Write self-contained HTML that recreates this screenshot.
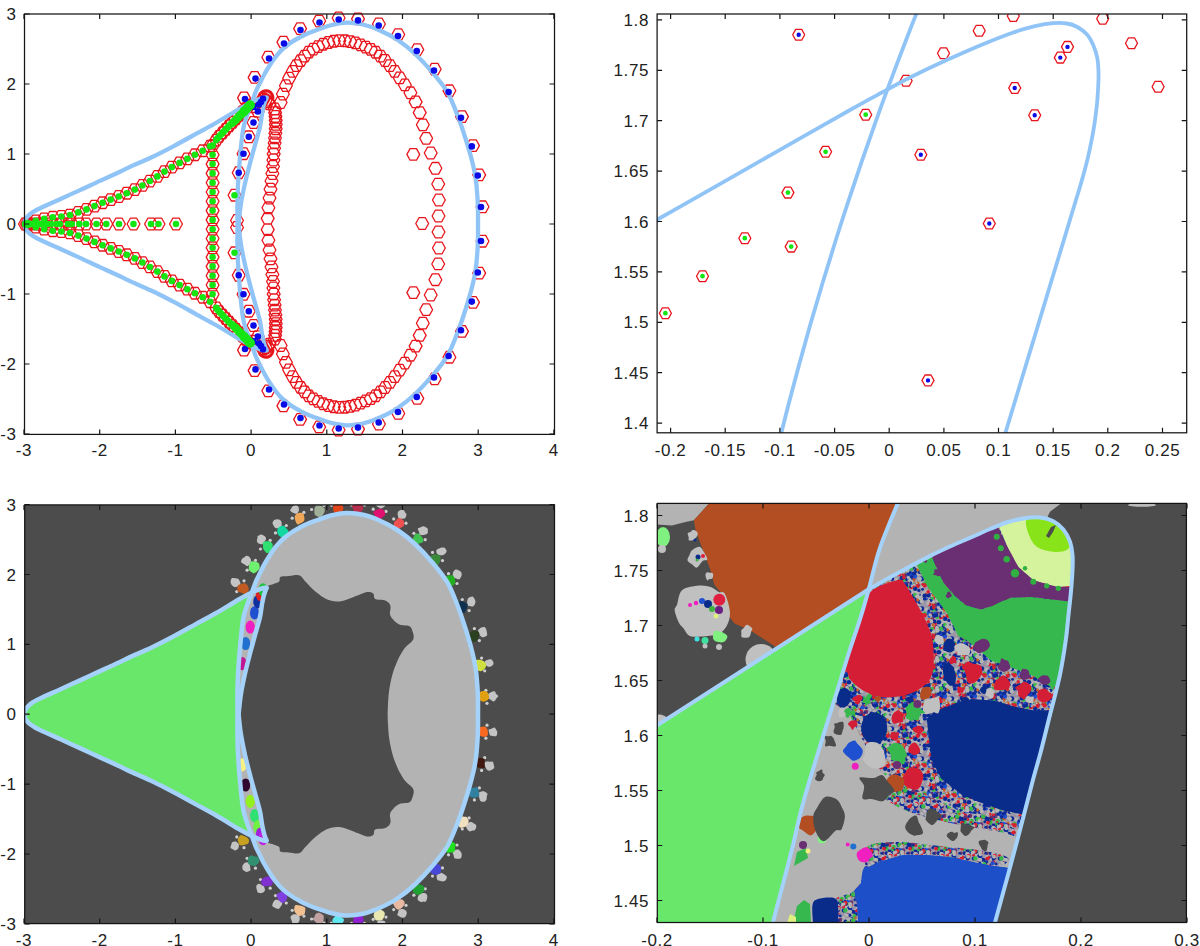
<!DOCTYPE html>
<html><head><meta charset="utf-8"><style>
html,body{margin:0;padding:0;background:#fff;width:1200px;height:946px;overflow:hidden}
svg{display:block}
</style></head><body>
<svg width="1200" height="946" viewBox="0 0 1200 946">
<rect x="24.7" y="504.9" width="529.8" height="418.70000000000005" fill="#4c4c4c"/>
<rect x="657.3" y="503.4" width="529.1000000000001" height="419.1" fill="#4c4c4c"/>
<path d="M476.1,206.8L479.3,201H485.7L488.9,206.8L485.7,212.6H479.3ZM472.8,174.9L476,169.2H482.4L485.6,174.9L482.4,180.7H476ZM466.6,145.6L469.8,139.8H476.2L479.4,145.6L476.2,151.3H469.8ZM455.6,116.6L458.8,110.9H465.2L468.4,116.6L465.2,122.4H458.8ZM443,90.8L446.2,85H452.6L455.8,90.8L452.6,96.5H446.2ZM428.3,69.2L431.5,63.4H437.9L441.1,69.2L437.9,74.9H431.5ZM410.9,49.6L414.1,43.8H420.5L423.7,49.6L420.5,55.3H414.1ZM391.9,34.5L395.1,28.8H401.5L404.7,34.5L401.5,40.3H395.1ZM372.5,24L375.7,18.2H382.1L385.3,24L382.1,29.8H375.7ZM351.6,18.9L354.8,13.1H361.2L364.4,18.9L361.2,24.7H354.8ZM332.2,18L335.4,12.2H341.8L345,18L341.8,23.8H335.4ZM312.8,21L316,15.3H322.4L325.6,21L322.4,26.8H316ZM293.7,28.6L296.9,22.8H303.3L306.5,28.6L303.3,34.3H296.9ZM277,42.1L280.2,36.4H286.6L289.8,42.1L286.6,47.9H280.2ZM261.9,57.2L265.1,51.4H271.5L274.7,57.2L271.5,62.9H265.1ZM248.2,77.4L251.4,71.6H257.8L261,77.4L257.8,83.1H251.4ZM237.6,97.9L240.8,92.1H247.2L250.4,97.9L247.2,103.6H240.8ZM476.1,241.2L479.3,235.4H485.7L488.9,241.2L485.7,247H479.3ZM472.8,273.1L476,267.3H482.4L485.6,273.1L482.4,278.8H476ZM466.6,302.4L469.8,296.7H476.2L479.4,302.4L476.2,308.2H469.8ZM455.6,331.4L458.8,325.6H465.2L468.4,331.4L465.2,337.1H458.8ZM443,357.2L446.2,351.5H452.6L455.8,357.2L452.6,363H446.2ZM428.3,378.8L431.5,373.1H437.9L441.1,378.8L437.9,384.6H431.5ZM410.9,398.4L414.1,392.7H420.5L423.7,398.4L420.5,404.2H414.1ZM391.9,413.5L395.1,407.7H401.5L404.7,413.5L401.5,419.2H395.1ZM372.5,424L375.7,418.2H382.1L385.3,424L382.1,429.8H375.7ZM351.6,429.1L354.8,423.3H361.2L364.4,429.1L361.2,434.9H354.8ZM332.2,430L335.4,424.2H341.8L345,430L341.8,435.8H335.4ZM312.8,427L316,421.2H322.4L325.6,427L322.4,432.7H316ZM293.7,419.4L296.9,413.7H303.3L306.5,419.4L303.3,425.2H296.9ZM277,405.9L280.2,400.1H286.6L289.8,405.9L286.6,411.6H280.2ZM261.9,390.8L265.1,385.1H271.5L274.7,390.8L271.5,396.6H265.1ZM248.2,370.6L251.4,364.9H257.8L261,370.6L257.8,376.4H251.4ZM237.6,350.1L240.8,344.4H247.2L250.4,350.1L247.2,355.9H240.8ZM232.3,172.7L235.5,166.9H241.9L245.1,172.7L241.9,178.5H235.5ZM237.1,153.7L240.3,147.9H246.7L249.9,153.7L246.7,159.5H240.3ZM242.4,136.8L245.6,131H252L255.2,136.8L252,142.6H245.6ZM247.1,122.5L250.3,116.7H256.7L259.9,122.5L256.7,128.3H250.3ZM251.4,111.4L254.6,105.6H261L264.2,111.4L261,117.2H254.6ZM247.1,106.7L250.3,100.9H256.7L259.9,106.7L256.7,112.5H250.3ZM254.6,102L257.8,96.2H264.2L267.4,102L264.2,107.8H257.8ZM256.6,98.7L259.8,92.9H266.2L269.4,98.7L266.2,104.5H259.8ZM252.6,104.5L255.8,98.7H262.2L265.4,104.5L262.2,110.3H255.8ZM232.3,275.3L235.5,269.5H241.9L245.1,275.3L241.9,281.1H235.5ZM237.1,294.3L240.3,288.5H246.7L249.9,294.3L246.7,300.1H240.3ZM242.4,311.2L245.6,305.4H252L255.2,311.2L252,317H245.6ZM247.1,325.5L250.3,319.7H256.7L259.9,325.5L256.7,331.3H250.3ZM251.4,336.6L254.6,330.8H261L264.2,336.6L261,342.4H254.6ZM247.1,341.3L250.3,335.5H256.7L259.9,341.3L256.7,347.1H250.3ZM254.6,346L257.8,340.2H264.2L267.4,346L264.2,351.8H257.8ZM256.6,349.3L259.8,343.5H266.2L269.4,349.3L266.2,355.1H259.8ZM252.6,343.5L255.8,337.7H262.2L265.4,343.5L262.2,349.3H255.8ZM228.1,195.2L231.3,189.4H237.7L240.9,195.2L237.7,201H231.3ZM228.1,252.8L231.3,247H237.7L240.9,252.8L237.7,258.6H231.3ZM230.6,220.5L233.8,214.7H240.2L243.4,220.5L240.2,226.3H233.8ZM230.6,227.5L233.8,221.7H240.2L243.4,227.5L240.2,233.3H233.8ZM406.9,154.4L410.1,148.6H416.5L419.7,154.4L416.5,160.2H410.1ZM415.8,223.5L419,217.7H425.4L428.6,223.5L425.4,229.3H419ZM406.9,292.6L410.1,286.8H416.5L419.7,292.6L416.5,298.4H410.1ZM432.1,216L435.3,210.2H441.7L444.9,216L441.7,221.8H435.3ZM432.5,200L435.7,194.2H442.1L445.3,200L442.1,205.8H435.7ZM431.8,184L435,178.3H441.4L444.6,184L441.4,189.8H435ZM429,168.3L432.2,162.5H438.6L441.8,168.3L438.6,174.1H432.2ZM424.3,153L427.5,147.2H433.9L437.1,153L433.9,158.8H427.5ZM419.8,138.3L423,132.6H429.4L432.6,138.3L429.4,144.1H423ZM416.4,124.8L419.6,119.1H426L429.2,124.8L426,130.6H419.6ZM413.3,112.6L416.5,106.8H422.9L426.1,112.6L422.9,118.3H416.5ZM409.2,101.9L412.4,96.1H418.8L422,101.9L418.8,107.7H412.4ZM404,92.8L407.2,87H413.6L416.8,92.8L413.6,98.6H407.2ZM398.5,85L401.7,79.2H408.1L411.3,85L408.1,90.7H401.7ZM393.3,77.8L396.5,72.1H402.9L406.1,77.8L402.9,83.6H396.5ZM388.3,71.3L391.5,65.6H397.9L401.1,71.3L397.9,77.1H391.5ZM383.5,65.6L386.7,59.8H393.1L396.3,65.6L393.1,71.3H386.7ZM378.7,60.5L381.9,54.7H388.3L391.5,60.5L388.3,66.3H381.9ZM374,56L377.2,50.3H383.6L386.8,56L383.6,61.8H377.2ZM369.2,52.2L372.4,46.5H378.8L382,52.2L378.8,58H372.4ZM364.3,49.3L367.5,43.6H373.9L377.1,49.3L373.9,55.1H367.5ZM359.3,47L362.5,41.3H368.9L372.1,47L368.9,52.8H362.5ZM354.2,45L357.4,39.2H363.8L367,45L363.8,50.7H357.4ZM349.1,43L352.3,37.2H358.7L361.9,43L358.7,48.7H352.3ZM343.8,41.6L347,35.8H353.4L356.6,41.6L353.4,47.3H347ZM338.4,40.8L341.6,35H348L351.2,40.8L348,46.5H341.6ZM332.9,40.6L336.1,34.9H342.5L345.7,40.6L342.5,46.4H336.1ZM327.4,41.3L330.6,35.5H337L340.2,41.3L337,47H330.6ZM322,42.5L325.2,36.7H331.6L334.8,42.5L331.6,48.3H325.2ZM316.8,44.3L320,38.5H326.4L329.6,44.3L326.4,50H320ZM311.8,46.5L315,40.8H321.4L324.6,46.5L321.4,52.3H315ZM307,49.1L310.2,43.3H316.6L319.8,49.1L316.6,54.8H310.2ZM302.4,52.2L305.6,46.4H312L315.2,52.2L312,57.9H305.6ZM298.3,56.1L301.5,50.3H307.9L311.1,56.1L307.9,61.8H301.5ZM294.2,60.6L297.4,54.8H303.8L307,60.6L303.8,66.4H297.4ZM290,65.6L293.2,59.8H299.6L302.8,65.6L299.6,71.4H293.2ZM286.3,71.5L289.5,65.7H295.9L299.1,71.5L295.9,77.2H289.5ZM282.7,78.2L285.9,72.4H292.3L295.5,78.2L292.3,83.9H285.9ZM279.5,85.7L282.7,79.9H289.1L292.3,85.7L289.1,91.4H282.7ZM276.5,94L279.7,88.3H286.1L289.3,94L286.1,99.8H279.7ZM274.2,102.5L277.4,96.7H283.8L287,102.5L283.8,108.3H277.4ZM432.1,232L435.3,226.2H441.7L444.9,232L441.7,237.8H435.3ZM432.5,248L435.7,242.2H442.1L445.3,248L442.1,253.8H435.7ZM431.8,264L435,258.2H441.4L444.6,264L441.4,269.7H435ZM429,279.7L432.2,273.9H438.6L441.8,279.7L438.6,285.5H432.2ZM424.3,295L427.5,289.2H433.9L437.1,295L433.9,300.8H427.5ZM419.8,309.7L423,303.9H429.4L432.6,309.7L429.4,315.4H423ZM416.4,323.2L419.6,317.4H426L429.2,323.2L426,328.9H419.6ZM413.3,335.4L416.5,329.7H422.9L426.1,335.4L422.9,341.2H416.5ZM409.2,346.1L412.4,340.3H418.8L422,346.1L418.8,351.9H412.4ZM404,355.2L407.2,349.4H413.6L416.8,355.2L413.6,361H407.2ZM398.5,363L401.7,357.3H408.1L411.3,363L408.1,368.8H401.7ZM393.3,370.2L396.5,364.4H402.9L406.1,370.2L402.9,375.9H396.5ZM388.3,376.7L391.5,370.9H397.9L401.1,376.7L397.9,382.4H391.5ZM383.5,382.4L386.7,376.7H393.1L396.3,382.4L393.1,388.2H386.7ZM378.7,387.5L381.9,381.7H388.3L391.5,387.5L388.3,393.3H381.9ZM374,392L377.2,386.2H383.6L386.8,392L383.6,397.7H377.2ZM369.2,395.8L372.4,390H378.8L382,395.8L378.8,401.5H372.4ZM364.3,398.7L367.5,392.9H373.9L377.1,398.7L373.9,404.4H367.5ZM359.3,401L362.5,395.2H368.9L372.1,401L368.9,406.7H362.5ZM354.2,403L357.4,397.3H363.8L367,403L363.8,408.8H357.4ZM349.1,405L352.3,399.3H358.7L361.9,405L358.7,410.8H352.3ZM343.8,406.4L347,400.7H353.4L356.6,406.4L353.4,412.2H347ZM338.4,407.2L341.6,401.5H348L351.2,407.2L348,413H341.6ZM332.9,407.4L336.1,401.6H342.5L345.7,407.4L342.5,413.1H336.1ZM327.4,406.7L330.6,401H337L340.2,406.7L337,412.5H330.6ZM322,405.5L325.2,399.7H331.6L334.8,405.5L331.6,411.3H325.2ZM316.8,403.7L320,398H326.4L329.6,403.7L326.4,409.5H320ZM311.8,401.5L315,395.7H321.4L324.6,401.5L321.4,407.2H315ZM307,398.9L310.2,393.2H316.6L319.8,398.9L316.6,404.7H310.2ZM302.4,395.8L305.6,390.1H312L315.2,395.8L312,401.6H305.6ZM298.3,391.9L301.5,386.2H307.9L311.1,391.9L307.9,397.7H301.5ZM294.2,387.4L297.4,381.6H303.8L307,387.4L303.8,393.2H297.4ZM290,382.4L293.2,376.6H299.6L302.8,382.4L299.6,388.2H293.2ZM286.3,376.5L289.5,370.8H295.9L299.1,376.5L295.9,382.3H289.5ZM282.7,369.8L285.9,364.1H292.3L295.5,369.8L292.3,375.6H285.9ZM279.5,362.3L282.7,356.6H289.1L292.3,362.3L289.1,368.1H282.7ZM276.5,354L279.7,348.2H286.1L289.3,354L286.1,359.7H279.7ZM274.2,345.5L277.4,339.7H283.8L287,345.5L283.8,351.3H277.4ZM257.1,99.2L260.3,93.4H266.7L269.9,99.2L266.7,105H260.3ZM259.1,100.3L262.3,94.5H268.7L271.9,100.3L268.7,106.1H262.3ZM261.1,101.8L264.3,96H270.7L273.9,101.8L270.7,107.6H264.3ZM263.1,103.8L266.3,98H272.7L275.9,103.8L272.7,109.6H266.3ZM257.1,348.8L260.3,343H266.7L269.9,348.8L266.7,354.6H260.3ZM259.1,347.7L262.3,341.9H268.7L271.9,347.7L268.7,353.5H262.3ZM261.1,346.2L264.3,340.4H270.7L273.9,346.2L270.7,352H264.3ZM263.1,344.2L266.3,338.4H272.7L275.9,344.2L272.7,350H266.3ZM261.3,218.4L264.5,212.6H270.9L274.1,218.4L270.9,224.2H264.5ZM262,207.7L265.2,202H271.6L274.8,207.7L271.6,213.5H265.2ZM263.1,198L266.3,192.3H272.7L275.9,198L272.7,203.8H266.3ZM264.1,189.2L267.3,183.4H273.7L276.9,189.2L273.7,194.9H267.3ZM265.1,181L268.3,175.3H274.7L277.9,181L274.7,186.8H268.3ZM266,173.5L269.2,167.7H275.6L278.8,173.5L275.6,179.3H269.2ZM266.6,166.5L269.8,160.7H276.2L279.4,166.5L276.2,172.3H269.8ZM267,160L270.2,154.2H276.6L279.8,160L276.6,165.8H270.2ZM267.3,153.9L270.5,148.2H276.9L280.1,153.9L276.9,159.7H270.5ZM267.7,148.3L270.9,142.5H277.3L280.5,148.3L277.3,154H270.9ZM268.2,143L271.4,137.2H277.8L281,143L277.8,148.7H271.4ZM268.6,138L271.8,132.2H278.2L281.4,138L278.2,143.7H271.8ZM269,133.2L272.2,127.5H278.6L281.8,133.2L278.6,139H272.2ZM269.3,128.8L272.5,123H278.9L282.1,128.8L278.9,134.5H272.5ZM269.4,124.5L272.6,118.7H279L282.2,124.5L279,130.2H272.6ZM269.3,120.4L272.5,114.6H278.9L282.1,120.4L278.9,126.1H272.5ZM269.1,116.5L272.3,110.7H278.7L281.9,116.5L278.7,122.2H272.3ZM268.7,112.7L271.9,106.9H278.3L281.5,112.7L278.3,118.4H271.9ZM268.4,109L271.6,103.2H278L281.2,109L278,114.8H271.6ZM261.3,229.6L264.5,223.8H270.9L274.1,229.6L270.9,235.4H264.5ZM262,240.3L265.2,234.5H271.6L274.8,240.3L271.6,246H265.2ZM263.1,250L266.3,244.2H272.7L275.9,250L272.7,255.7H266.3ZM264.1,258.8L267.3,253.1H273.7L276.9,258.8L273.7,264.6H267.3ZM265.1,267L268.3,261.2H274.7L277.9,267L274.7,272.7H268.3ZM266,274.5L269.2,268.7H275.6L278.8,274.5L275.6,280.3H269.2ZM266.6,281.5L269.8,275.7H276.2L279.4,281.5L276.2,287.3H269.8ZM267,288L270.2,282.2H276.6L279.8,288L276.6,293.8H270.2ZM267.3,294.1L270.5,288.3H276.9L280.1,294.1L276.9,299.8H270.5ZM267.7,299.7L270.9,294H277.3L280.5,299.7L277.3,305.5H270.9ZM268.2,305L271.4,299.3H277.8L281,305L277.8,310.8H271.4ZM268.6,310L271.8,304.3H278.2L281.4,310L278.2,315.8H271.8ZM269,314.8L272.2,309H278.6L281.8,314.8L278.6,320.5H272.2ZM269.3,319.2L272.5,313.5H278.9L282.1,319.2L278.9,325H272.5ZM269.4,323.5L272.6,317.8H279L282.2,323.5L279,329.3H272.6ZM269.3,327.6L272.5,321.9H278.9L282.1,327.6L278.9,333.4H272.5ZM269.1,331.5L272.3,325.8H278.7L281.9,331.5L278.7,337.3H272.3ZM268.7,335.3L271.9,329.6H278.3L281.5,335.3L278.3,341.1H271.9ZM268.4,339L271.6,333.2H278L281.2,339L278,344.8H271.6ZM21,223.1L24.2,217.4H30.6L33.8,223.1L30.6,228.9H24.2ZM29.4,220.8L32.6,215.1H39L42.2,220.8L39,226.6H32.6ZM37.8,218.8L41,213.1H47.4L50.6,218.8L47.4,224.6H41ZM46.4,217.2L49.6,211.5H56L59.2,217.2L56,223H49.6ZM55,216.5L58.2,210.7H64.6L67.8,216.5L64.6,222.2H58.2ZM63.6,215L66.8,209.3H73.2L76.4,215L73.2,220.8H66.8ZM71.9,212.4L75.1,206.7H81.5L84.7,212.4L81.5,218.2H75.1ZM80.1,209.4L83.3,203.7H89.7L92.9,209.4L89.7,215.2H83.3ZM88.1,206.1L91.3,200.4H97.7L100.9,206.1L97.7,211.9H91.3ZM96.2,202.8L99.4,197H105.8L109,202.8L105.8,208.5H99.4ZM104.3,199.6L107.5,193.9H113.9L117.1,199.6L113.9,205.4H107.5ZM112.4,196.5L115.6,190.7H122L125.2,196.5L122,202.3H115.6ZM120.4,193.2L123.6,187.4H130L133.2,193.2L130,199H123.6ZM128.4,189.6L131.6,183.9H138L141.2,189.6L138,195.4H131.6ZM136,185.5L139.2,179.7H145.6L148.8,185.5L145.6,191.2H139.2ZM143.5,181L146.7,175.3H153.1L156.3,181L153.1,186.8H146.7ZM150.9,176.4L154.1,170.7H160.5L163.7,176.4L160.5,182.2H154.1ZM158.1,171.6L161.3,165.9H167.7L170.9,171.6L167.7,177.4H161.3ZM165.5,167.1L168.7,161.3H175.1L178.3,167.1L175.1,172.8H168.7ZM173.2,162.9L176.4,157.1H182.8L186,162.9L182.8,168.6H176.4ZM180.9,158.8L184.1,153.1H190.5L193.7,158.8L190.5,164.6H184.1ZM188.5,154.7L191.7,149H198.1L201.3,154.7L198.1,160.5H191.7ZM196.3,150.7L199.5,145H205.9L209.1,150.7L205.9,156.5H199.5ZM203.7,146.3L206.9,140.5H213.3L216.5,146.3L213.3,152H206.9ZM209.8,140.1L213,134.4H219.4L222.6,140.1L219.4,145.9H213ZM212.8,136.3L216,130.6H222.4L225.6,136.3L222.4,142.1H216ZM216.1,132.8L219.3,127.1H225.7L228.9,132.8L225.7,138.6H219.3ZM219.4,129.4L222.6,123.6H229L232.2,129.4L229,135.1H222.6ZM222.7,125.9L225.9,120.1H232.3L235.5,125.9L232.3,131.6H225.9ZM226,122.4L229.2,116.7H235.6L238.8,122.4L235.6,128.2H229.2ZM229.3,118.9L232.5,113.2H238.9L242.1,118.9L238.9,124.7H232.5ZM232.6,115.5L235.8,109.7H242.2L245.4,115.5L242.2,121.2H235.8ZM235.9,112L239.1,106.2H245.5L248.7,112L245.5,117.8H239.1ZM239.3,108.5L242.5,102.8H248.9L252.1,108.5L248.9,114.3H242.5ZM242.6,105.1L245.8,99.3H252.2L255.4,105.1L252.2,110.8H245.8ZM21,224.9L24.2,219.1H30.6L33.8,224.9L30.6,230.6H24.2ZM29.4,227.2L32.6,221.4H39L42.2,227.2L39,232.9H32.6ZM37.8,229.2L41,223.4H47.4L50.6,229.2L47.4,234.9H41ZM46.4,230.8L49.6,225H56L59.2,230.8L56,236.5H49.6ZM55,231.5L58.2,225.8H64.6L67.8,231.5L64.6,237.3H58.2ZM63.6,233L66.8,227.2H73.2L76.4,233L73.2,238.7H66.8ZM71.9,235.6L75.1,229.8H81.5L84.7,235.6L81.5,241.3H75.1ZM80.1,238.6L83.3,232.8H89.7L92.9,238.6L89.7,244.3H83.3ZM88.1,241.9L91.3,236.1H97.7L100.9,241.9L97.7,247.6H91.3ZM96.2,245.2L99.4,239.5H105.8L109,245.2L105.8,251H99.4ZM104.3,248.4L107.5,242.6H113.9L117.1,248.4L113.9,254.1H107.5ZM112.4,251.5L115.6,245.7H122L125.2,251.5L122,257.3H115.6ZM120.4,254.8L123.6,249H130L133.2,254.8L130,260.6H123.6ZM128.4,258.4L131.6,252.6H138L141.2,258.4L138,264.1H131.6ZM136,262.5L139.2,256.8H145.6L148.8,262.5L145.6,268.3H139.2ZM143.5,267L146.7,261.2H153.1L156.3,267L153.1,272.7H146.7ZM150.9,271.6L154.1,265.8H160.5L163.7,271.6L160.5,277.3H154.1ZM158.1,276.4L161.3,270.6H167.7L170.9,276.4L167.7,282.1H161.3ZM165.5,280.9L168.7,275.2H175.1L178.3,280.9L175.1,286.7H168.7ZM173.2,285.1L176.4,279.4H182.8L186,285.1L182.8,290.9H176.4ZM180.9,289.2L184.1,283.4H190.5L193.7,289.2L190.5,294.9H184.1ZM188.5,293.3L191.7,287.5H198.1L201.3,293.3L198.1,299H191.7ZM196.3,297.3L199.5,291.5H205.9L209.1,297.3L205.9,303H199.5ZM203.7,301.7L206.9,296H213.3L216.5,301.7L213.3,307.5H206.9ZM209.8,307.9L213,302.1H219.4L222.6,307.9L219.4,313.6H213ZM212.8,311.7L216,305.9H222.4L225.6,311.7L222.4,317.4H216ZM216.1,315.2L219.3,309.4H225.7L228.9,315.2L225.7,320.9H219.3ZM219.4,318.6L222.6,312.9H229L232.2,318.6L229,324.4H222.6ZM222.7,322.1L225.9,316.4H232.3L235.5,322.1L232.3,327.9H225.9ZM226,325.6L229.2,319.8H235.6L238.8,325.6L235.6,331.3H229.2ZM229.3,329.1L232.5,323.3H238.9L242.1,329.1L238.9,334.8H232.5ZM232.6,332.5L235.8,326.8H242.2L245.4,332.5L242.2,338.3H235.8ZM235.9,336L239.1,330.2H245.5L248.7,336L245.5,341.8H239.1ZM239.3,339.5L242.5,333.7H248.9L252.1,339.5L248.9,345.2H242.5ZM242.6,342.9L245.8,337.2H252.2L255.4,342.9L252.2,348.7H245.8ZM206.2,145.5L209.4,139.7H215.8L219,145.5L215.8,151.3H209.4ZM206.2,154.8L209.4,149H215.8L219,154.8L215.8,160.6H209.4ZM206.2,164.1L209.4,158.3H215.8L219,164.1L215.8,169.9H209.4ZM206.2,173.4L209.4,167.6H215.8L219,173.4L215.8,179.2H209.4ZM206.2,182.7L209.4,176.9H215.8L219,182.7L215.8,188.5H209.4ZM206.2,192L209.4,186.2H215.8L219,192L215.8,197.8H209.4ZM206.2,201.3L209.4,195.5H215.8L219,201.3L215.8,207.1H209.4ZM206.2,210.6L209.4,204.8H215.8L219,210.6L215.8,216.4H209.4ZM206.2,219.9L209.4,214.1H215.8L219,219.9L215.8,225.7H209.4ZM206.2,229.2L209.4,223.4H215.8L219,229.2L215.8,235H209.4ZM206.2,238.5L209.4,232.7H215.8L219,238.5L215.8,244.3H209.4ZM206.2,247.8L209.4,242H215.8L219,247.8L215.8,253.6H209.4ZM206.2,257.1L209.4,251.3H215.8L219,257.1L215.8,262.9H209.4ZM206.2,266.4L209.4,260.6H215.8L219,266.4L215.8,272.2H209.4ZM206.2,275.7L209.4,269.9H215.8L219,275.7L215.8,281.5H209.4ZM206.2,285L209.4,279.2H215.8L219,285L215.8,290.8H209.4ZM206.2,294.3L209.4,288.5H215.8L219,294.3L215.8,300.1H209.4ZM18.6,224L21.8,218.2H28.2L31.4,224L28.2,229.8H21.8ZM20.6,224L23.8,218.2H30.2L33.4,224L30.2,229.8H23.8ZM22.6,224L25.8,218.2H32.2L35.4,224L32.2,229.8H25.8ZM25.1,224L28.3,218.2H34.7L37.9,224L34.7,229.8H28.3ZM27.6,224L30.8,218.2H37.2L40.4,224L37.2,229.8H30.8ZM30.6,224L33.8,218.2H40.2L43.4,224L40.2,229.8H33.8ZM33.6,224L36.8,218.2H43.2L46.4,224L43.2,229.8H36.8ZM37.1,224L40.3,218.2H46.7L49.9,224L46.7,229.8H40.3ZM40.6,224L43.8,218.2H50.2L53.4,224L50.2,229.8H43.8ZM44.6,224L47.8,218.2H54.2L57.4,224L54.2,229.8H47.8ZM50.4,224L53.6,218.2H60L63.2,224L60,229.8H53.6ZM53.4,224L56.6,218.2H63L66.2,224L63,229.8H56.6ZM61.6,224L64.8,218.2H71.2L74.4,224L71.2,229.8H64.8ZM65.4,224L68.6,218.2H75L78.2,224L75,229.8H68.6ZM72.9,224L76.1,218.2H82.5L85.7,224L82.5,229.8H76.1ZM79.6,224L82.8,218.2H89.2L92.4,224L89.2,229.8H82.8ZM90.1,224L93.3,218.2H99.7L102.9,224L99.7,229.8H93.3ZM99.9,224L103.1,218.2H109.5L112.7,224L109.5,229.8H103.1ZM112.6,224L115.8,218.2H122.2L125.4,224L122.2,229.8H115.8ZM127.1,224L130.3,218.2H136.7L139.9,224L136.7,229.8H130.3ZM144.6,224L147.8,218.2H154.2L157.4,224L154.2,229.8H147.8ZM152.1,224L155.3,218.2H161.7L164.9,224L161.7,229.8H155.3ZM169.6,224L172.8,218.2H179.2L182.4,224L179.2,229.8H172.8Z" fill="none" stroke="#e8141c" stroke-width="1.3" stroke-linejoin="round"/>
<path d="M259.2,95.6 A7,7 0 0,1 272.6,99.8" fill="none" stroke="#e8141c" stroke-width="3"/>
<path d="M259.2,352.4 A7,7 0 0,0 272.6,348.2" fill="none" stroke="#e8141c" stroke-width="3"/>
<g fill="none" stroke="#90c4f7" stroke-width="4.3" stroke-linecap="round" stroke-linejoin="round"><path d="M237.5,224C237.5,217.7 237.3,211.5 237.4,205C237.5,198.5 237.6,192.2 238,185C238.4,177.8 238.8,171.2 239.6,162C240.4,152.8 241.8,137.7 243,130C244.2,122.3 245.4,120.5 246.8,116C248.2,111.5 250,107.2 251.6,103C253.2,98.8 254.7,94.3 256.1,90.9C257.6,87.5 258.9,85.2 260.3,82.4C261.7,79.6 262.9,76.8 264.5,74C266.1,71.2 267.8,68.3 269.6,65.5C271.4,62.7 273.4,59.7 275.5,57C277.6,54.3 279.8,51.8 282.3,49.4C284.8,47 287.9,44.7 290.7,42.7C293.5,40.7 296.3,39.2 299.2,37.6C302.1,36 304.8,34.6 308,33.2C311.2,31.9 314.2,30.9 318.2,29.5C322.2,28.1 327.2,26.1 332,25C336.8,23.9 341.5,22.8 346.7,22.7C351.9,22.6 357.4,23.2 363,24.5C368.6,25.8 374.3,27.9 380,30.5C385.7,33 391.6,35.9 397.4,39.8C403.2,43.7 409.1,48.3 414.9,53.7C420.7,59.1 426.9,65.9 432.3,72.3C437.7,78.7 443.1,84.8 447.4,92.1C451.6,99.4 454.7,108 457.8,116C460.9,124 463.7,132.7 466,140C468.3,147.3 470.2,153.7 471.8,160C473.4,166.3 474.7,171.7 475.6,178C476.6,184.3 477.1,192.3 477.5,198C477.9,203.7 477.9,207.7 478,212C478.1,216.3 478,220 478,224C478,228 478.1,231.7 478,236C477.9,240.3 477.9,244.3 477.5,250C477.1,255.7 476.6,263.7 475.6,270C474.7,276.3 473.4,281.7 471.8,288C470.2,294.3 468.3,300.7 466,308C463.7,315.3 460.9,324 457.8,332C454.7,340 451.6,348.6 447.4,355.9C443.1,363.2 437.7,369.3 432.3,375.7C426.9,382.1 420.7,388.9 414.9,394.3C409.1,399.7 403.2,404.3 397.4,408.2C391.6,412.1 385.7,414.9 380,417.5C374.3,420.1 368.6,422.2 363,423.5C357.4,424.8 351.9,425.4 346.7,425.3C341.5,425.2 336.8,424.1 332,423C327.2,421.9 322.2,419.9 318.2,418.5C314.2,417.1 311.2,416.2 308,414.8C304.8,413.4 302.1,412 299.2,410.4C296.3,408.8 293.5,407.3 290.7,405.3C287.9,403.3 284.8,401 282.3,398.6C279.8,396.2 277.6,393.7 275.5,391C273.4,388.3 271.4,385.3 269.6,382.5C267.8,379.7 266.1,376.8 264.5,374C262.9,371.2 261.7,368.4 260.3,365.6C258.9,362.8 257.6,360.5 256.1,357.1C254.7,353.7 253.2,349.2 251.6,345C250,340.8 248.2,336.5 246.8,332C245.4,327.5 244.2,325.7 243,318C241.8,310.3 240.4,295.2 239.6,286C238.8,276.8 238.4,270.2 238,263C237.6,255.8 237.5,249.5 237.4,243C237.3,236.5 237.5,230.3 237.5,224Z"/><path d="M24,224C24.2,223.2 24.8,220.9 25.5,219.5C26.2,218.1 27.2,216.8 28.5,215.5C29.8,214.2 31.1,213.2 33,212C34.9,210.8 35.5,210.3 40,208.2C44.5,206.1 53.3,202.2 60,199.2C66.7,196.2 73.3,193.1 80,190.1C86.7,187.1 93.3,183.9 100,180.9C106.7,177.9 115,174.1 120,171.8C125,169.5 124.7,169.3 130,166.9C135.3,164.5 144.5,160.6 151.7,157.2C158.9,153.8 166.1,150.1 173.3,146.3C180.5,142.5 187.8,138.4 195,134.4C202.2,130.4 209.5,126.7 216.7,122.5C223.9,118.3 232.7,112.8 238.3,109.5C243.9,106.2 247,104.7 250.3,103C253.6,101.3 255.8,100.5 258,99.6C260.2,98.7 262.1,98.1 263.5,97.8C264.9,97.5 266,97.6 266.5,97.6"/><path d="M266.5,97.6C266.1,98.7 264.9,101.3 264.2,104C263.4,106.7 262.7,110.1 262,114C261.3,117.9 261.1,122.1 259.9,127.3C258.7,132.5 256.6,139.3 255,145C253.4,150.7 252.1,155.4 250.4,161.7C248.8,168 246.7,175.8 245.1,182.9C243.5,190 242,197.2 240.9,204C239.8,210.8 239,220.7 238.6,224"/><path d="M24,224C24.2,224.8 24.8,227.1 25.5,228.5C26.2,229.9 27.2,231.2 28.5,232.5C29.8,233.8 31.1,234.8 33,236C34.9,237.2 35.5,237.7 40,239.8C44.5,241.9 53.3,245.8 60,248.8C66.7,251.8 73.3,254.8 80,257.9C86.7,260.9 93.3,264.1 100,267.1C106.7,270.2 115,273.9 120,276.2C125,278.5 124.7,278.7 130,281.1C135.3,283.5 144.5,287.4 151.7,290.8C158.9,294.2 166.1,297.9 173.3,301.7C180.5,305.5 187.8,309.6 195,313.6C202.2,317.6 209.5,321.4 216.7,325.5C223.9,329.6 232.7,335.2 238.3,338.5C243.9,341.8 247,343.4 250.3,345C253.6,346.6 255.8,347.5 258,348.4C260.2,349.3 262.1,349.9 263.5,350.2C264.9,350.5 266,350.4 266.5,350.4"/><path d="M266.5,350.4C266.1,349.3 264.9,346.7 264.2,344C263.4,341.3 262.7,337.9 262,334C261.3,330.1 261.1,325.9 259.9,320.7C258.7,315.5 256.6,308.7 255,303C253.4,297.3 252.1,292.6 250.4,286.3C248.8,280 246.7,272.2 245.1,265.1C243.5,258.1 242,250.8 240.9,244C239.8,237.2 239,227.3 238.6,224"/></g>
<path d="M477.7,207a3.3,3.3 0 1,0 6.6,0a3.3,3.3 0 1,0 -6.6,0M474.5,175.5a3.3,3.3 0 1,0 6.6,0a3.3,3.3 0 1,0 -6.6,0M468.5,146.4a3.3,3.3 0 1,0 6.6,0a3.3,3.3 0 1,0 -6.6,0M457.7,117.7a3.3,3.3 0 1,0 6.6,0a3.3,3.3 0 1,0 -6.6,0M445.3,92a3.3,3.3 0 1,0 6.6,0a3.3,3.3 0 1,0 -6.6,0M430.7,70.5a3.3,3.3 0 1,0 6.6,0a3.3,3.3 0 1,0 -6.6,0M413.5,51a3.3,3.3 0 1,0 6.6,0a3.3,3.3 0 1,0 -6.6,0M394.7,36a3.3,3.3 0 1,0 6.6,0a3.3,3.3 0 1,0 -6.6,0M375.4,25.5a3.3,3.3 0 1,0 6.6,0a3.3,3.3 0 1,0 -6.6,0M354.7,20.4a3.3,3.3 0 1,0 6.6,0a3.3,3.3 0 1,0 -6.6,0M335.4,19.5a3.3,3.3 0 1,0 6.6,0a3.3,3.3 0 1,0 -6.6,0M316.2,22.5a3.3,3.3 0 1,0 6.6,0a3.3,3.3 0 1,0 -6.6,0M297.2,30a3.3,3.3 0 1,0 6.6,0a3.3,3.3 0 1,0 -6.6,0M280.7,43.5a3.3,3.3 0 1,0 6.6,0a3.3,3.3 0 1,0 -6.6,0M265.7,58.5a3.3,3.3 0 1,0 6.6,0a3.3,3.3 0 1,0 -6.6,0M252.2,78.6a3.3,3.3 0 1,0 6.6,0a3.3,3.3 0 1,0 -6.6,0M241.7,99a3.3,3.3 0 1,0 6.6,0a3.3,3.3 0 1,0 -6.6,0M477.7,241a3.3,3.3 0 1,0 6.6,0a3.3,3.3 0 1,0 -6.6,0M474.5,272.5a3.3,3.3 0 1,0 6.6,0a3.3,3.3 0 1,0 -6.6,0M468.5,301.6a3.3,3.3 0 1,0 6.6,0a3.3,3.3 0 1,0 -6.6,0M457.7,330.3a3.3,3.3 0 1,0 6.6,0a3.3,3.3 0 1,0 -6.6,0M445.3,356a3.3,3.3 0 1,0 6.6,0a3.3,3.3 0 1,0 -6.6,0M430.7,377.5a3.3,3.3 0 1,0 6.6,0a3.3,3.3 0 1,0 -6.6,0M413.5,397a3.3,3.3 0 1,0 6.6,0a3.3,3.3 0 1,0 -6.6,0M394.7,412a3.3,3.3 0 1,0 6.6,0a3.3,3.3 0 1,0 -6.6,0M375.4,422.5a3.3,3.3 0 1,0 6.6,0a3.3,3.3 0 1,0 -6.6,0M354.7,427.6a3.3,3.3 0 1,0 6.6,0a3.3,3.3 0 1,0 -6.6,0M335.4,428.5a3.3,3.3 0 1,0 6.6,0a3.3,3.3 0 1,0 -6.6,0M316.2,425.5a3.3,3.3 0 1,0 6.6,0a3.3,3.3 0 1,0 -6.6,0M297.2,418a3.3,3.3 0 1,0 6.6,0a3.3,3.3 0 1,0 -6.6,0M280.7,404.5a3.3,3.3 0 1,0 6.6,0a3.3,3.3 0 1,0 -6.6,0M265.7,389.5a3.3,3.3 0 1,0 6.6,0a3.3,3.3 0 1,0 -6.6,0M252.2,369.4a3.3,3.3 0 1,0 6.6,0a3.3,3.3 0 1,0 -6.6,0M241.7,349a3.3,3.3 0 1,0 6.6,0a3.3,3.3 0 1,0 -6.6,0M235.4,172.7a3.3,3.3 0 1,0 6.6,0a3.3,3.3 0 1,0 -6.6,0M240.2,153.7a3.3,3.3 0 1,0 6.6,0a3.3,3.3 0 1,0 -6.6,0M245.5,136.8a3.3,3.3 0 1,0 6.6,0a3.3,3.3 0 1,0 -6.6,0M250.2,122.5a3.3,3.3 0 1,0 6.6,0a3.3,3.3 0 1,0 -6.6,0M254.5,111.4a3.3,3.3 0 1,0 6.6,0a3.3,3.3 0 1,0 -6.6,0M250.2,106.7a3.3,3.3 0 1,0 6.6,0a3.3,3.3 0 1,0 -6.6,0M257.7,102a3.3,3.3 0 1,0 6.6,0a3.3,3.3 0 1,0 -6.6,0M259.7,98.7a3.3,3.3 0 1,0 6.6,0a3.3,3.3 0 1,0 -6.6,0M255.7,104.5a3.3,3.3 0 1,0 6.6,0a3.3,3.3 0 1,0 -6.6,0M235.4,275.3a3.3,3.3 0 1,0 6.6,0a3.3,3.3 0 1,0 -6.6,0M240.2,294.3a3.3,3.3 0 1,0 6.6,0a3.3,3.3 0 1,0 -6.6,0M245.5,311.2a3.3,3.3 0 1,0 6.6,0a3.3,3.3 0 1,0 -6.6,0M250.2,325.5a3.3,3.3 0 1,0 6.6,0a3.3,3.3 0 1,0 -6.6,0M254.5,336.6a3.3,3.3 0 1,0 6.6,0a3.3,3.3 0 1,0 -6.6,0M250.2,341.3a3.3,3.3 0 1,0 6.6,0a3.3,3.3 0 1,0 -6.6,0M257.7,346a3.3,3.3 0 1,0 6.6,0a3.3,3.3 0 1,0 -6.6,0M259.7,349.3a3.3,3.3 0 1,0 6.6,0a3.3,3.3 0 1,0 -6.6,0M255.7,343.5a3.3,3.3 0 1,0 6.6,0a3.3,3.3 0 1,0 -6.6,0" fill="#0a0ae6"/>
<path d="M231.2,195.2a3.3,3.3 0 1,0 6.6,0a3.3,3.3 0 1,0 -6.6,0M231.2,252.8a3.3,3.3 0 1,0 6.6,0a3.3,3.3 0 1,0 -6.6,0M24.1,223.1a3.3,3.3 0 1,0 6.6,0a3.3,3.3 0 1,0 -6.6,0M32.5,220.8a3.3,3.3 0 1,0 6.6,0a3.3,3.3 0 1,0 -6.6,0M40.9,218.8a3.3,3.3 0 1,0 6.6,0a3.3,3.3 0 1,0 -6.6,0M49.5,217.2a3.3,3.3 0 1,0 6.6,0a3.3,3.3 0 1,0 -6.6,0M58.1,216.5a3.3,3.3 0 1,0 6.6,0a3.3,3.3 0 1,0 -6.6,0M66.7,215a3.3,3.3 0 1,0 6.6,0a3.3,3.3 0 1,0 -6.6,0M75,212.4a3.3,3.3 0 1,0 6.6,0a3.3,3.3 0 1,0 -6.6,0M83.2,209.4a3.3,3.3 0 1,0 6.6,0a3.3,3.3 0 1,0 -6.6,0M91.2,206.1a3.3,3.3 0 1,0 6.6,0a3.3,3.3 0 1,0 -6.6,0M99.3,202.8a3.3,3.3 0 1,0 6.6,0a3.3,3.3 0 1,0 -6.6,0M107.4,199.6a3.3,3.3 0 1,0 6.6,0a3.3,3.3 0 1,0 -6.6,0M115.5,196.5a3.3,3.3 0 1,0 6.6,0a3.3,3.3 0 1,0 -6.6,0M123.5,193.2a3.3,3.3 0 1,0 6.6,0a3.3,3.3 0 1,0 -6.6,0M131.5,189.6a3.3,3.3 0 1,0 6.6,0a3.3,3.3 0 1,0 -6.6,0M139.1,185.5a3.3,3.3 0 1,0 6.6,0a3.3,3.3 0 1,0 -6.6,0M146.6,181a3.3,3.3 0 1,0 6.6,0a3.3,3.3 0 1,0 -6.6,0M154,176.4a3.3,3.3 0 1,0 6.6,0a3.3,3.3 0 1,0 -6.6,0M161.2,171.6a3.3,3.3 0 1,0 6.6,0a3.3,3.3 0 1,0 -6.6,0M168.6,167.1a3.3,3.3 0 1,0 6.6,0a3.3,3.3 0 1,0 -6.6,0M176.3,162.9a3.3,3.3 0 1,0 6.6,0a3.3,3.3 0 1,0 -6.6,0M184,158.8a3.3,3.3 0 1,0 6.6,0a3.3,3.3 0 1,0 -6.6,0M191.6,154.7a3.3,3.3 0 1,0 6.6,0a3.3,3.3 0 1,0 -6.6,0M199.4,150.7a3.3,3.3 0 1,0 6.6,0a3.3,3.3 0 1,0 -6.6,0M206.8,146.3a3.3,3.3 0 1,0 6.6,0a3.3,3.3 0 1,0 -6.6,0M212.9,140.1a3.3,3.3 0 1,0 6.6,0a3.3,3.3 0 1,0 -6.6,0M213.9,138.8a3.3,3.3 0 1,0 6.6,0a3.3,3.3 0 1,0 -6.6,0M214.9,137.6a3.3,3.3 0 1,0 6.6,0a3.3,3.3 0 1,0 -6.6,0M215.9,136.3a3.3,3.3 0 1,0 6.6,0a3.3,3.3 0 1,0 -6.6,0M217,135.2a3.3,3.3 0 1,0 6.6,0a3.3,3.3 0 1,0 -6.6,0M218.1,134a3.3,3.3 0 1,0 6.6,0a3.3,3.3 0 1,0 -6.6,0M219.2,132.8a3.3,3.3 0 1,0 6.6,0a3.3,3.3 0 1,0 -6.6,0M220.3,131.7a3.3,3.3 0 1,0 6.6,0a3.3,3.3 0 1,0 -6.6,0M221.4,130.5a3.3,3.3 0 1,0 6.6,0a3.3,3.3 0 1,0 -6.6,0M222.5,129.4a3.3,3.3 0 1,0 6.6,0a3.3,3.3 0 1,0 -6.6,0M223.6,128.2a3.3,3.3 0 1,0 6.6,0a3.3,3.3 0 1,0 -6.6,0M224.7,127a3.3,3.3 0 1,0 6.6,0a3.3,3.3 0 1,0 -6.6,0M225.8,125.9a3.3,3.3 0 1,0 6.6,0a3.3,3.3 0 1,0 -6.6,0M226.9,124.7a3.3,3.3 0 1,0 6.6,0a3.3,3.3 0 1,0 -6.6,0M228,123.6a3.3,3.3 0 1,0 6.6,0a3.3,3.3 0 1,0 -6.6,0M229.1,122.4a3.3,3.3 0 1,0 6.6,0a3.3,3.3 0 1,0 -6.6,0M230.2,121.3a3.3,3.3 0 1,0 6.6,0a3.3,3.3 0 1,0 -6.6,0M231.3,120.1a3.3,3.3 0 1,0 6.6,0a3.3,3.3 0 1,0 -6.6,0M232.4,118.9a3.3,3.3 0 1,0 6.6,0a3.3,3.3 0 1,0 -6.6,0M233.5,117.8a3.3,3.3 0 1,0 6.6,0a3.3,3.3 0 1,0 -6.6,0M234.6,116.6a3.3,3.3 0 1,0 6.6,0a3.3,3.3 0 1,0 -6.6,0M235.7,115.5a3.3,3.3 0 1,0 6.6,0a3.3,3.3 0 1,0 -6.6,0M236.8,114.3a3.3,3.3 0 1,0 6.6,0a3.3,3.3 0 1,0 -6.6,0M237.9,113.2a3.3,3.3 0 1,0 6.6,0a3.3,3.3 0 1,0 -6.6,0M239,112a3.3,3.3 0 1,0 6.6,0a3.3,3.3 0 1,0 -6.6,0M240.1,110.8a3.3,3.3 0 1,0 6.6,0a3.3,3.3 0 1,0 -6.6,0M241.2,109.7a3.3,3.3 0 1,0 6.6,0a3.3,3.3 0 1,0 -6.6,0M242.4,108.5a3.3,3.3 0 1,0 6.6,0a3.3,3.3 0 1,0 -6.6,0M243.5,107.4a3.3,3.3 0 1,0 6.6,0a3.3,3.3 0 1,0 -6.6,0M244.6,106.2a3.3,3.3 0 1,0 6.6,0a3.3,3.3 0 1,0 -6.6,0M245.7,105.1a3.3,3.3 0 1,0 6.6,0a3.3,3.3 0 1,0 -6.6,0M24.1,224.9a3.3,3.3 0 1,0 6.6,0a3.3,3.3 0 1,0 -6.6,0M32.5,227.2a3.3,3.3 0 1,0 6.6,0a3.3,3.3 0 1,0 -6.6,0M40.9,229.2a3.3,3.3 0 1,0 6.6,0a3.3,3.3 0 1,0 -6.6,0M49.5,230.8a3.3,3.3 0 1,0 6.6,0a3.3,3.3 0 1,0 -6.6,0M58.1,231.5a3.3,3.3 0 1,0 6.6,0a3.3,3.3 0 1,0 -6.6,0M66.7,233a3.3,3.3 0 1,0 6.6,0a3.3,3.3 0 1,0 -6.6,0M75,235.6a3.3,3.3 0 1,0 6.6,0a3.3,3.3 0 1,0 -6.6,0M83.2,238.6a3.3,3.3 0 1,0 6.6,0a3.3,3.3 0 1,0 -6.6,0M91.2,241.9a3.3,3.3 0 1,0 6.6,0a3.3,3.3 0 1,0 -6.6,0M99.3,245.2a3.3,3.3 0 1,0 6.6,0a3.3,3.3 0 1,0 -6.6,0M107.4,248.4a3.3,3.3 0 1,0 6.6,0a3.3,3.3 0 1,0 -6.6,0M115.5,251.5a3.3,3.3 0 1,0 6.6,0a3.3,3.3 0 1,0 -6.6,0M123.5,254.8a3.3,3.3 0 1,0 6.6,0a3.3,3.3 0 1,0 -6.6,0M131.5,258.4a3.3,3.3 0 1,0 6.6,0a3.3,3.3 0 1,0 -6.6,0M139.1,262.5a3.3,3.3 0 1,0 6.6,0a3.3,3.3 0 1,0 -6.6,0M146.6,267a3.3,3.3 0 1,0 6.6,0a3.3,3.3 0 1,0 -6.6,0M154,271.6a3.3,3.3 0 1,0 6.6,0a3.3,3.3 0 1,0 -6.6,0M161.2,276.4a3.3,3.3 0 1,0 6.6,0a3.3,3.3 0 1,0 -6.6,0M168.6,280.9a3.3,3.3 0 1,0 6.6,0a3.3,3.3 0 1,0 -6.6,0M176.3,285.1a3.3,3.3 0 1,0 6.6,0a3.3,3.3 0 1,0 -6.6,0M184,289.2a3.3,3.3 0 1,0 6.6,0a3.3,3.3 0 1,0 -6.6,0M191.6,293.3a3.3,3.3 0 1,0 6.6,0a3.3,3.3 0 1,0 -6.6,0M199.4,297.3a3.3,3.3 0 1,0 6.6,0a3.3,3.3 0 1,0 -6.6,0M206.8,301.7a3.3,3.3 0 1,0 6.6,0a3.3,3.3 0 1,0 -6.6,0M212.9,307.9a3.3,3.3 0 1,0 6.6,0a3.3,3.3 0 1,0 -6.6,0M213.9,309.2a3.3,3.3 0 1,0 6.6,0a3.3,3.3 0 1,0 -6.6,0M214.9,310.4a3.3,3.3 0 1,0 6.6,0a3.3,3.3 0 1,0 -6.6,0M215.9,311.7a3.3,3.3 0 1,0 6.6,0a3.3,3.3 0 1,0 -6.6,0M217,312.8a3.3,3.3 0 1,0 6.6,0a3.3,3.3 0 1,0 -6.6,0M218.1,314a3.3,3.3 0 1,0 6.6,0a3.3,3.3 0 1,0 -6.6,0M219.2,315.2a3.3,3.3 0 1,0 6.6,0a3.3,3.3 0 1,0 -6.6,0M220.3,316.3a3.3,3.3 0 1,0 6.6,0a3.3,3.3 0 1,0 -6.6,0M221.4,317.5a3.3,3.3 0 1,0 6.6,0a3.3,3.3 0 1,0 -6.6,0M222.5,318.6a3.3,3.3 0 1,0 6.6,0a3.3,3.3 0 1,0 -6.6,0M223.6,319.8a3.3,3.3 0 1,0 6.6,0a3.3,3.3 0 1,0 -6.6,0M224.7,321a3.3,3.3 0 1,0 6.6,0a3.3,3.3 0 1,0 -6.6,0M225.8,322.1a3.3,3.3 0 1,0 6.6,0a3.3,3.3 0 1,0 -6.6,0M226.9,323.3a3.3,3.3 0 1,0 6.6,0a3.3,3.3 0 1,0 -6.6,0M228,324.4a3.3,3.3 0 1,0 6.6,0a3.3,3.3 0 1,0 -6.6,0M229.1,325.6a3.3,3.3 0 1,0 6.6,0a3.3,3.3 0 1,0 -6.6,0M230.2,326.7a3.3,3.3 0 1,0 6.6,0a3.3,3.3 0 1,0 -6.6,0M231.3,327.9a3.3,3.3 0 1,0 6.6,0a3.3,3.3 0 1,0 -6.6,0M232.4,329.1a3.3,3.3 0 1,0 6.6,0a3.3,3.3 0 1,0 -6.6,0M233.5,330.2a3.3,3.3 0 1,0 6.6,0a3.3,3.3 0 1,0 -6.6,0M234.6,331.4a3.3,3.3 0 1,0 6.6,0a3.3,3.3 0 1,0 -6.6,0M235.7,332.5a3.3,3.3 0 1,0 6.6,0a3.3,3.3 0 1,0 -6.6,0M236.8,333.7a3.3,3.3 0 1,0 6.6,0a3.3,3.3 0 1,0 -6.6,0M237.9,334.8a3.3,3.3 0 1,0 6.6,0a3.3,3.3 0 1,0 -6.6,0M239,336a3.3,3.3 0 1,0 6.6,0a3.3,3.3 0 1,0 -6.6,0M240.1,337.2a3.3,3.3 0 1,0 6.6,0a3.3,3.3 0 1,0 -6.6,0M241.2,338.3a3.3,3.3 0 1,0 6.6,0a3.3,3.3 0 1,0 -6.6,0M242.4,339.5a3.3,3.3 0 1,0 6.6,0a3.3,3.3 0 1,0 -6.6,0M243.5,340.6a3.3,3.3 0 1,0 6.6,0a3.3,3.3 0 1,0 -6.6,0M244.6,341.8a3.3,3.3 0 1,0 6.6,0a3.3,3.3 0 1,0 -6.6,0M245.7,342.9a3.3,3.3 0 1,0 6.6,0a3.3,3.3 0 1,0 -6.6,0M209.3,145.5a3.3,3.3 0 1,0 6.6,0a3.3,3.3 0 1,0 -6.6,0M209.3,154.8a3.3,3.3 0 1,0 6.6,0a3.3,3.3 0 1,0 -6.6,0M209.3,164.1a3.3,3.3 0 1,0 6.6,0a3.3,3.3 0 1,0 -6.6,0M209.3,173.4a3.3,3.3 0 1,0 6.6,0a3.3,3.3 0 1,0 -6.6,0M209.3,182.7a3.3,3.3 0 1,0 6.6,0a3.3,3.3 0 1,0 -6.6,0M209.3,192a3.3,3.3 0 1,0 6.6,0a3.3,3.3 0 1,0 -6.6,0M209.3,201.3a3.3,3.3 0 1,0 6.6,0a3.3,3.3 0 1,0 -6.6,0M209.3,210.6a3.3,3.3 0 1,0 6.6,0a3.3,3.3 0 1,0 -6.6,0M209.3,219.9a3.3,3.3 0 1,0 6.6,0a3.3,3.3 0 1,0 -6.6,0M209.3,229.2a3.3,3.3 0 1,0 6.6,0a3.3,3.3 0 1,0 -6.6,0M209.3,238.5a3.3,3.3 0 1,0 6.6,0a3.3,3.3 0 1,0 -6.6,0M209.3,247.8a3.3,3.3 0 1,0 6.6,0a3.3,3.3 0 1,0 -6.6,0M209.3,257.1a3.3,3.3 0 1,0 6.6,0a3.3,3.3 0 1,0 -6.6,0M209.3,266.4a3.3,3.3 0 1,0 6.6,0a3.3,3.3 0 1,0 -6.6,0M209.3,275.7a3.3,3.3 0 1,0 6.6,0a3.3,3.3 0 1,0 -6.6,0M209.3,285a3.3,3.3 0 1,0 6.6,0a3.3,3.3 0 1,0 -6.6,0M209.3,294.3a3.3,3.3 0 1,0 6.6,0a3.3,3.3 0 1,0 -6.6,0M21.7,224a3.3,3.3 0 1,0 6.6,0a3.3,3.3 0 1,0 -6.6,0M23.7,224a3.3,3.3 0 1,0 6.6,0a3.3,3.3 0 1,0 -6.6,0M25.7,224a3.3,3.3 0 1,0 6.6,0a3.3,3.3 0 1,0 -6.6,0M28.2,224a3.3,3.3 0 1,0 6.6,0a3.3,3.3 0 1,0 -6.6,0M30.7,224a3.3,3.3 0 1,0 6.6,0a3.3,3.3 0 1,0 -6.6,0M33.7,224a3.3,3.3 0 1,0 6.6,0a3.3,3.3 0 1,0 -6.6,0M36.7,224a3.3,3.3 0 1,0 6.6,0a3.3,3.3 0 1,0 -6.6,0M40.2,224a3.3,3.3 0 1,0 6.6,0a3.3,3.3 0 1,0 -6.6,0M43.7,224a3.3,3.3 0 1,0 6.6,0a3.3,3.3 0 1,0 -6.6,0M47.7,224a3.3,3.3 0 1,0 6.6,0a3.3,3.3 0 1,0 -6.6,0M53.5,224a3.3,3.3 0 1,0 6.6,0a3.3,3.3 0 1,0 -6.6,0M56.5,224a3.3,3.3 0 1,0 6.6,0a3.3,3.3 0 1,0 -6.6,0M64.7,224a3.3,3.3 0 1,0 6.6,0a3.3,3.3 0 1,0 -6.6,0M68.5,224a3.3,3.3 0 1,0 6.6,0a3.3,3.3 0 1,0 -6.6,0M76,224a3.3,3.3 0 1,0 6.6,0a3.3,3.3 0 1,0 -6.6,0M82.7,224a3.3,3.3 0 1,0 6.6,0a3.3,3.3 0 1,0 -6.6,0M93.2,224a3.3,3.3 0 1,0 6.6,0a3.3,3.3 0 1,0 -6.6,0M103,224a3.3,3.3 0 1,0 6.6,0a3.3,3.3 0 1,0 -6.6,0M115.7,224a3.3,3.3 0 1,0 6.6,0a3.3,3.3 0 1,0 -6.6,0M130.2,224a3.3,3.3 0 1,0 6.6,0a3.3,3.3 0 1,0 -6.6,0M147.7,224a3.3,3.3 0 1,0 6.6,0a3.3,3.3 0 1,0 -6.6,0M155.2,224a3.3,3.3 0 1,0 6.6,0a3.3,3.3 0 1,0 -6.6,0M172.7,224a3.3,3.3 0 1,0 6.6,0a3.3,3.3 0 1,0 -6.6,0" fill="#14e614"/>
<path d="M229.2,123.8a3.3,3.3 0 1,0 6.6,0a3.3,3.3 0 1,0 -6.6,0M229.2,324.2a3.3,3.3 0 1,0 6.6,0a3.3,3.3 0 1,0 -6.6,0M231,121.7a3.5,3.5 0 1,0 7,0a3.5,3.5 0 1,0 -7,0M231,326.3a3.5,3.5 0 1,0 7,0a3.5,3.5 0 1,0 -7,0M232.8,119.6a3.7,3.7 0 1,0 7.3,0a3.7,3.7 0 1,0 -7.3,0M232.8,328.4a3.7,3.7 0 1,0 7.3,0a3.7,3.7 0 1,0 -7.3,0M234.6,117.5a3.8,3.8 0 1,0 7.7,0a3.8,3.8 0 1,0 -7.7,0M234.6,330.5a3.8,3.8 0 1,0 7.7,0a3.8,3.8 0 1,0 -7.7,0M236.3,115.5a4,4 0 1,0 8,0a4,4 0 1,0 -8,0M236.3,332.5a4,4 0 1,0 8,0a4,4 0 1,0 -8,0M238.1,113.4a4.2,4.2 0 1,0 8.4,0a4.2,4.2 0 1,0 -8.4,0M238.1,334.6a4.2,4.2 0 1,0 8.4,0a4.2,4.2 0 1,0 -8.4,0M239.9,111.3a4.4,4.4 0 1,0 8.7,0a4.4,4.4 0 1,0 -8.7,0M239.9,336.7a4.4,4.4 0 1,0 8.7,0a4.4,4.4 0 1,0 -8.7,0M241.7,109.2a4.5,4.5 0 1,0 9.1,0a4.5,4.5 0 1,0 -9.1,0M241.7,338.8a4.5,4.5 0 1,0 9.1,0a4.5,4.5 0 1,0 -9.1,0M243.4,107.2a4.7,4.7 0 1,0 9.4,0a4.7,4.7 0 1,0 -9.4,0M243.4,340.8a4.7,4.7 0 1,0 9.4,0a4.7,4.7 0 1,0 -9.4,0M245.2,105.1a4.9,4.9 0 1,0 9.8,0a4.9,4.9 0 1,0 -9.8,0M245.2,342.9a4.9,4.9 0 1,0 9.8,0a4.9,4.9 0 1,0 -9.8,0" fill="#14e614"/>
<defs><clipPath id="ctr"><rect x="657" y="14" width="530" height="419"/></clipPath></defs>
<g clip-path="url(#ctr)">
<path d="M792.7,34.8L795.7,29.4H801.7L804.7,34.8L801.7,40.2H795.7ZM1061.5,46.9L1064.5,41.5H1070.5L1073.5,46.9L1070.5,52.3H1064.5ZM1054.3,57.6L1057.3,52.2H1063.3L1066.3,57.6L1063.3,63H1057.3ZM1008.7,88L1011.7,82.6H1017.7L1020.7,88L1017.7,93.4H1011.7ZM1028.7,115.2L1031.7,109.8H1037.7L1040.7,115.2L1037.7,120.6H1031.7ZM914.8,154.7L917.8,149.3H923.8L926.8,154.7L923.8,160.1H917.8ZM983.3,223.5L986.3,218.1H992.3L995.3,223.5L992.3,228.9H986.3ZM922,380.4L925,375H931L934,380.4L931,385.8H925ZM859.7,114.7L862.7,109.3H868.7L871.7,114.7L868.7,120.1H862.7ZM819.6,151.8L822.6,146.4H828.6L831.6,151.8L828.6,157.2H822.6ZM781.9,192.6L784.9,187.2H790.9L793.9,192.6L790.9,198H784.9ZM738.8,238.2L741.8,232.8H747.8L750.8,238.2L747.8,243.6H741.8ZM785.2,246.6L788.2,241.2H794.2L797.2,246.6L794.2,252H788.2ZM696.5,276.2L699.5,270.8H705.5L708.5,276.2L705.5,281.6H699.5ZM659.4,313.2L662.4,307.8H668.4L671.4,313.2L668.4,318.6H662.4ZM1007.3,16L1010.3,10.6H1016.3L1019.3,16L1016.3,21.4H1010.3ZM973.2,30.7L976.2,25.3H982.2L985.2,30.7L982.2,36.1H976.2ZM937.5,53.3L940.5,47.9H946.5L949.5,53.3L946.5,58.7H940.5ZM900.1,80.8L903.1,75.4H909.1L912.1,80.8L909.1,86.2H903.1ZM1096.7,18.7L1099.7,13.3H1105.7L1108.7,18.7L1105.7,24.1H1099.7ZM1125.5,43.2L1128.5,37.8H1134.5L1137.5,43.2L1134.5,48.6H1128.5ZM1152.1,86.7L1155.1,81.3H1161.1L1164.1,86.7L1161.1,92.1H1155.1Z" fill="none" stroke="#e8141c" stroke-width="1.3" stroke-linejoin="round"/>
<g fill="none" stroke="#90c4f7" stroke-width="3.8" stroke-linecap="round" stroke-linejoin="round"><path d="M650,223.8C658.3,219.1 683.3,204.8 700,195.3C716.7,185.8 733.3,176.3 750,166.8C766.7,157.3 783.3,147.9 800,138.4C816.7,128.9 836.7,117.5 850,110C863.3,102.5 870,98.9 880,93.5C890,88.1 899.3,82.9 910,77.5C920.7,72.1 932.3,66.6 944,61.3C955.7,56 968.5,50.3 980,45.5C991.5,40.7 1004.1,35.7 1013.3,32.5C1022.5,29.3 1028.3,27.8 1035,26.2C1041.7,24.6 1048,23.6 1053.3,23.2C1058.6,22.8 1063,22.9 1067,23.5C1071,24.1 1074,25.2 1077.3,27C1080.6,28.8 1084.3,31.4 1087,34.5C1089.7,37.5 1091.6,41.4 1093.3,45.3C1095,49.2 1096.4,53.5 1097.3,58C1098.2,62.5 1098.3,67.3 1098.5,72C1098.7,76.7 1098.4,81.5 1098.2,86.3C1098,91 1097.7,95.8 1097.3,100.6C1096.9,105.4 1096.3,110.2 1095.7,115C1095.1,119.8 1094.4,124.6 1093.6,129.3C1092.8,134.1 1091.9,138.9 1090.9,143.7C1090,148.5 1088.9,153.3 1087.8,158.1C1086.6,162.9 1085.4,167.7 1084.1,172.4C1082.8,177.2 1082.9,177.1 1080,186.7C1077.1,196.3 1071.6,214.4 1066.9,230C1062.2,245.6 1056.8,263.3 1051.7,280C1046.7,296.7 1041.6,313.3 1036.6,330C1031.5,346.7 1027.2,360.8 1021.4,380C1015.6,399.2 1005,434.2 1001.7,445"/><path d="M778.3,445C780,438.3 785,418 788.5,404.5C792,391.1 795.6,377.6 799.3,364.1C803,350.6 806.8,337.1 810.6,323.6C814.5,310.2 818.5,296.7 822.5,283.2C826.6,269.7 830.7,256.2 835,242.7C839.2,229.2 843.6,215.8 848,202.3C852.5,188.8 857,175.3 861.6,161.8C866.3,148.3 871,134.8 875.8,121.4C880.6,107.9 885.5,94.4 890.6,80.9C895.6,67.4 900.7,53.9 905.9,40.5C911.1,27 919.1,6.7 921.7,0"/></g>
<path d="M796.5,34.8a2.2,2.2 0 1,0 4.4,0a2.2,2.2 0 1,0 -4.4,0M1065.3,46.9a2.2,2.2 0 1,0 4.4,0a2.2,2.2 0 1,0 -4.4,0M1058.1,57.6a2.2,2.2 0 1,0 4.4,0a2.2,2.2 0 1,0 -4.4,0M1012.5,88a2.2,2.2 0 1,0 4.4,0a2.2,2.2 0 1,0 -4.4,0M1032.5,115.2a2.2,2.2 0 1,0 4.4,0a2.2,2.2 0 1,0 -4.4,0M918.6,154.7a2.2,2.2 0 1,0 4.4,0a2.2,2.2 0 1,0 -4.4,0M987.1,223.5a2.2,2.2 0 1,0 4.4,0a2.2,2.2 0 1,0 -4.4,0M925.8,380.4a2.2,2.2 0 1,0 4.4,0a2.2,2.2 0 1,0 -4.4,0" fill="#0a0ae6"/>
<path d="M863.3,114.7a2.4,2.4 0 1,0 4.8,0a2.4,2.4 0 1,0 -4.8,0M823.2,151.8a2.4,2.4 0 1,0 4.8,0a2.4,2.4 0 1,0 -4.8,0M785.5,192.6a2.4,2.4 0 1,0 4.8,0a2.4,2.4 0 1,0 -4.8,0M742.4,238.2a2.4,2.4 0 1,0 4.8,0a2.4,2.4 0 1,0 -4.8,0M788.8,246.6a2.4,2.4 0 1,0 4.8,0a2.4,2.4 0 1,0 -4.8,0M700.1,276.2a2.4,2.4 0 1,0 4.8,0a2.4,2.4 0 1,0 -4.8,0M663,313.2a2.4,2.4 0 1,0 4.8,0a2.4,2.4 0 1,0 -4.8,0" fill="#14e614"/>
</g>
<defs><clipPath id="cbl"><rect x="24" y="504.5" width="530" height="419.5"/></clipPath></defs>
<g clip-path="url(#cbl)">
<path d="M237.5,714.2C237.5,707.9 237.3,701.8 237.4,695.2C237.5,688.8 237.6,682.4 238,675.2C238.4,668.1 238.8,661.4 239.6,652.2C240.4,643.1 241.8,627.9 243,620.2C244.2,612.6 245.4,610.8 246.8,606.2C248.2,601.8 250,597.4 251.6,593.2C253.2,589.1 254.7,584.6 256.1,581.1C257.6,577.7 258.9,575.5 260.3,572.6C261.7,569.8 262.9,567.1 264.5,564.2C266.1,561.4 267.8,558.6 269.6,555.8C271.4,552.9 273.4,549.9 275.5,547.2C277.6,544.6 279.8,542 282.3,539.6C284.8,537.3 287.9,534.9 290.7,533C293.5,531 296.3,529.4 299.2,527.9C302.1,526.3 304.8,524.8 308,523.5C311.2,522.1 314.2,521.1 318.2,519.8C322.2,518.4 327.2,516.4 332,515.2C336.8,514.1 341.5,513 346.7,513C351.9,512.9 357.4,513.5 363,514.8C368.6,516 374.3,518.2 380,520.8C385.7,523.3 391.6,526.2 397.4,530C403.2,533.9 409.1,538.5 414.9,544C420.7,549.4 426.9,556.1 432.3,562.5C437.7,568.9 443.1,575.1 447.4,582.4C451.6,589.6 454.7,598.3 457.8,606.2C460.9,614.2 463.7,622.9 466,630.2C468.3,637.6 470.2,643.9 471.8,650.2C473.4,656.6 474.7,661.9 475.6,668.2C476.6,674.6 477.1,682.6 477.5,688.2C477.9,693.9 477.9,697.9 478,702.2C478.1,706.6 478,710.2 478,714.2C478,718.2 478.1,721.9 478,726.2C477.9,730.6 477.9,734.6 477.5,740.2C477.1,745.9 476.6,753.9 475.6,760.2C474.7,766.6 473.4,771.9 471.8,778.2C470.2,784.6 468.3,790.9 466,798.2C463.7,805.6 460.9,814.3 457.8,822.2C454.7,830.2 451.6,838.9 447.4,846.1C443.1,853.4 437.7,859.6 432.3,866C426.9,872.4 420.7,879.1 414.9,884.5C409.1,890 403.2,894.6 397.4,898.5C391.6,902.3 385.7,905.2 380,907.8C374.3,910.3 368.6,912.5 363,913.8C357.4,915 351.9,915.6 346.7,915.5C341.5,915.5 336.8,914.4 332,913.2C327.2,912.1 322.2,910.1 318.2,908.8C314.2,907.4 311.2,906.4 308,905C304.8,903.7 302.1,902.2 299.2,900.6C296.3,899.1 293.5,897.5 290.7,895.5C287.9,893.6 284.8,891.2 282.3,888.9C279.8,886.5 277.6,883.9 275.5,881.2C273.4,878.6 271.4,875.6 269.6,872.8C267.8,869.9 266.1,867.1 264.5,864.2C262.9,861.4 261.7,858.7 260.3,855.9C258.9,853 257.6,850.8 256.1,847.4C254.7,843.9 253.2,839.4 251.6,835.2C250,831.1 248.2,826.8 246.8,822.2C245.4,817.8 244.2,815.9 243,808.2C241.8,800.6 240.4,785.4 239.6,776.2C238.8,767.1 238.4,760.4 238,753.2C237.6,746.1 237.5,739.8 237.4,733.2C237.3,726.8 237.5,720.6 237.5,714.2Z" fill="#b3b3b3"/>
<path d="M24,714.2 L24.1,713.8 L24.3,713.1 L24.6,712.2 L24.8,711.4 L25.1,710.5 L25.5,709.8 L25.9,709 L26.3,708.4 L26.8,707.7 L27.3,707 L27.9,706.4 L28.5,705.8 L29.1,705.1 L29.8,704.6 L30.5,704 L31.3,703.4 L32.1,702.8 L33,702.2 L33.9,701.7 L34.7,701.2 L35.5,700.7 L36.6,700.1 L38.1,699.4 L40,698.5 L42.6,697.3 L45.7,695.8 L49.2,694.3 L52.9,692.7 L56.5,691 L60,689.5 L63.3,687.9 L66.7,686.4 L70,684.9 L73.3,683.4 L76.7,681.9 L80,680.4 L83.3,678.8 L86.7,677.3 L90,675.8 L93.3,674.2 L96.7,672.7 L100,671.1 L103.4,669.6 L107,668 L110.6,666.3 L114.1,664.8 L117.2,663.3 L120,662 L122.1,661 L123.6,660.3 L124.9,659.6 L126.2,659 L127.8,658.2 L130,657.1 L132.9,655.8 L136.4,654.3 L140.1,652.7 L144,650.9 L148,649.2 L151.7,647.5 L155.3,645.7 L158.9,643.9 L162.5,642.1 L166.1,640.3 L169.7,638.4 L173.3,636.5 L176.9,634.6 L180.5,632.7 L184.1,630.7 L187.8,628.7 L191.4,626.6 L195,624.6 L198.6,622.7 L202.2,620.7 L205.9,618.8 L209.5,616.8 L213.1,614.8 L216.7,612.8 L220.4,610.6 L224.3,608.3 L228.1,605.9 L231.8,603.6 L235.3,601.6 L238.3,599.8 L241,598.2 L243.5,596.9 L245.7,595.7 L247.5,594.7 L249.1,593.9 L250.3,593.2 L251.1,594.7 L250.3,596.6 L249.4,598.9 L248.5,601.4 L247.6,603.9 L246.8,606.2 L246.1,608.3 L245.4,610.2 L244.8,612.1 L244.2,614.2 L243.6,616.9 L243,620.2 L242.4,624.6 L241.8,629.9 L241.2,635.7 L240.6,641.6 L240.1,647.2 L239.6,652.2 L239.2,656.6 L238.9,660.7 L238.6,664.5 L238.4,668.1 L238.2,671.7 L238,675.2 L237.8,678.8 L237.7,682.2 L237.6,685.5 L237.5,688.8 L237.4,692 L237.4,695.2 L237.4,698.7 L237.4,702.4 L237.4,706 L237.4,709.4 L237.5,712.2 L237.5,714.2 L237.5,716.3 L237.4,719.1 L237.4,722.5 L237.4,726.1 L237.4,729.8 L237.4,733.2 L237.4,736.5 L237.5,739.7 L237.6,743 L237.7,746.3 L237.8,749.7 L238,753.2 L238.2,756.8 L238.4,760.4 L238.6,764 L238.9,767.8 L239.2,771.9 L239.6,776.2 L240.1,781.3 L240.6,786.9 L241.2,792.8 L241.8,798.6 L242.4,803.9 L243,808.2 L243.6,811.6 L244.2,814.3 L244.8,816.4 L245.4,818.3 L246.1,820.2 L246.8,822.2 L247.6,824.6 L248.5,827.1 L249.4,829.6 L250.3,831.9 L251.1,833.8 L251.6,835.2 L249.1,834.6 L247.5,833.8 L245.7,832.8 L243.5,831.6 L241,830.3 L238.3,828.8 L235.3,826.9 L231.8,824.9 L228.1,822.6 L224.3,820.2 L220.4,817.9 L216.7,815.8 L213.1,813.7 L209.5,811.7 L205.9,809.7 L202.2,807.8 L198.6,805.8 L195,803.9 L191.4,801.9 L187.8,799.8 L184.1,797.8 L180.5,795.8 L176.9,793.9 L173.3,792 L169.7,790.1 L166.1,788.2 L162.5,786.4 L158.9,784.6 L155.3,782.8 L151.7,781 L148,779.3 L144,777.5 L140.1,775.8 L136.4,774.2 L132.9,772.7 L130,771.4 L127.8,770.3 L126.2,769.5 L124.9,768.9 L123.6,768.2 L122.1,767.5 L120,766.5 L117.2,765.2 L114.1,763.7 L110.6,762.2 L107,760.5 L103.4,758.9 L100,757.4 L96.7,755.8 L93.3,754.3 L90,752.8 L86.7,751.2 L83.3,749.7 L80,748.1 L76.7,746.6 L73.3,745.1 L70,743.6 L66.7,742.1 L63.3,740.6 L60,739 L56.5,737.5 L52.9,735.8 L49.2,734.2 L45.7,732.7 L42.6,731.2 L40,730 L38.1,729.1 L36.6,728.4 L35.5,727.8 L34.7,727.3 L33.9,726.8 L33,726.2 L32.1,725.7 L31.3,725.1 L30.5,724.5 L29.8,723.9 L29.1,723.4 L28.5,722.8 L27.9,722.1 L27.3,721.5 L26.8,720.8 L26.3,720.1 L25.9,719.5 L25.5,718.8 L25.1,718 L24.8,717.1 L24.6,716.2 L24.3,715.4 L24.1,714.7 L24,714.2Z" fill="#69e76b"/>
<path d="M268.5,585.4 L270,585 L272.3,584.4 L274.7,583.6 L277,582.8 L278.7,582 L279.5,581 L279.7,579.9 L279.6,578.7 L279.8,577.7 L280.4,576.9 L281.6,576.5 L283.2,576.3 L285,576.2 L286.9,576.2 L288.8,576.1 L290.8,575.8 L292.9,575.4 L295.1,575 L297.1,574.9 L299,575.2 L300.6,576 L301.9,577.3 L303.1,578.8 L304.4,580.4 L305.8,582 L307.3,583.6 L308.9,585.3 L310.5,587 L312.3,588.8 L314.2,590.5 L316.3,592.3 L318.6,594.1 L321.1,596 L323.6,597.6 L326.1,598.9 L328.7,599.9 L331.4,600.7 L334.1,601.2 L336.9,601.5 L339.6,601.5 L342.3,601.1 L345,600.3 L347.7,599.3 L350.4,598.2 L353.1,597.2 L355.9,596.1 L358.9,594.9 L361.8,593.7 L364.4,592.7 L366.7,592.1 L368.6,592 L370.1,592.1 L371.4,592.5 L372.5,593.1 L373.4,593.8 L373.9,594.7 L374,595.8 L374,596.9 L374.3,598 L375.1,598.9 L376.7,599.4 L378.8,599.7 L381.2,599.8 L383.5,600.1 L385.3,600.6 L386.7,601.3 L388,602.2 L389,603.1 L389.8,604.3 L390.4,605.7 L390.6,607.4 L390.4,609.5 L390,611.6 L389.9,613.8 L390.4,615.8 L391.5,617.7 L393.1,619.6 L394.9,621.5 L396.9,623.1 L398.8,624.3 L400.8,625 L403.1,625.3 L405.3,625.4 L407.4,625.6 L409,626 L410.2,626.7 L411,627.6 L411.6,628.7 L412,629.8 L412.4,631.1 L412.9,632.6 L413.4,634.2 L413.7,635.9 L413.7,637.7 L413.2,639.5 L412,641.3 L410.2,643 L408,644.8 L405.9,646.8 L404,649 L402.4,651.5 L400.8,654.2 L399.2,657.1 L397.8,660.1 L396.5,663 L395.3,665.9 L394.2,668.8 L393.2,671.8 L392.3,674.9 L391.5,678 L390.8,681.2 L390.1,684.5 L389.5,687.9 L389,691.4 L388.6,695 L388.3,699 L388,703.5 L387.8,707.8 L387.7,711.6 L387.6,714.2 L387.7,716.9 L387.8,720.7 L388,725 L388.3,729.5 L388.6,733.5 L389,737.1 L389.5,740.6 L390.1,744 L390.8,747.3 L391.5,750.5 L392.3,753.6 L393.2,756.7 L394.2,759.7 L395.3,762.6 L396.5,765.5 L397.8,768.4 L399.2,771.4 L400.8,774.3 L402.4,777 L404,779.5 L405.9,781.7 L408,783.7 L410.2,785.5 L412,787.2 L413.2,789 L413.7,790.8 L413.7,792.6 L413.4,794.3 L412.9,795.9 L412.4,797.4 L412,798.7 L411.6,799.8 L411,800.9 L410.2,801.8 L409,802.5 L407.4,802.9 L405.3,803.1 L403.1,803.2 L400.8,803.5 L398.8,804.2 L396.9,805.4 L394.9,807 L393.1,808.9 L391.5,810.8 L390.4,812.7 L389.9,814.7 L390,816.9 L390.4,819 L390.6,821.1 L390.4,822.8 L389.8,824.2 L389,825.4 L388,826.3 L386.7,827.2 L385.3,827.9 L383.5,828.4 L381.2,828.7 L378.8,828.8 L376.7,829.1 L375.1,829.6 L374.3,830.5 L374,831.6 L374,832.7 L373.9,833.8 L373.4,834.7 L372.5,835.4 L371.4,836 L370.1,836.4 L368.6,836.5 L366.7,836.4 L364.4,835.8 L361.8,834.8 L358.9,833.6 L355.9,832.4 L353.1,831.3 L350.4,830.3 L347.7,829.2 L345,828.2 L342.3,827.4 L339.6,827 L336.9,827 L334.1,827.3 L331.4,827.8 L328.7,828.6 L326.1,829.6 L323.6,830.9 L321.1,832.5 L318.6,834.4 L316.3,836.2 L314.2,838 L312.3,839.7 L310.5,841.5 L308.9,843.2 L307.3,844.9 L305.8,846.5 L304.4,848.1 L303.1,849.7 L301.9,851.2 L300.6,852.5 L299,853.3 L297.1,853.6 L295.1,853.5 L292.9,853.1 L290.8,852.7 L288.8,852.4 L286.9,852.3 L285,852.3 L283.2,852.2 L281.6,852 L280.4,851.6 L279.8,850.8 L279.6,849.8 L279.7,848.6 L279.5,847.5 L278.7,846.5 L277,845.7 L274.7,844.9 L272.3,844.1 L270,843.5 L268.5,843.1 L266.5,840.6 L266.3,840.2 L266.1,839.6 L265.8,838.9 L265.5,838.1 L265.2,837.2 L264.8,836.3 L264.5,835.3 L264.2,834.2 L263.9,833.2 L263.6,832.1 L263.4,830.9 L263.1,829.7 L262.8,828.4 L262.5,827.1 L262.3,825.7 L262,824.2 L261.8,822.8 L261.5,821.3 L261.3,819.7 L261.1,818.1 L260.9,816.4 L260.6,814.7 L260.3,812.8 L259.9,811 L259.4,808.9 L258.9,806.8 L258.3,804.6 L257.6,802.3 L256.9,800 L256.3,797.7 L255.6,795.4 L255,793.2 L254.4,791.1 L253.8,789.1 L253.3,787.1 L252.7,785.1 L252.2,783.1 L251.6,781 L251,778.8 L250.4,776.5 L249.8,774.1 L249.1,771.6 L248.4,768.9 L247.7,766.2 L247,763.5 L246.4,760.7 L245.7,758 L245.1,755.4 L244.5,752.7 L243.9,750 L243.4,747.4 L242.8,744.7 L242.3,742.1 L241.8,739.4 L241.3,736.8 L240.9,734.2 L240.5,731.6 L240.1,728.7 L239.8,725.8 L239.5,722.9 L239.2,720.2 L239,717.8 L238.8,715.8 L238.6,714.2 L238.8,712.7 L239,710.7 L239.2,708.3 L239.5,705.6 L239.8,702.7 L240.1,699.8 L240.5,696.9 L240.9,694.2 L241.3,691.7 L241.8,689.1 L242.3,686.4 L242.8,683.8 L243.4,681.1 L243.9,678.5 L244.5,675.8 L245.1,673.1 L245.7,670.5 L246.4,667.8 L247,665 L247.7,662.3 L248.4,659.6 L249.1,656.9 L249.8,654.4 L250.4,652 L251,649.7 L251.6,647.5 L252.2,645.4 L252.7,643.4 L253.3,641.4 L253.8,639.4 L254.4,637.4 L255,635.2 L255.6,633.1 L256.3,630.8 L256.9,628.5 L257.6,626.2 L258.3,623.9 L258.9,621.7 L259.4,619.6 L259.9,617.5 L260.3,615.7 L260.6,613.8 L260.9,612.1 L261.1,610.4 L261.3,608.8 L261.5,607.2 L261.8,605.7 L262,604.2 L262.3,602.8 L262.5,601.4 L262.8,600.1 L263.1,598.8 L263.4,597.6 L263.6,596.4 L263.9,595.3 L264.2,594.2 L264.5,593.2 L264.8,592.2 L265.2,591.3 L265.5,590.4 L265.8,589.6 L266.1,588.9 L266.3,588.3 L266.5,587.9Z" fill="#4c4c4c"/>
<ellipse cx="242.2" cy="663.7" rx="4.6" ry="6.6" fill="#c01890"/><ellipse cx="245.6" cy="643.5" rx="4.6" ry="6.6" fill="#2070d0"/><ellipse cx="250.2" cy="627.1" rx="4.6" ry="6.6" fill="#f020c0"/><ellipse cx="254.6" cy="612.9" rx="4.6" ry="6.6" fill="#2050d0"/><ellipse cx="257.8" cy="601.7" rx="4.6" ry="6.6" fill="#1030a0"/><ellipse cx="260.5" cy="594.5" rx="4.6" ry="6.6" fill="#e02020"/><ellipse cx="263" cy="589.8" rx="4.6" ry="6.6" fill="#20c040"/><ellipse cx="242.2" cy="764.8" rx="4.6" ry="6.6" fill="#f8f080"/><ellipse cx="245.6" cy="785" rx="4.6" ry="6.6" fill="#300830"/><ellipse cx="250.2" cy="801.4" rx="4.6" ry="6.6" fill="#90f020"/><ellipse cx="254.6" cy="815.6" rx="4.6" ry="6.6" fill="#30e070"/><ellipse cx="257.8" cy="826.8" rx="4.6" ry="6.6" fill="#70f040"/><ellipse cx="260.5" cy="834" rx="4.6" ry="6.6" fill="#a020e0"/><ellipse cx="263" cy="838.7" rx="4.6" ry="6.6" fill="#c020e0"/>
<path d="M498.3,696.1C498.4,696.8 497.2,697.5 496.4,698.4C495.7,699.3 494.9,701.2 493.9,701.4C492.9,701.6 491.2,700 490.4,699.5C489.6,699 489.6,699.3 489.2,698.4C488.8,697.6 487.8,695.4 488.1,694.4C488.5,693.3 490.3,692.4 491.4,691.9C492.6,691.4 494.1,691.1 494.9,691.4C495.6,691.7 495.4,692.9 496,693.7C496.5,694.5 498.2,695.3 498.3,696.1Z" fill="#c4c4c4"/><circle cx="485.9" cy="690.3" r="1.6" fill="#cfcfcf"/><circle cx="487" cy="703.3" r="1.6" fill="#cfcfcf"/><path d="M489,697.7C489,698.8 488.7,699.1 488,699.7C487.2,700.3 485.6,701.3 484.5,701.5C483.5,701.8 482.5,701.8 481.5,701.3C480.5,700.7 479.1,699.4 478.5,698.3C477.8,697.2 477.1,695.5 477.3,694.5C477.5,693.4 478.3,692.7 479.6,692.1C480.9,691.5 483.6,690.8 485,691C486.4,691.2 487.4,692.2 488.1,693.3C488.7,694.5 489,696.6 489,697.7Z" fill="#e0a010"/><path d="M493.5,663.1C493.6,663.9 493.4,664.3 492.9,664.9C492.3,665.5 490.9,666.5 490.1,666.8C489.2,667.1 488.6,666.9 487.8,666.6C487.1,666.2 486.2,665.7 485.6,664.9C485.1,664.1 484.4,662.6 484.7,661.8C484.9,661 486.2,660.3 487.2,659.9C488.2,659.5 489.6,659.2 490.4,659.3C491.2,659.3 491.7,659.5 492.2,660.1C492.7,660.8 493.4,662.3 493.5,663.1Z" fill="#c4c4c4"/><circle cx="481.6" cy="658.1" r="1.6" fill="#cfcfcf"/><circle cx="484.7" cy="670.8" r="1.6" fill="#cfcfcf"/><path d="M486.1,665.8C486.1,667 485.3,668 484.3,669C483.4,669.9 481.9,671.2 480.5,671.3C479.2,671.4 477.3,670 476.4,669.3C475.6,668.6 475.9,668.1 475.5,667.1C475.1,666.1 474,664.5 474.1,663.3C474.3,662.1 475.2,660.6 476.2,660.1C477.3,659.5 479.2,659.7 480.6,660C482,660.3 483.7,660.9 484.6,661.9C485.6,662.8 486.2,664.6 486.1,665.8Z" fill="#d0e040"/><path d="M486.9,632.6C487,633.6 487.6,634.6 486.9,635.4C486.2,636.2 484,637.2 483,637.3C481.9,637.4 481.2,636.8 480.5,636.1C479.9,635.3 479.5,633.8 479,632.9C478.6,632 477.6,631.5 477.9,630.7C478.2,629.8 479.7,628.3 480.8,627.7C481.9,627.1 483.6,626.7 484.5,627C485.4,627.2 485.8,628.4 486.2,629.3C486.6,630.3 486.8,631.6 486.9,632.6Z" fill="#c4c4c4"/><circle cx="474.4" cy="628.6" r="1.6" fill="#cfcfcf"/><circle cx="479.4" cy="640.6" r="1.6" fill="#cfcfcf"/><path d="M479.1,635.5C478.9,636.8 478.3,638.7 477.5,639.8C476.6,640.9 475.3,642.1 474.1,642.1C473,642.1 471.4,640.6 470.7,639.9C469.9,639.1 469.8,638.6 469.6,637.6C469.4,636.5 469,634.8 469.4,633.7C469.8,632.6 471.2,631.6 472.2,631.1C473.1,630.6 474,630.5 475.1,630.6C476.2,630.8 478.1,631.2 478.8,632C479.5,632.8 479.3,634.2 479.1,635.5Z" fill="#2a4020"/><path d="M475.4,601.2C475.5,602.1 475.2,603.6 474.8,604.5C474.3,605.3 473.7,606.2 472.6,606.4C471.4,606.6 468.8,606.3 467.9,605.8C467,605.3 467.3,604.1 467.2,603.1C467.1,602.2 467.2,601 467.5,600.1C467.7,599.2 467.6,598.6 468.5,598C469.3,597.4 471.3,596.4 472.3,596.6C473.3,596.7 474,598.1 474.5,598.9C475,599.6 475.4,600.3 475.4,601.2Z" fill="#c4c4c4"/><circle cx="462.3" cy="599.5" r="1.6" fill="#cfcfcf"/><circle cx="469.1" cy="610.6" r="1.6" fill="#cfcfcf"/><path d="M467.5,606C467.3,607 466.5,609 466,610.2C465.4,611.3 465.3,612.4 464.3,612.7C463.3,613 460.9,612.8 459.9,612.1C458.8,611.4 458.2,609.5 457.9,608.4C457.7,607.4 458,607 458.4,605.9C458.7,604.7 459.1,602 459.9,601.3C460.7,600.6 461.8,601.1 463,601.5C464.3,602 466.7,603.3 467.5,604C468.2,604.8 467.8,605 467.5,606Z" fill="#103050"/><path d="M461.7,575C461.6,575.8 461.2,576.6 460.7,577.4C460.3,578.1 459.8,579.2 458.9,579.3C458,579.5 456.3,578.6 455.3,578.2C454.3,577.8 453.2,577.7 452.9,576.7C452.5,575.7 452.7,573.3 453.2,572.1C453.7,570.9 454.8,569.8 455.8,569.6C456.7,569.3 458.2,570.2 459.1,570.6C460,571.1 460.8,571.6 461.2,572.3C461.7,573.1 461.8,574.1 461.7,575Z" fill="#c4c4c4"/><circle cx="448.5" cy="573.7" r="1.6" fill="#cfcfcf"/><circle cx="457" cy="583.5" r="1.6" fill="#cfcfcf"/><path d="M455.3,581C455.4,582.2 455.3,583 454.8,583.8C454.3,584.6 453.4,585.6 452.1,585.8C450.8,586 448.1,585.6 447,585C445.9,584.3 445.8,583.1 445.6,582C445.4,580.8 445.4,579 445.6,578C445.8,577 445.9,576.3 446.8,575.9C447.8,575.4 450.2,575.2 451.4,575.3C452.6,575.4 453.2,575.6 453.8,576.6C454.5,577.5 455.1,579.8 455.3,581Z" fill="#20b020"/><path d="M446.6,551.4C446.5,552.4 444.9,553.9 444.2,554.6C443.5,555.2 443.3,555.1 442.6,555.2C441.9,555.3 440.8,555.5 439.9,555.2C439,555 437.6,554.6 437,553.8C436.4,552.9 436,551.1 436.4,550.2C436.8,549.3 438.2,548.9 439.2,548.5C440.2,548 441.2,547.7 442.2,547.6C443.1,547.6 444.2,547.5 444.9,548.1C445.7,548.8 446.7,550.3 446.6,551.4Z" fill="#c4c4c4"/><circle cx="432.5" cy="552.4" r="1.6" fill="#cfcfcf"/><circle cx="442.5" cy="560.6" r="1.6" fill="#cfcfcf"/><path d="M440.6,558.9C440.6,560 440.4,560.9 439.8,561.9C439.3,563 438.5,564.9 437.2,565.2C435.8,565.5 432.8,564.6 431.6,563.9C430.4,563.1 430.5,561.8 430.2,560.7C429.9,559.6 429.3,558 429.7,557.1C430.2,556.1 431.8,555.3 432.9,554.9C434,554.4 435.3,554.3 436.5,554.4C437.6,554.5 439,554.6 439.7,555.4C440.4,556.2 440.6,557.8 440.6,558.9Z" fill="#3a8a3a"/><path d="M427.8,530.5C427.8,531.4 428.1,532.8 427.4,533.6C426.6,534.3 424.8,534.9 423.5,535.1C422.1,535.3 419.9,535.1 419.2,534.8C418.6,534.4 419.6,533.8 419.4,532.8C419.1,531.7 417.6,529.5 417.8,528.6C417.9,527.7 419.4,527.8 420.3,527.4C421.2,527 422.1,526.1 423.3,526.2C424.5,526.4 426.6,527.5 427.4,528.2C428.1,529 427.8,529.6 427.8,530.5Z" fill="#c4c4c4"/><circle cx="413.9" cy="533.3" r="1.6" fill="#cfcfcf"/><circle cx="425.2" cy="539.7" r="1.6" fill="#cfcfcf"/><path d="M423.3,539.5C423.4,540.5 423.5,541.6 422.7,542.3C421.8,543 419.2,543.7 417.9,543.8C416.6,544 416,543.4 415.1,543.1C414.1,542.9 412.8,543.1 412.5,542.3C412.1,541.6 412.5,539.9 413,538.6C413.5,537.2 414.4,535 415.3,534.2C416.1,533.3 417.1,533.2 418.2,533.6C419.3,534.1 420.9,535.8 421.7,536.7C422.6,537.7 423.1,538.6 423.3,539.5Z" fill="#40c050"/><path d="M406.5,514.8C406.5,515.6 405.8,517.3 405.2,518C404.5,518.7 403.5,518.6 402.5,518.7C401.5,518.8 399.9,519 399.1,518.6C398.4,518.3 398.3,517.5 398.1,516.6C397.8,515.6 397.6,514 397.7,513C397.9,512.1 398.2,511.3 399.1,510.8C400,510.3 402.3,509.5 403.3,509.9C404.4,510.2 404.9,512 405.4,512.8C406,513.6 406.6,513.9 406.5,514.8Z" fill="#c4c4c4"/><circle cx="393.7" cy="518.9" r="1.6" fill="#cfcfcf"/><circle cx="406" cy="523.2" r="1.6" fill="#cfcfcf"/><path d="M403.9,524.9C403.8,525.9 403.6,526.1 402.7,526.7C401.9,527.3 399.8,528.4 398.7,528.7C397.7,529 397.3,528.8 396.5,528.4C395.7,528 394.4,527.1 394,526.1C393.6,525.1 393.8,523.3 394.1,522.4C394.4,521.5 395.1,521.3 395.9,520.6C396.6,519.9 397.5,518 398.8,518C400.1,518 402.8,519.5 403.6,520.6C404.5,521.8 404.1,523.9 403.9,524.9Z" fill="#f05050"/><path d="M386,504.3C385.9,505.5 384.5,506.5 383.7,507.2C382.8,507.9 381.5,508.3 380.7,508.4C379.9,508.4 379.6,507.9 378.8,507.4C378,507 376.4,506.4 376.1,505.6C375.8,504.8 376.5,503.6 377.1,502.7C377.6,501.7 378.4,500.5 379.2,500C380,499.4 381,499.2 381.9,499.2C382.8,499.3 383.8,499.3 384.5,500.1C385.2,501 386.1,503.1 386,504.3Z" fill="#c4c4c4"/><circle cx="373.2" cy="509.2" r="1.6" fill="#cfcfcf"/><circle cx="386" cy="511.4" r="1.6" fill="#cfcfcf"/><path d="M385.4,514C385.4,515 384.3,515.5 383.6,516.3C382.8,517.1 382,518.4 380.8,518.8C379.6,519.1 377.4,519 376.4,518.4C375.3,517.7 375,515.7 374.5,514.6C374,513.6 372.9,513.1 373.2,512.2C373.6,511.4 375.4,510.4 376.6,509.8C377.7,509.2 379.1,508.6 380.3,508.7C381.5,508.8 382.9,509.4 383.7,510.3C384.6,511.2 385.4,513 385.4,514Z" fill="#e01070"/><path d="M361.8,499.2C361.8,500.2 361.2,501.2 360.6,501.8C360,502.4 358.8,502.8 358,502.8C357.2,502.8 356.4,502.3 355.6,501.8C354.8,501.2 353.6,500.5 353.2,499.6C352.9,498.7 353.4,497.2 353.7,496.4C354.1,495.6 354.6,495.2 355.4,495C356.2,494.8 357.6,494.8 358.5,494.9C359.4,495 360.1,495 360.7,495.7C361.2,496.4 361.8,498.2 361.8,499.2Z" fill="#c4c4c4"/><circle cx="351.5" cy="505.1" r="1.6" fill="#cfcfcf"/><circle cx="364.5" cy="505.1" r="1.6" fill="#cfcfcf"/><path d="M363.1,508.8C363.1,509.9 362.9,509.8 362.1,510.7C361.2,511.6 359.2,513.9 358,514.2C356.7,514.5 355.3,513.3 354.5,512.6C353.8,511.9 353.9,511.1 353.5,509.9C353.1,508.8 351.8,506.9 352.1,505.9C352.5,505 354.5,504.7 355.6,504.3C356.8,503.9 357.7,503.5 358.8,503.5C359.9,503.5 361.4,503.2 362.1,504.1C362.9,505 363.1,507.7 363.1,508.8Z" fill="#b83050"/><path d="M341.6,497.8C341.6,498.6 340.9,499.1 340.3,499.9C339.7,500.7 338.7,502.3 337.9,502.6C337.1,503 336.3,502.4 335.4,501.9C334.5,501.5 333,501.1 332.5,500C332,499 332,496.5 332.4,495.6C332.9,494.6 334.3,494.5 335.2,494.1C336.1,493.8 337.1,493.2 337.9,493.5C338.7,493.8 339.3,495 339.9,495.7C340.6,496.4 341.5,497.1 341.6,497.8Z" fill="#c4c4c4"/><circle cx="331.4" cy="505.3" r="1.6" fill="#cfcfcf"/><circle cx="344.3" cy="503.3" r="1.6" fill="#cfcfcf"/><path d="M343.3,507.6C343.4,508.6 343.4,510.1 342.7,511.1C341.9,512 340.1,513.2 338.8,513.5C337.5,513.8 335.9,513.3 335,512.7C334.1,512.2 333.5,511.4 333.2,510.3C333,509.2 332.9,507.3 333.5,506.1C334,504.8 335.7,503.5 336.5,502.8C337.4,502 337.8,501.3 338.6,501.6C339.5,501.9 341.1,503.6 341.9,504.5C342.6,505.5 343.2,506.5 343.3,507.6Z" fill="#e0461a"/><path d="M321.3,500.8C321.3,501.7 320.1,503.4 319.5,504.2C318.9,505 318.4,505.3 317.4,505.4C316.5,505.6 314.9,505.5 313.9,505.1C312.9,504.8 311.6,503.9 311.3,503.1C311,502.3 311.8,501.1 312.2,500.2C312.6,499.2 313,497.9 313.7,497.5C314.3,497 315.3,497.2 316.2,497.5C317.2,497.8 318.4,498.6 319.2,499.1C320,499.7 321.2,500 321.3,500.8Z" fill="#c4c4c4"/><circle cx="311.6" cy="509.5" r="1.6" fill="#cfcfcf"/><circle cx="324" cy="505.5" r="1.6" fill="#cfcfcf"/><path d="M324.9,509.7C324.8,510.9 324.2,513 323.3,514.2C322.4,515.4 320.9,516.8 319.5,516.9C318.2,517.1 316.1,516.2 315.3,515.3C314.4,514.5 314.4,512.9 314.3,511.8C314.2,510.6 314.4,509.2 314.6,508.4C314.9,507.5 314.8,507.1 315.7,506.6C316.6,506.1 318.5,505.2 319.9,505.4C321.2,505.5 322.8,506.8 323.6,507.6C324.4,508.3 324.9,508.6 324.9,509.7Z" fill="#a0b098"/><path d="M299,510.1C298.9,511.2 298.2,512.1 297.8,512.7C297.4,513.3 297.4,513.8 296.6,513.8C295.7,513.8 293.9,513.3 292.9,512.8C291.8,512.3 290.5,511.3 290.2,510.5C290,509.8 290.9,508.9 291.3,508.2C291.7,507.6 291.8,507 292.5,506.4C293.3,505.9 294.7,505 295.6,505C296.6,505 297.7,505.6 298.3,506.5C298.8,507.3 299,509.1 299,510.1Z" fill="#c4c4c4"/><circle cx="292.2" cy="518.2" r="1.6" fill="#cfcfcf"/><circle cx="303.9" cy="512.4" r="1.6" fill="#cfcfcf"/><path d="M304.5,519C304.5,520.3 304.2,520.8 303.4,521.6C302.6,522.4 300.7,523.4 299.6,523.8C298.6,524.3 297.8,524.7 297.1,524C296.3,523.4 295.5,521.4 295.2,520.1C294.8,518.8 294.6,517.2 294.9,516.1C295.3,515 296.2,514.1 297.1,513.5C298,513 299.5,512.7 300.5,512.7C301.6,512.8 302.8,512.8 303.4,513.9C304.1,514.9 304.5,517.7 304.5,519Z" fill="#f0a858"/><path d="M281.7,524.3C281.7,525.5 281.3,527.3 280.6,527.9C279.8,528.6 278.1,528.2 277.2,528.2C276.3,528.2 275.8,528.3 275.1,527.7C274.5,527.2 273.7,525.7 273.3,524.9C272.9,524.1 272.3,523.5 272.5,522.7C272.7,521.8 273.8,520.4 274.7,519.8C275.6,519.3 276.9,519.1 277.9,519.2C279,519.4 280.2,519.9 280.9,520.8C281.5,521.6 281.8,523.1 281.7,524.3Z" fill="#c4c4c4"/><circle cx="275.5" cy="532.9" r="1.6" fill="#cfcfcf"/><circle cx="286.3" cy="525.5" r="1.6" fill="#cfcfcf"/><path d="M288.6,531.4C288.6,532.3 287.4,533.9 286.5,534.9C285.5,535.9 283.9,537.4 282.9,537.6C281.8,537.8 281,537 280.1,536.4C279.2,535.8 278.1,535 277.7,534C277.2,532.9 277.2,531.1 277.4,530C277.7,528.8 278.1,527.7 279.2,527C280.2,526.3 282.4,525.5 283.7,525.8C285,526.1 285.9,528.1 286.8,529C287.6,529.9 288.7,530.4 288.6,531.4Z" fill="#10d8a0"/><path d="M266,539.3C265.8,540.3 264.5,541.6 263.8,542.5C263.2,543.3 263,544.1 262.1,544.3C261.2,544.4 259.5,544.1 258.6,543.5C257.7,542.9 257.1,541.8 256.9,540.9C256.7,540 257.3,538.7 257.5,537.9C257.6,537.1 257.2,536.7 257.8,536.1C258.4,535.6 259.8,534.4 261,534.4C262.2,534.5 264.3,535.8 265.1,536.6C265.9,537.4 266.2,538.3 266,539.3Z" fill="#c4c4c4"/><circle cx="260.5" cy="549" r="1.6" fill="#cfcfcf"/><circle cx="270.2" cy="540.3" r="1.6" fill="#cfcfcf"/><path d="M272.6,548.1C272.6,549.3 273.1,549.8 272.2,550.6C271.4,551.5 268.7,553 267.5,553.1C266.3,553.2 265.6,552 264.9,551.2C264.1,550.4 263.4,549.1 263.1,548.2C262.8,547.2 263,546.6 263,545.6C263.1,544.6 262.5,542.9 263.4,542.2C264.3,541.4 266.9,541.1 268.3,541.3C269.8,541.5 271.6,542.3 272.3,543.5C273.1,544.6 272.6,546.9 272.6,548.1Z" fill="#30e070"/><path d="M251,560.3C251,561.4 250.6,563.1 249.9,564.1C249.3,565.1 248.1,566.2 247.1,566.2C246.1,566.2 244.9,564.7 243.9,564.1C243,563.4 241.5,563 241.2,562.2C240.8,561.4 241.2,560.2 241.7,559.4C242.1,558.6 243.2,558.2 244,557.6C244.8,557 245.6,555.8 246.6,555.8C247.6,555.7 249.1,556.7 249.8,557.4C250.5,558.2 251,559.2 251,560.3Z" fill="#c4c4c4"/><circle cx="247.1" cy="570.2" r="1.6" fill="#cfcfcf"/><circle cx="255.5" cy="560.3" r="1.6" fill="#cfcfcf"/><path d="M259.6,568.1C259.4,569.3 259,569.4 258.1,570.3C257.2,571.1 255.2,572.9 254.1,573.3C253.1,573.6 253,572.9 252.1,572.4C251.3,571.8 249.5,571 249,569.9C248.5,568.8 248.8,566.9 249.1,565.6C249.5,564.2 250.1,562.5 250.9,561.8C251.7,561.1 252.5,561.2 253.8,561.5C255.1,561.7 257.8,562.2 258.8,563.3C259.7,564.4 259.7,566.9 259.6,568.1Z" fill="#70f070"/><path d="M240.4,583C240.5,584.1 240.2,584.9 239.4,585.6C238.7,586.3 237,587 236,587.1C235,587.3 234.2,587.1 233.4,586.6C232.6,586.1 231.6,585 231.1,584.1C230.7,583.2 230.4,582.2 230.6,581.2C230.8,580.2 231.2,578.6 232.1,578.1C233.1,577.6 235.3,578.2 236.4,578.4C237.4,578.5 237.7,578.3 238.4,579.1C239,579.8 240.2,581.9 240.4,583Z" fill="#c4c4c4"/><circle cx="236.8" cy="591.6" r="1.6" fill="#cfcfcf"/><circle cx="244" cy="580.8" r="1.6" fill="#cfcfcf"/><path d="M248.6,588.2C248.7,589.1 248.9,590 248.4,591C247.8,592 246.7,593.8 245.3,594C244,594.2 241.6,592.8 240.2,592.2C238.9,591.7 237.7,591.8 237.3,590.7C237,589.6 237.5,586.7 237.9,585.6C238.4,584.6 239.2,584.6 240.3,584.2C241.4,583.8 243.4,583 244.6,583.2C245.8,583.4 246.9,584.6 247.6,585.4C248.3,586.2 248.4,587.2 248.6,588.2Z" fill="#c05a20"/><path d="M497.3,732.1C497.4,733.3 497,735.3 496.4,735.9C495.8,736.6 494.6,736.3 493.5,736.2C492.5,736.1 490.8,735.8 490.2,735.5C489.5,735.1 489.9,735.2 489.6,734.2C489.3,733.2 488.5,730.5 488.6,729.7C488.7,728.8 489.4,729.6 490.3,729.2C491.3,728.8 493.6,727.4 494.5,727.4C495.4,727.3 495.3,728.2 495.7,729C496.2,729.8 497.2,731 497.3,732.1Z" fill="#c4c4c4"/><circle cx="487" cy="725.2" r="1.6" fill="#cfcfcf"/><circle cx="485.9" cy="738.2" r="1.6" fill="#cfcfcf"/><path d="M487.8,731.3C487.9,732.5 488.2,734.5 487.6,735.4C487,736.2 485.3,736.6 484,736.7C482.8,736.7 481.1,736.2 480.2,735.7C479.3,735.3 479,735.3 478.5,734.2C478,733 477,730.2 477.4,729C477.8,727.8 479.6,727.4 480.8,726.9C482,726.5 483.6,726.3 484.6,726.5C485.7,726.8 486.4,727.6 486.9,728.4C487.4,729.2 487.7,730.2 487.8,731.3Z" fill="#f86820"/><path d="M493.7,764.8C493.9,765.9 494.7,767.3 494,768.3C493.3,769.3 490.7,770.4 489.5,770.7C488.4,770.9 487.9,770.5 487.1,769.8C486.4,769.1 485.6,767.4 485.1,766.4C484.7,765.4 484.4,764.6 484.6,763.8C484.7,763 485,762 486,761.6C487,761.3 489.3,761.7 490.4,761.7C491.6,761.7 492.2,761.1 492.7,761.6C493.3,762.1 493.5,763.6 493.7,764.8Z" fill="#c4c4c4"/><circle cx="484.7" cy="757.7" r="1.6" fill="#cfcfcf"/><circle cx="481.6" cy="770.4" r="1.6" fill="#cfcfcf"/><path d="M484.5,763C484.5,764.4 485.1,767 484.5,767.8C483.9,768.5 482.1,767.7 481,767.7C479.8,767.6 478.5,767.9 477.5,767.3C476.6,766.8 475.8,765.3 475.3,764.3C474.8,763.3 474.2,762.6 474.6,761.6C475,760.6 476.7,759 477.7,758.4C478.8,757.8 479.9,758 481.1,758.1C482.2,758.3 483.9,758.4 484.5,759.3C485,760.1 484.5,761.6 484.5,763Z" fill="#401810"/><path d="M486.8,796.1C486.7,797 486.9,798.5 486.5,799.4C486,800.4 485,801.4 484,801.7C483,801.9 481.2,801.6 480.4,800.9C479.6,800.3 479.6,799 479.3,797.8C479,796.6 478.4,794.8 478.5,793.9C478.7,792.9 479,792.3 480,791.9C480.9,791.5 483.2,791.1 484.4,791.4C485.7,791.7 487,793 487.5,793.8C487.9,794.6 487,795.1 486.8,796.1Z" fill="#c4c4c4"/><circle cx="479.4" cy="787.9" r="1.6" fill="#cfcfcf"/><circle cx="474.4" cy="799.9" r="1.6" fill="#cfcfcf"/><path d="M478.9,792.3C479.1,793.6 479.7,795.2 479.1,796.1C478.5,797 476.6,797.6 475.2,797.8C473.8,797.9 471.9,797.6 470.8,797.1C469.7,796.5 468.8,795.7 468.5,794.5C468.2,793.3 468.7,790.9 469,789.9C469.4,788.8 469.7,788.8 470.6,788.4C471.5,788 473.2,787.6 474.5,787.5C475.7,787.4 477.1,787.1 477.9,787.9C478.6,788.7 478.7,790.9 478.9,792.3Z" fill="#3080a0"/><path d="M476.3,826.8C476.3,827.7 475.5,829.3 474.9,829.9C474.2,830.6 473.4,830.4 472.5,830.6C471.6,830.9 470.3,831.8 469.3,831.3C468.3,830.8 466.9,828.8 466.4,827.7C466,826.6 465.8,825.6 466.3,824.7C466.9,823.8 468.8,822.8 469.6,822.3C470.4,821.9 470.2,821.6 471.1,822C472.1,822.3 474.4,823.5 475.3,824.3C476.2,825.1 476.4,825.9 476.3,826.8Z" fill="#c4c4c4"/><circle cx="469.1" cy="817.9" r="1.6" fill="#cfcfcf"/><circle cx="462.3" cy="829" r="1.6" fill="#cfcfcf"/><path d="M468.7,821.6C468.7,823.1 467.5,825.1 466.5,826.1C465.5,827.1 463.9,827.3 462.8,827.6C461.8,827.8 460.9,828 460.1,827.5C459.2,826.9 458.2,825.5 457.7,824.4C457.3,823.3 457.1,822.1 457.3,820.8C457.6,819.5 458.1,817.2 459.2,816.5C460.3,815.9 462.8,816.6 464,816.7C465.3,816.8 465.9,816.3 466.6,817.1C467.4,818 468.8,820.1 468.7,821.6Z" fill="#f0e0c0"/><path d="M461.7,854.6C461.8,855.6 461.6,857.2 461,857.9C460.4,858.6 459.2,858.7 458.1,858.7C457,858.7 455.2,858.5 454.4,857.9C453.7,857.3 453.8,856 453.6,855.1C453.3,854.2 452.6,853.5 452.8,852.7C452.9,851.9 453.5,850.7 454.4,850.2C455.3,849.7 457.1,849.3 458.2,849.5C459.3,849.8 460.2,851 460.8,851.8C461.4,852.7 461.7,853.6 461.7,854.6Z" fill="#c4c4c4"/><circle cx="457" cy="845" r="1.6" fill="#cfcfcf"/><circle cx="448.5" cy="854.8" r="1.6" fill="#cfcfcf"/><path d="M455.1,847.2C455,848.4 455.4,850.3 454.7,851.2C454,852.1 452.1,852.3 450.8,852.5C449.5,852.7 447.8,852.8 446.9,852.4C446.1,852 446.3,851.1 445.9,850.1C445.4,849.2 444,848.1 444.3,846.8C444.6,845.5 446.4,843.2 447.6,842.3C448.8,841.4 450.2,841.2 451.5,841.5C452.9,841.8 454.9,843.1 455.5,844C456.1,845 455.3,846 455.1,847.2Z" fill="#20e020"/><path d="M446.8,877.1C447,878 446.3,879.5 445.6,880.3C445,881 444,881.5 442.9,881.5C441.7,881.6 439.8,881 438.9,880.6C437.9,880.3 437.5,880.4 437.2,879.5C436.8,878.5 436.2,875.9 436.8,874.9C437.3,873.9 439.5,873.7 440.3,873.4C441.2,873.1 441,872.7 441.7,872.9C442.5,873.1 444,874 444.9,874.7C445.7,875.4 446.7,876.2 446.8,877.1Z" fill="#c4c4c4"/><circle cx="442.5" cy="867.9" r="1.6" fill="#cfcfcf"/><circle cx="432.5" cy="876.1" r="1.6" fill="#cfcfcf"/><path d="M441.2,869C441.3,870.5 440.7,872.6 439.7,873.6C438.7,874.5 436.6,874.8 435.3,874.8C434.1,874.8 433,874.3 432.2,873.7C431.3,873.1 430.3,872.3 430,871.3C429.7,870.2 430,868.7 430.4,867.6C430.8,866.4 431.5,865.1 432.5,864.5C433.5,863.9 435.2,863.9 436.4,864C437.5,864.1 438.7,864.1 439.5,865C440.3,865.8 441.2,867.6 441.2,869Z" fill="#4848d8"/><path d="M427.3,897.2C427.2,898.4 426.5,900.7 425.9,901.4C425.3,902.2 424.4,901.4 423.6,901.5C422.8,901.6 422.1,902.4 421.2,902.1C420.3,901.8 418.5,900.8 417.9,899.9C417.4,899 417.6,897.8 418,896.8C418.4,895.7 419.3,894.3 420.3,893.7C421.3,893.1 422.9,893 424,893.1C425,893.2 426,893.5 426.6,894.2C427.1,894.8 427.4,896 427.3,897.2Z" fill="#c4c4c4"/><circle cx="425.2" cy="888.8" r="1.6" fill="#cfcfcf"/><circle cx="413.9" cy="895.2" r="1.6" fill="#cfcfcf"/><path d="M424.2,890.3C424.1,891.4 423.5,891.8 422.6,892.6C421.6,893.4 419.7,895 418.3,895.1C417,895.2 415.3,893.7 414.4,893.1C413.5,892.5 413.1,892.3 412.9,891.5C412.7,890.7 412.7,889.7 413.1,888.4C413.6,887.1 415,884.6 415.8,883.9C416.5,883.2 416.6,883.9 417.9,884.3C419.2,884.6 422.3,885 423.4,886C424.4,887.1 424.3,889.2 424.2,890.3Z" fill="#20a030"/><path d="M406.8,913C406.7,913.9 406.2,915.7 405.6,916.5C404.9,917.3 403.9,917.7 402.9,917.7C401.9,917.7 400.5,916.9 399.5,916.4C398.6,916 397.5,915.4 397.3,914.8C397.1,914.1 397.8,913.4 398.1,912.5C398.4,911.7 398.3,910.3 399.1,909.7C400,909.2 402.2,909 403.4,909.2C404.6,909.4 405.6,910.4 406.2,911C406.7,911.6 406.9,912.1 406.8,913Z" fill="#c4c4c4"/><circle cx="406" cy="905.3" r="1.6" fill="#cfcfcf"/><circle cx="393.7" cy="909.6" r="1.6" fill="#cfcfcf"/><path d="M404.7,903.1C404.7,904.3 403.7,905.8 402.8,906.9C401.8,907.9 400,909.2 398.9,909.5C397.8,909.9 397.1,909.4 396.3,908.8C395.6,908.2 394.8,907.1 394.2,906C393.7,905 392.8,903.7 393,902.6C393.3,901.4 394.7,899.7 395.6,899.2C396.5,898.6 397.5,899.1 398.7,899.2C399.9,899.3 401.8,899.1 402.8,899.7C403.8,900.4 404.7,901.9 404.7,903.1Z" fill="#e8b8a0"/><path d="M385.4,924.8C385.1,925.8 384.1,926.9 383.4,927.6C382.7,928.3 382,928.8 381.3,928.9C380.6,929.1 379.9,929.2 379.1,928.6C378.3,928 376.7,926.3 376.4,925.4C376.1,924.4 377.1,923.7 377.3,922.9C377.5,922.2 377.2,921.2 377.9,920.8C378.5,920.4 380.2,920.4 381.4,920.5C382.6,920.6 384.4,920.8 385,921.5C385.7,922.2 385.6,923.8 385.4,924.8Z" fill="#c4c4c4"/><circle cx="386" cy="917.1" r="1.6" fill="#cfcfcf"/><circle cx="373.2" cy="919.3" r="1.6" fill="#cfcfcf"/><path d="M384.7,914.8C384.5,916 383.8,917.9 383.2,918.8C382.7,919.7 382.3,919.9 381.1,920.2C379.9,920.4 377.2,920.7 376,920.2C374.8,919.7 374.4,918.2 374,917.1C373.6,916.1 373.5,914.9 373.8,913.9C374,912.9 374.6,911.7 375.6,910.9C376.5,910.1 377.9,908.9 379.3,909.1C380.8,909.3 383.3,911.1 384.2,912C385.1,913 384.8,913.7 384.7,914.8Z" fill="#e8e8b0"/><path d="M363.4,930.5C363.3,931.5 361.9,932.5 361.2,933.2C360.6,933.9 360.2,934.9 359.4,934.9C358.5,934.9 357.1,933.9 356,933.3C354.9,932.7 353.3,932.2 352.9,931.5C352.5,930.7 353.1,930.1 353.6,929C354,928 354.9,925.5 355.6,925C356.4,924.4 357.2,925.3 358.2,925.7C359.2,926 360.9,926.3 361.8,927.1C362.6,928 363.5,929.5 363.4,930.5Z" fill="#c4c4c4"/><circle cx="364.5" cy="923.4" r="1.6" fill="#cfcfcf"/><circle cx="351.5" cy="923.4" r="1.6" fill="#cfcfcf"/><path d="M363.7,920.6C363.6,921.8 362.4,922.5 361.7,923.3C361,924.1 360.6,925.4 359.5,925.5C358.4,925.7 356.4,925 355.3,924.3C354.3,923.7 353.4,922.6 353.1,921.6C352.9,920.6 353.4,919.3 353.7,918.2C353.9,917.1 353.5,915.7 354.5,915.3C355.5,914.8 358.3,915.4 359.7,915.5C361,915.7 361.8,915.3 362.5,916.2C363.2,917 363.9,919.4 363.7,920.6Z" fill="#9020d0"/><path d="M341,930.2C341.1,931.3 341.6,933.1 341.1,933.9C340.6,934.8 339.4,935.2 338.1,935.3C336.8,935.4 334.2,935 333.5,934.5C332.7,934.1 333.9,933.4 333.6,932.6C333.3,931.7 331.7,930.6 331.8,929.6C331.8,928.5 333,926.6 333.9,926.1C334.8,925.6 336,926.5 337.1,926.7C338.2,926.9 339.8,926.8 340.5,927.4C341.2,928 341,929.1 341,930.2Z" fill="#c4c4c4"/><circle cx="344.3" cy="925.2" r="1.6" fill="#cfcfcf"/><circle cx="331.4" cy="923.2" r="1.6" fill="#cfcfcf"/><path d="M343.9,920.5C343.7,921.6 342.3,923.4 341.4,924.5C340.4,925.7 339.3,927 338.5,927.2C337.7,927.5 337.4,926.6 336.6,925.9C335.7,925.2 334.2,924.2 333.5,923.2C332.8,922.2 332,921 332.5,919.7C333,918.4 335.1,916.1 336.3,915.6C337.4,915 338.4,916 339.5,916.5C340.6,916.9 342,917.5 342.8,918.2C343.5,918.8 344.2,919.4 343.9,920.5Z" fill="#60e8f0"/><path d="M320.8,927.3C320.8,928.3 319.7,930.1 318.9,930.9C318.2,931.6 317.4,931.6 316.5,931.8C315.6,932 314.3,932.7 313.6,932.1C312.8,931.5 312.4,929.4 312.2,928.3C312,927.1 312,926 312.3,925.2C312.5,924.5 313.2,924.3 314,923.9C314.7,923.4 315.8,922.4 316.7,922.6C317.5,922.7 318.5,923.8 319.1,924.6C319.8,925.4 320.8,926.3 320.8,927.3Z" fill="#c4c4c4"/><circle cx="324" cy="923" r="1.6" fill="#cfcfcf"/><circle cx="311.6" cy="919" r="1.6" fill="#cfcfcf"/><path d="M323.7,917.9C323.6,919.1 323.8,921.3 322.9,922.2C322.1,923.1 320,923.3 318.8,923.3C317.7,923.4 317,923 316,922.3C315,921.6 313.2,919.9 312.9,919C312.7,918.1 313.9,917.8 314.4,917C314.9,916.2 314.9,914.8 315.6,914.1C316.4,913.4 317.7,912.6 319,912.8C320.3,913 322.5,914.3 323.3,915.2C324.1,916 323.7,916.7 323.7,917.9Z" fill="#c0a0a0"/><path d="M299.7,919.5C299.5,920.6 299.1,921.8 298.3,922.6C297.5,923.4 296,924.2 295.1,924.4C294.2,924.5 293.4,924.5 292.8,923.8C292.2,923.1 291.8,921.3 291.5,920.1C291.1,918.9 290.3,917.6 290.6,916.7C290.8,915.8 292.1,914.9 293.1,914.5C294.2,914.2 295.8,914.2 296.8,914.4C297.8,914.6 298.8,914.9 299.2,915.7C299.7,916.6 299.8,918.3 299.7,919.5Z" fill="#c4c4c4"/><circle cx="303.9" cy="916.1" r="1.6" fill="#cfcfcf"/><circle cx="292.2" cy="910.3" r="1.6" fill="#cfcfcf"/><path d="M305.3,909.6C305.2,910.8 305.3,913.2 304.3,914.3C303.3,915.3 300.5,915.8 299.4,915.9C298.3,916.1 298.5,915.9 297.7,915.2C296.9,914.4 295.1,912.7 294.6,911.4C294,910.1 294.1,908.4 294.4,907.4C294.6,906.3 295,905.4 295.9,905.1C296.8,904.8 298.4,905.1 299.8,905.5C301.3,905.9 303.8,906.6 304.7,907.3C305.6,908 305.3,908.5 305.3,909.6Z" fill="#f0c090"/><path d="M282.1,904.3C281.8,905.2 280.6,906.7 280,907.5C279.4,908.3 279.3,908.9 278.4,908.9C277.6,908.9 275.8,908.2 274.8,907.7C273.8,907.3 272.7,906.9 272.4,906.1C272,905.2 272.5,903.9 272.9,902.9C273.3,901.9 274,900.7 274.8,900.2C275.6,899.7 276.7,899.8 277.9,900.1C279,900.3 280.8,901 281.5,901.7C282.2,902.4 282.3,903.3 282.1,904.3Z" fill="#c4c4c4"/><circle cx="286.3" cy="903" r="1.6" fill="#cfcfcf"/><circle cx="275.5" cy="895.6" r="1.6" fill="#cfcfcf"/><path d="M287.3,895.9C287.3,897 287.5,898.2 286.8,899.4C286.1,900.6 284.3,902.6 283,902.9C281.8,903.2 280.4,902 279.5,901.1C278.6,900.3 278,898.9 277.5,897.8C277,896.7 276.3,895.6 276.7,894.6C277.1,893.7 279.1,892.9 280.1,892.3C281.2,891.7 281.8,890.7 283,890.8C284.1,890.9 286.2,891.9 286.9,892.8C287.6,893.7 287.3,894.8 287.3,895.9Z" fill="#8040e0"/><path d="M264.8,889C265,889.8 265.2,890.3 264.7,890.9C264.2,891.6 262.9,892.7 261.8,893C260.8,893.3 259.2,893.1 258.4,892.8C257.6,892.5 257.5,892.1 257.1,891C256.8,889.9 256,887.3 256.3,886.1C256.6,884.9 258,884 258.9,883.8C259.8,883.6 260.7,884.5 261.6,884.9C262.4,885.3 263.3,885.4 263.8,886.1C264.3,886.8 264.6,888.2 264.8,889Z" fill="#c4c4c4"/><circle cx="270.2" cy="888.2" r="1.6" fill="#cfcfcf"/><circle cx="260.5" cy="879.5" r="1.6" fill="#cfcfcf"/><path d="M272.9,882.1C272.9,883.3 272.4,884.5 271.7,885.1C271.1,885.8 270.4,885.9 269,886.1C267.7,886.3 264.9,886.5 263.7,886.2C262.5,886 262.4,885.5 262,884.5C261.6,883.5 260.7,881.6 261.3,880.3C261.9,879.1 264.2,877.6 265.5,877C266.8,876.3 268,876.3 269.1,876.5C270.2,876.7 271.5,877.1 272.2,878.1C272.8,879 273,880.9 272.9,882.1Z" fill="#8030d0"/><path d="M250.3,868.1C250.4,869.2 250.9,870 250.3,870.6C249.7,871.3 247.6,871.8 246.7,871.9C245.7,871.9 245.3,871.4 244.6,870.9C243.9,870.5 242.9,869.8 242.5,868.9C242.2,868 242.3,866.5 242.6,865.5C243,864.6 243.9,863.6 244.6,863C245.4,862.5 246.2,862.1 247,862.3C247.8,862.4 248.9,863 249.5,864C250,865 250.2,866.9 250.3,868.1Z" fill="#c4c4c4"/><circle cx="255.5" cy="868.2" r="1.6" fill="#cfcfcf"/><circle cx="247.1" cy="858.3" r="1.6" fill="#cfcfcf"/><path d="M259.2,861.9C259,863.1 257.5,863.9 256.8,864.5C256.1,865.2 255.9,865.7 255,865.9C254.1,866.1 252.5,866 251.4,865.6C250.3,865.2 248.9,864.5 248.2,863.5C247.6,862.4 247.4,860.5 247.8,859.2C248.2,857.9 249.4,856 250.6,855.5C251.7,855.1 253.4,856 254.6,856.3C255.8,856.6 257.1,856.4 257.9,857.3C258.6,858.3 259.4,860.7 259.2,861.9Z" fill="#309070"/><path d="M238.9,845.2C238.9,846 238.8,847.6 238.2,848.5C237.5,849.4 236.1,850.3 235.2,850.4C234.2,850.5 233.1,849.4 232.4,849C231.6,848.5 230.6,848.2 230.5,847.4C230.3,846.7 231.1,845.4 231.4,844.5C231.6,843.6 231.5,842.8 232.2,842.3C232.9,841.8 234.6,841.3 235.6,841.5C236.6,841.8 237.7,843 238.3,843.6C238.8,844.2 238.9,844.4 238.9,845.2Z" fill="#c4c4c4"/><circle cx="244" cy="847.7" r="1.6" fill="#cfcfcf"/><circle cx="236.8" cy="836.9" r="1.6" fill="#cfcfcf"/><path d="M248.9,840.1C249.1,841 248.9,842.8 248.2,843.6C247.5,844.4 246.1,844.5 244.8,844.8C243.5,845.1 241.3,845.6 240.2,845.3C239.2,844.9 238.9,843.7 238.5,842.7C238.1,841.7 237.6,840.3 237.9,839.1C238.3,837.9 239.6,835.9 240.5,835.3C241.4,834.8 242,835.3 243.1,835.7C244.3,836.1 246.4,836.9 247.4,837.7C248.3,838.4 248.8,839.1 248.9,840.1Z" fill="#c8a020"/>
<g fill="none" stroke="#a4d2fa" stroke-width="4.5" stroke-linecap="round" stroke-linejoin="round"><path d="M237.5,714.2C237.5,707.9 237.3,701.8 237.4,695.2C237.5,688.8 237.6,682.4 238,675.2C238.4,668.1 238.8,661.4 239.6,652.2C240.4,643.1 241.8,627.9 243,620.2C244.2,612.6 245.4,610.8 246.8,606.2C248.2,601.8 250,597.4 251.6,593.2C253.2,589.1 254.7,584.6 256.1,581.1C257.6,577.7 258.9,575.5 260.3,572.6C261.7,569.8 262.9,567.1 264.5,564.2C266.1,561.4 267.8,558.6 269.6,555.8C271.4,552.9 273.4,549.9 275.5,547.2C277.6,544.6 279.8,542 282.3,539.6C284.8,537.3 287.9,534.9 290.7,533C293.5,531 296.3,529.4 299.2,527.9C302.1,526.3 304.8,524.8 308,523.5C311.2,522.1 314.2,521.1 318.2,519.8C322.2,518.4 327.2,516.4 332,515.2C336.8,514.1 341.5,513 346.7,513C351.9,512.9 357.4,513.5 363,514.8C368.6,516 374.3,518.2 380,520.8C385.7,523.3 391.6,526.2 397.4,530C403.2,533.9 409.1,538.5 414.9,544C420.7,549.4 426.9,556.1 432.3,562.5C437.7,568.9 443.1,575.1 447.4,582.4C451.6,589.6 454.7,598.3 457.8,606.2C460.9,614.2 463.7,622.9 466,630.2C468.3,637.6 470.2,643.9 471.8,650.2C473.4,656.6 474.7,661.9 475.6,668.2C476.6,674.6 477.1,682.6 477.5,688.2C477.9,693.9 477.9,697.9 478,702.2C478.1,706.6 478,710.2 478,714.2C478,718.2 478.1,721.9 478,726.2C477.9,730.6 477.9,734.6 477.5,740.2C477.1,745.9 476.6,753.9 475.6,760.2C474.7,766.6 473.4,771.9 471.8,778.2C470.2,784.6 468.3,790.9 466,798.2C463.7,805.6 460.9,814.3 457.8,822.2C454.7,830.2 451.6,838.9 447.4,846.1C443.1,853.4 437.7,859.6 432.3,866C426.9,872.4 420.7,879.1 414.9,884.5C409.1,890 403.2,894.6 397.4,898.5C391.6,902.3 385.7,905.2 380,907.8C374.3,910.3 368.6,912.5 363,913.8C357.4,915 351.9,915.6 346.7,915.5C341.5,915.5 336.8,914.4 332,913.2C327.2,912.1 322.2,910.1 318.2,908.8C314.2,907.4 311.2,906.4 308,905C304.8,903.7 302.1,902.2 299.2,900.6C296.3,899.1 293.5,897.5 290.7,895.5C287.9,893.6 284.8,891.2 282.3,888.9C279.8,886.5 277.6,883.9 275.5,881.2C273.4,878.6 271.4,875.6 269.6,872.8C267.8,869.9 266.1,867.1 264.5,864.2C262.9,861.4 261.7,858.7 260.3,855.9C258.9,853 257.6,850.8 256.1,847.4C254.7,843.9 253.2,839.4 251.6,835.2C250,831.1 248.2,826.8 246.8,822.2C245.4,817.8 244.2,815.9 243,808.2C241.8,800.6 240.4,785.4 239.6,776.2C238.8,767.1 238.4,760.4 238,753.2C237.6,746.1 237.5,739.8 237.4,733.2C237.3,726.8 237.5,720.6 237.5,714.2Z"/><path d="M24,714.2C24.2,713.5 24.8,711.2 25.5,709.8C26.2,708.3 27.2,707 28.5,705.8C29.8,704.5 31.1,703.5 33,702.2C34.9,701 35.5,700.6 40,698.5C44.5,696.3 53.3,692.5 60,689.5C66.7,686.4 73.3,683.4 80,680.4C86.7,677.3 93.3,674.2 100,671.1C106.7,668.1 115,664.4 120,662C125,659.7 124.7,659.6 130,657.1C135.3,654.7 144.5,650.9 151.7,647.5C158.9,644 166.1,640.3 173.3,636.5C180.5,632.8 187.8,628.6 195,624.6C202.2,620.7 209.5,616.9 216.7,612.8C223.9,608.6 232.7,603 238.3,599.8C243.9,596.5 247,594.9 250.3,593.2C253.6,591.6 255.8,590.7 258,589.9C260.2,589 262.1,588.4 263.5,588C264.9,587.7 266,587.9 266.5,587.9"/><path d="M266.5,587.9C266.1,588.9 264.9,591.5 264.2,594.2C263.4,597 262.7,600.4 262,604.2C261.3,608.1 261.1,612.4 259.9,617.5C258.7,622.7 256.6,629.5 255,635.2C253.4,641 252.1,645.6 250.4,652C248.8,658.3 246.7,666.1 245.1,673.1C243.5,680.2 242,687.4 240.9,694.2C239.8,701.1 239,710.9 238.6,714.2"/><path d="M24,714.2C24.2,715 24.8,717.3 25.5,718.8C26.2,720.2 27.2,721.5 28.5,722.8C29.8,724 31.1,725 33,726.2C34.9,727.5 35.5,727.9 40,730C44.5,732.2 53.3,736 60,739C66.7,742.1 73.3,745.1 80,748.1C86.7,751.2 93.3,754.3 100,757.4C106.7,760.4 115,764.1 120,766.5C125,768.8 124.7,768.9 130,771.4C135.3,773.8 144.5,777.6 151.7,781C158.9,784.5 166.1,788.2 173.3,792C180.5,795.8 187.8,799.9 195,803.9C202.2,807.8 209.5,811.6 216.7,815.8C223.9,819.9 232.7,825.5 238.3,828.8C243.9,832 247,833.6 250.3,835.2C253.6,836.9 255.8,837.8 258,838.6C260.2,839.5 262.1,840.1 263.5,840.5C264.9,840.8 266,840.6 266.5,840.6"/><path d="M266.5,840.6C266.1,839.6 264.9,837 264.2,834.2C263.4,831.5 262.7,828.1 262,824.2C261.3,820.4 261.1,816.1 259.9,811C258.7,805.8 256.6,799 255,793.2C253.4,787.5 252.1,782.9 250.4,776.5C248.8,770.2 246.7,762.4 245.1,755.4C243.5,748.3 242,741.1 240.9,734.2C239.8,727.4 239,717.6 238.6,714.2"/></g>
</g>
<defs><clipPath id="cbr"><rect x="657" y="503.5" width="530" height="419"/></clipPath><pattern id="spk" width="30" height="30" patternUnits="userSpaceOnUse"><rect width="30" height="30" fill="#9a96a6"/><circle cx="9.7" cy="4.5" r="1.8" fill="#0c2a96"/><circle cx="16.1" cy="11.0" r="1.1" fill="#b4b4b4"/><circle cx="1.1" cy="13.0" r="1.1" fill="#0c2a96"/><circle cx="12.7" cy="24.8" r="1.2" fill="#0c2a96"/><circle cx="18.8" cy="28.4" r="1.8" fill="#b4b4b4"/><circle cx="18.8" cy="-1.6" r="1.8" fill="#b4b4b4"/><circle cx="29.3" cy="1.4" r="2.1" fill="#b4b4b4"/><circle cx="29.3" cy="31.4" r="2.1" fill="#b4b4b4"/><circle cx="-0.7" cy="1.4" r="2.1" fill="#b4b4b4"/><circle cx="-0.7" cy="31.4" r="2.1" fill="#b4b4b4"/><circle cx="4.3" cy="3.5" r="1.4" fill="#38b848"/><circle cx="5.4" cy="17.4" r="1.8" fill="#b4b4b4"/><circle cx="16.4" cy="1.9" r="1.1" fill="#0c2a96"/><circle cx="20.4" cy="12.8" r="1.4" fill="#b4b4b4"/><circle cx="13.6" cy="9.0" r="2.0" fill="#d82030"/><circle cx="7.3" cy="17.2" r="1.7" fill="#38b848"/><circle cx="21.9" cy="8.6" r="2.3" fill="#0c2a96"/><circle cx="12.5" cy="22.7" r="1.2" fill="#b4b4b4"/><circle cx="1.2" cy="20.0" r="2.0" fill="#b4b4b4"/><circle cx="31.2" cy="20.0" r="2.0" fill="#b4b4b4"/><circle cx="26.3" cy="9.4" r="1.9" fill="#b4b4b4"/><circle cx="17.4" cy="13.7" r="2.1" fill="#c86020"/><circle cx="14.2" cy="19.9" r="1.1" fill="#d82030"/><circle cx="19.4" cy="29.8" r="2.1" fill="#b4b4b4"/><circle cx="19.4" cy="-0.2" r="2.1" fill="#b4b4b4"/><circle cx="11.6" cy="20.1" r="1.0" fill="#b4b4b4"/><circle cx="5.0" cy="3.5" r="1.1" fill="#d82030"/><circle cx="3.9" cy="7.4" r="1.5" fill="#38b848"/><circle cx="2.4" cy="13.5" r="1.7" fill="#6b2d6e"/><circle cx="24.6" cy="25.9" r="1.4" fill="#b4b4b4"/><circle cx="10.8" cy="26.5" r="2.2" fill="#0c2a96"/><circle cx="5.3" cy="7.0" r="1.3" fill="#b4b4b4"/><circle cx="17.7" cy="7.9" r="1.0" fill="#b4b4b4"/><circle cx="11.1" cy="17.0" r="2.2" fill="#d82030"/><circle cx="15.5" cy="18.5" r="1.9" fill="#0c2a96"/><circle cx="27.0" cy="23.4" r="2.1" fill="#38b848"/><circle cx="11.8" cy="12.0" r="1.1" fill="#b4b4b4"/><circle cx="1.9" cy="2.0" r="1.3" fill="#0c2a96"/><circle cx="10.2" cy="1.6" r="1.0" fill="#0c2a96"/><circle cx="3.0" cy="10.9" r="1.0" fill="#38b848"/><circle cx="18.4" cy="4.5" r="1.3" fill="#b4b4b4"/><circle cx="10.9" cy="3.7" r="2.1" fill="#2050d0"/><circle cx="14.0" cy="14.5" r="1.1" fill="#0c2a96"/><circle cx="10.3" cy="7.9" r="2.1" fill="#0c2a96"/><circle cx="0.7" cy="28.5" r="1.7" fill="#0c2a96"/><circle cx="0.7" cy="-1.5" r="1.7" fill="#0c2a96"/><circle cx="30.7" cy="28.5" r="1.7" fill="#0c2a96"/><circle cx="30.7" cy="-1.5" r="1.7" fill="#0c2a96"/><circle cx="16.3" cy="0.8" r="1.7" fill="#2050d0"/><circle cx="16.3" cy="30.8" r="1.7" fill="#2050d0"/><circle cx="25.9" cy="20.9" r="1.3" fill="#b4b4b4"/><circle cx="5.0" cy="23.2" r="1.7" fill="#d82030"/><circle cx="9.9" cy="6.7" r="2.1" fill="#2050d0"/><circle cx="25.6" cy="24.2" r="2.1" fill="#d82030"/><circle cx="6.8" cy="15.5" r="1.5" fill="#0c2a96"/><circle cx="0.8" cy="8.4" r="1.3" fill="#d82030"/><circle cx="30.8" cy="8.4" r="1.3" fill="#d82030"/><circle cx="28.7" cy="13.4" r="2.2" fill="#2050d0"/><circle cx="-1.3" cy="13.4" r="2.2" fill="#2050d0"/><circle cx="28.7" cy="10.9" r="1.3" fill="#0c2a96"/><circle cx="5.9" cy="6.1" r="1.8" fill="#6b2d6e"/><circle cx="25.2" cy="14.4" r="1.8" fill="#38b848"/><circle cx="2.5" cy="19.8" r="2.2" fill="#d82030"/><circle cx="22.5" cy="14.3" r="1.2" fill="#d82030"/><circle cx="10.0" cy="24.0" r="2.3" fill="#b4b4b4"/><circle cx="12.0" cy="28.4" r="1.9" fill="#0c2a96"/><circle cx="12.0" cy="-1.6" r="1.9" fill="#0c2a96"/><circle cx="3.8" cy="4.5" r="2.2" fill="#38b848"/><circle cx="4.4" cy="24.8" r="2.3" fill="#d82030"/><circle cx="10.5" cy="16.5" r="1.2" fill="#0c2a96"/><circle cx="29.1" cy="19.5" r="1.7" fill="#c86020"/><circle cx="-0.9" cy="19.5" r="1.7" fill="#c86020"/><circle cx="13.0" cy="26.2" r="2.1" fill="#0c2a96"/><circle cx="7.6" cy="8.8" r="1.3" fill="#b4b4b4"/><circle cx="7.8" cy="12.6" r="1.2" fill="#6b2d6e"/><circle cx="10.6" cy="13.7" r="1.8" fill="#6b2d6e"/><circle cx="12.6" cy="27.5" r="1.7" fill="#b4b4b4"/><circle cx="15.7" cy="0.6" r="1.6" fill="#0c2a96"/><circle cx="15.7" cy="30.6" r="1.6" fill="#0c2a96"/><circle cx="0.1" cy="24.0" r="1.2" fill="#b4b4b4"/><circle cx="30.1" cy="24.0" r="1.2" fill="#b4b4b4"/><circle cx="21.8" cy="16.7" r="1.4" fill="#b4b4b4"/><circle cx="16.7" cy="23.5" r="1.1" fill="#b4b4b4"/><circle cx="7.5" cy="8.3" r="2.0" fill="#b4b4b4"/><circle cx="16.9" cy="22.8" r="2.2" fill="#b4b4b4"/><circle cx="18.4" cy="15.2" r="1.7" fill="#d82030"/><circle cx="13.6" cy="16.0" r="1.6" fill="#c86020"/><circle cx="21.0" cy="26.3" r="2.2" fill="#0c2a96"/><circle cx="16.8" cy="28.3" r="2.1" fill="#0c2a96"/><circle cx="16.8" cy="-1.7" r="2.1" fill="#0c2a96"/><circle cx="3.6" cy="13.3" r="1.1" fill="#0c2a96"/><circle cx="2.2" cy="20.1" r="2.0" fill="#6b2d6e"/><circle cx="4.6" cy="21.5" r="1.9" fill="#0c2a96"/><circle cx="26.5" cy="29.0" r="1.3" fill="#2050d0"/><circle cx="26.5" cy="-1.0" r="1.3" fill="#2050d0"/><circle cx="11.9" cy="14.6" r="2.3" fill="#38b848"/><circle cx="4.8" cy="12.9" r="1.7" fill="#b4b4b4"/><circle cx="5.9" cy="9.6" r="1.9" fill="#0c2a96"/><circle cx="16.6" cy="13.2" r="1.0" fill="#b4b4b4"/><circle cx="18.7" cy="15.4" r="1.1" fill="#2050d0"/><circle cx="23.7" cy="29.2" r="1.1" fill="#0c2a96"/><circle cx="23.7" cy="-0.8" r="1.1" fill="#0c2a96"/><circle cx="1.2" cy="23.4" r="1.4" fill="#0c2a96"/><circle cx="31.2" cy="23.4" r="1.4" fill="#0c2a96"/><circle cx="12.7" cy="27.3" r="2.1" fill="#0c2a96"/><circle cx="4.5" cy="27.6" r="1.7" fill="#d82030"/><circle cx="2.7" cy="1.7" r="1.9" fill="#b4b4b4"/><circle cx="2.7" cy="31.7" r="1.9" fill="#b4b4b4"/><circle cx="2.2" cy="28.2" r="1.8" fill="#38b848"/><circle cx="2.5" cy="25.7" r="1.1" fill="#38b848"/><circle cx="13.6" cy="10.2" r="1.7" fill="#c86020"/><circle cx="8.0" cy="3.9" r="1.7" fill="#0c2a96"/><circle cx="3.3" cy="4.8" r="1.1" fill="#0c2a96"/><circle cx="9.4" cy="9.2" r="2.0" fill="#b4b4b4"/><circle cx="15.0" cy="5.3" r="1.5" fill="#0c2a96"/><circle cx="7.5" cy="0.5" r="2.0" fill="#b4b4b4"/><circle cx="7.5" cy="30.5" r="2.0" fill="#b4b4b4"/><circle cx="5.7" cy="14.2" r="2.2" fill="#0c2a96"/><circle cx="24.6" cy="13.0" r="1.6" fill="#38b848"/><circle cx="11.8" cy="15.2" r="1.9" fill="#2050d0"/><circle cx="10.3" cy="25.0" r="1.9" fill="#b4b4b4"/><circle cx="12.1" cy="10.4" r="1.1" fill="#0c2a96"/><circle cx="2.1" cy="22.2" r="1.3" fill="#0c2a96"/><circle cx="2.5" cy="25.2" r="2.1" fill="#d82030"/><circle cx="8.5" cy="7.3" r="1.4" fill="#b4b4b4"/><circle cx="4.7" cy="13.4" r="1.3" fill="#2050d0"/><circle cx="29.2" cy="16.4" r="1.3" fill="#2050d0"/><circle cx="-0.8" cy="16.4" r="1.3" fill="#2050d0"/><circle cx="9.3" cy="10.7" r="1.0" fill="#b4b4b4"/><circle cx="14.2" cy="15.1" r="1.3" fill="#b4b4b4"/><circle cx="0.1" cy="7.9" r="1.1" fill="#b4b4b4"/><circle cx="30.1" cy="7.9" r="1.1" fill="#b4b4b4"/><circle cx="1.3" cy="0.7" r="1.4" fill="#0c2a96"/><circle cx="1.3" cy="30.7" r="1.4" fill="#0c2a96"/><circle cx="31.3" cy="0.7" r="1.4" fill="#0c2a96"/><circle cx="31.3" cy="30.7" r="1.4" fill="#0c2a96"/><circle cx="17.6" cy="15.9" r="2.0" fill="#d82030"/><circle cx="21.5" cy="26.4" r="1.5" fill="#b4b4b4"/><circle cx="29.5" cy="4.5" r="1.9" fill="#d82030"/><circle cx="-0.5" cy="4.5" r="1.9" fill="#d82030"/><circle cx="1.3" cy="25.1" r="2.2" fill="#b4b4b4"/><circle cx="31.3" cy="25.1" r="2.2" fill="#b4b4b4"/><circle cx="22.0" cy="24.4" r="1.2" fill="#b4b4b4"/><circle cx="15.1" cy="25.0" r="2.0" fill="#38b848"/><circle cx="17.5" cy="26.8" r="1.9" fill="#d82030"/><circle cx="6.9" cy="0.9" r="1.2" fill="#b4b4b4"/><circle cx="6.9" cy="30.9" r="1.2" fill="#b4b4b4"/><circle cx="3.1" cy="25.1" r="1.7" fill="#b4b4b4"/><circle cx="18.8" cy="20.4" r="1.6" fill="#0c2a96"/><circle cx="23.9" cy="22.4" r="1.7" fill="#b4b4b4"/><circle cx="19.8" cy="2.0" r="2.0" fill="#0c2a96"/><circle cx="2.2" cy="8.0" r="1.9" fill="#0c2a96"/><circle cx="22.2" cy="29.3" r="1.6" fill="#b4b4b4"/><circle cx="22.2" cy="-0.7" r="1.6" fill="#b4b4b4"/><circle cx="14.4" cy="20.5" r="2.0" fill="#b4b4b4"/><circle cx="19.3" cy="2.3" r="1.2" fill="#0c2a96"/><circle cx="22.3" cy="9.1" r="1.7" fill="#0c2a96"/><circle cx="1.8" cy="8.1" r="1.9" fill="#d82030"/><circle cx="31.8" cy="8.1" r="1.9" fill="#d82030"/><circle cx="20.3" cy="8.7" r="1.7" fill="#b4b4b4"/><circle cx="14.0" cy="3.6" r="2.2" fill="#0c2a96"/><circle cx="29.3" cy="28.1" r="1.0" fill="#b4b4b4"/><circle cx="-0.7" cy="28.1" r="1.0" fill="#b4b4b4"/><circle cx="24.6" cy="29.0" r="1.6" fill="#0c2a96"/><circle cx="24.6" cy="-1.0" r="1.6" fill="#0c2a96"/><circle cx="6.3" cy="28.4" r="1.3" fill="#b4b4b4"/><circle cx="4.3" cy="15.7" r="2.2" fill="#0c2a96"/><circle cx="24.6" cy="15.3" r="2.2" fill="#d82030"/><circle cx="6.9" cy="26.9" r="1.6" fill="#0c2a96"/><circle cx="0.1" cy="14.8" r="1.6" fill="#b4b4b4"/><circle cx="30.1" cy="14.8" r="1.6" fill="#b4b4b4"/><circle cx="4.2" cy="10.3" r="1.4" fill="#38b848"/><circle cx="0.1" cy="22.5" r="2.1" fill="#0c2a96"/><circle cx="30.1" cy="22.5" r="2.1" fill="#0c2a96"/><circle cx="27.8" cy="21.4" r="2.2" fill="#b4b4b4"/><circle cx="11.2" cy="11.8" r="2.3" fill="#b4b4b4"/><circle cx="10.8" cy="12.8" r="1.4" fill="#0c2a96"/><circle cx="3.1" cy="25.0" r="1.4" fill="#c86020"/><circle cx="7.5" cy="8.0" r="1.7" fill="#0c2a96"/><circle cx="11.2" cy="28.7" r="2.1" fill="#38b848"/><circle cx="11.2" cy="-1.3" r="2.1" fill="#38b848"/><circle cx="18.9" cy="27.4" r="2.2" fill="#b4b4b4"/><circle cx="21.6" cy="1.5" r="2.0" fill="#b4b4b4"/><circle cx="21.6" cy="31.5" r="2.0" fill="#b4b4b4"/><circle cx="22.6" cy="19.3" r="1.4" fill="#0c2a96"/><circle cx="27.8" cy="3.8" r="1.6" fill="#b4b4b4"/><circle cx="8.9" cy="22.2" r="2.3" fill="#0c2a96"/><circle cx="19.7" cy="9.0" r="1.7" fill="#b4b4b4"/><circle cx="5.0" cy="4.8" r="1.3" fill="#6b2d6e"/><circle cx="14.9" cy="6.6" r="2.2" fill="#2050d0"/><circle cx="13.5" cy="4.2" r="1.3" fill="#0c2a96"/><circle cx="10.3" cy="2.7" r="1.3" fill="#0c2a96"/><circle cx="17.1" cy="26.6" r="2.0" fill="#b4b4b4"/><circle cx="12.4" cy="15.7" r="1.5" fill="#b4b4b4"/><circle cx="1.9" cy="8.3" r="2.3" fill="#0c2a96"/><circle cx="31.9" cy="8.3" r="2.3" fill="#0c2a96"/><circle cx="15.1" cy="18.9" r="2.1" fill="#0c2a96"/><circle cx="8.1" cy="7.5" r="1.5" fill="#b4b4b4"/><circle cx="28.6" cy="25.5" r="2.1" fill="#0c2a96"/><circle cx="-1.4" cy="25.5" r="2.1" fill="#0c2a96"/><circle cx="1.0" cy="21.3" r="2.2" fill="#b4b4b4"/><circle cx="31.0" cy="21.3" r="2.2" fill="#b4b4b4"/><circle cx="17.6" cy="0.0" r="1.5" fill="#c86020"/><circle cx="17.6" cy="30.0" r="1.5" fill="#c86020"/><circle cx="24.8" cy="25.7" r="2.3" fill="#0c2a96"/><circle cx="3.3" cy="4.6" r="1.7" fill="#d82030"/><circle cx="28.2" cy="21.7" r="1.8" fill="#d82030"/><circle cx="-1.8" cy="21.7" r="1.8" fill="#d82030"/><circle cx="13.7" cy="16.5" r="1.1" fill="#d82030"/><circle cx="7.0" cy="27.6" r="1.8" fill="#b4b4b4"/><circle cx="3.8" cy="7.6" r="1.8" fill="#d82030"/><circle cx="3.4" cy="2.1" r="1.7" fill="#b4b4b4"/><circle cx="11.6" cy="6.7" r="1.8" fill="#0c2a96"/></pattern><pattern id="spk2" width="26" height="26" patternUnits="userSpaceOnUse"><rect width="26" height="26" fill="#9a96a6"/><circle cx="11.8" cy="14.6" r="2.2" fill="#b4b4b4"/><circle cx="13.2" cy="15.3" r="1.2" fill="#b4b4b4"/><circle cx="16.4" cy="20.6" r="1.1" fill="#b4b4b4"/><circle cx="2.4" cy="21.1" r="1.9" fill="#0c2a96"/><circle cx="25.5" cy="25.1" r="1.9" fill="#b4b4b4"/><circle cx="25.5" cy="-0.9" r="1.9" fill="#b4b4b4"/><circle cx="-0.5" cy="25.1" r="1.9" fill="#b4b4b4"/><circle cx="-0.5" cy="-0.9" r="1.9" fill="#b4b4b4"/><circle cx="4.1" cy="0.4" r="1.7" fill="#0c2a96"/><circle cx="4.1" cy="26.4" r="1.7" fill="#0c2a96"/><circle cx="4.9" cy="6.3" r="1.0" fill="#b4b4b4"/><circle cx="11.5" cy="21.9" r="1.7" fill="#d82030"/><circle cx="13.0" cy="17.2" r="1.6" fill="#0c2a96"/><circle cx="25.9" cy="25.9" r="2.1" fill="#d82030"/><circle cx="25.9" cy="-0.1" r="2.1" fill="#d82030"/><circle cx="-0.1" cy="25.9" r="2.1" fill="#d82030"/><circle cx="-0.1" cy="-0.1" r="2.1" fill="#d82030"/><circle cx="8.2" cy="6.0" r="1.4" fill="#0c2a96"/><circle cx="19.9" cy="10.4" r="2.1" fill="#b4b4b4"/><circle cx="24.9" cy="22.0" r="1.0" fill="#0c2a96"/><circle cx="23.7" cy="12.2" r="2.3" fill="#b4b4b4"/><circle cx="1.9" cy="16.4" r="2.0" fill="#0c2a96"/><circle cx="27.9" cy="16.4" r="2.0" fill="#0c2a96"/><circle cx="2.3" cy="8.6" r="2.3" fill="#d82030"/><circle cx="3.1" cy="6.4" r="1.1" fill="#0c2a96"/><circle cx="20.7" cy="4.6" r="1.7" fill="#b4b4b4"/><circle cx="5.0" cy="19.0" r="1.2" fill="#d82030"/><circle cx="3.0" cy="10.9" r="1.3" fill="#0c2a96"/><circle cx="25.2" cy="20.9" r="1.4" fill="#6b2d6e"/><circle cx="-0.8" cy="20.9" r="1.4" fill="#6b2d6e"/><circle cx="5.5" cy="10.3" r="2.1" fill="#d82030"/><circle cx="2.6" cy="25.7" r="1.3" fill="#0c2a96"/><circle cx="2.6" cy="-0.3" r="1.3" fill="#0c2a96"/><circle cx="20.1" cy="8.6" r="1.4" fill="#0c2a96"/><circle cx="2.3" cy="15.2" r="1.3" fill="#b4b4b4"/><circle cx="9.7" cy="11.8" r="2.2" fill="#b4b4b4"/><circle cx="14.9" cy="22.5" r="1.2" fill="#0c2a96"/><circle cx="23.6" cy="21.3" r="1.3" fill="#0c2a96"/><circle cx="19.2" cy="24.5" r="1.3" fill="#2050d0"/><circle cx="22.9" cy="15.7" r="1.5" fill="#0c2a96"/><circle cx="1.0" cy="25.0" r="1.3" fill="#d82030"/><circle cx="1.0" cy="-1.0" r="1.3" fill="#d82030"/><circle cx="27.0" cy="25.0" r="1.3" fill="#d82030"/><circle cx="27.0" cy="-1.0" r="1.3" fill="#d82030"/><circle cx="6.7" cy="21.4" r="1.8" fill="#b4b4b4"/><circle cx="4.6" cy="18.7" r="1.1" fill="#0c2a96"/><circle cx="14.5" cy="22.2" r="1.8" fill="#b4b4b4"/><circle cx="23.9" cy="5.3" r="1.0" fill="#0c2a96"/><circle cx="11.6" cy="1.6" r="1.2" fill="#b4b4b4"/><circle cx="14.9" cy="3.4" r="1.5" fill="#6b2d6e"/><circle cx="25.5" cy="17.1" r="1.9" fill="#b4b4b4"/><circle cx="-0.5" cy="17.1" r="1.9" fill="#b4b4b4"/><circle cx="3.6" cy="0.9" r="1.0" fill="#6b2d6e"/><circle cx="3.6" cy="26.9" r="1.0" fill="#6b2d6e"/><circle cx="18.2" cy="25.0" r="1.0" fill="#b4b4b4"/><circle cx="18.2" cy="-1.0" r="1.0" fill="#b4b4b4"/><circle cx="12.5" cy="19.0" r="1.4" fill="#2050d0"/><circle cx="2.0" cy="14.2" r="2.0" fill="#6b2d6e"/><circle cx="28.0" cy="14.2" r="2.0" fill="#6b2d6e"/><circle cx="19.2" cy="18.3" r="2.0" fill="#6b2d6e"/><circle cx="9.1" cy="17.8" r="2.2" fill="#38b848"/><circle cx="10.8" cy="20.6" r="2.1" fill="#b4b4b4"/><circle cx="16.2" cy="9.9" r="1.8" fill="#b4b4b4"/><circle cx="2.1" cy="16.6" r="2.3" fill="#38b848"/><circle cx="28.1" cy="16.6" r="2.3" fill="#38b848"/><circle cx="18.9" cy="10.1" r="2.0" fill="#b4b4b4"/><circle cx="11.5" cy="21.8" r="1.1" fill="#d82030"/><circle cx="0.8" cy="15.6" r="1.6" fill="#0c2a96"/><circle cx="26.8" cy="15.6" r="1.6" fill="#0c2a96"/><circle cx="18.2" cy="12.9" r="1.8" fill="#c86020"/><circle cx="6.7" cy="0.3" r="1.4" fill="#d82030"/><circle cx="6.7" cy="26.3" r="1.4" fill="#d82030"/><circle cx="5.3" cy="4.4" r="2.2" fill="#d82030"/><circle cx="11.5" cy="23.2" r="1.4" fill="#d82030"/><circle cx="5.2" cy="11.2" r="2.0" fill="#6b2d6e"/><circle cx="22.9" cy="10.0" r="1.8" fill="#b4b4b4"/><circle cx="3.5" cy="12.9" r="2.1" fill="#38b848"/><circle cx="18.5" cy="24.7" r="1.4" fill="#0c2a96"/><circle cx="18.5" cy="-1.3" r="1.4" fill="#0c2a96"/><circle cx="11.7" cy="7.2" r="1.3" fill="#b4b4b4"/><circle cx="16.3" cy="12.8" r="1.4" fill="#38b848"/><circle cx="25.5" cy="11.8" r="1.1" fill="#0c2a96"/><circle cx="-0.5" cy="11.8" r="1.1" fill="#0c2a96"/><circle cx="22.7" cy="1.1" r="1.9" fill="#b4b4b4"/><circle cx="22.7" cy="27.1" r="1.9" fill="#b4b4b4"/><circle cx="8.0" cy="20.6" r="1.0" fill="#0c2a96"/><circle cx="11.8" cy="0.6" r="2.1" fill="#0c2a96"/><circle cx="11.8" cy="26.6" r="2.1" fill="#0c2a96"/><circle cx="3.7" cy="1.2" r="1.8" fill="#b4b4b4"/><circle cx="3.7" cy="27.2" r="1.8" fill="#b4b4b4"/><circle cx="16.4" cy="17.0" r="2.0" fill="#2050d0"/><circle cx="17.8" cy="5.2" r="1.6" fill="#0c2a96"/><circle cx="0.3" cy="12.3" r="1.9" fill="#0c2a96"/><circle cx="26.3" cy="12.3" r="1.9" fill="#0c2a96"/><circle cx="7.1" cy="9.0" r="1.9" fill="#b4b4b4"/><circle cx="16.0" cy="19.7" r="1.5" fill="#38b848"/><circle cx="23.6" cy="2.3" r="2.2" fill="#d82030"/><circle cx="3.4" cy="11.8" r="1.8" fill="#6b2d6e"/><circle cx="9.8" cy="14.8" r="2.1" fill="#38b848"/><circle cx="24.6" cy="12.1" r="1.8" fill="#0c2a96"/><circle cx="-1.4" cy="12.1" r="1.8" fill="#0c2a96"/><circle cx="18.8" cy="21.3" r="1.8" fill="#d82030"/><circle cx="5.5" cy="23.4" r="2.3" fill="#2050d0"/><circle cx="14.0" cy="20.6" r="1.4" fill="#6b2d6e"/><circle cx="22.3" cy="9.1" r="1.1" fill="#b4b4b4"/><circle cx="14.3" cy="20.0" r="1.6" fill="#0c2a96"/><circle cx="21.0" cy="1.7" r="2.0" fill="#0c2a96"/><circle cx="21.0" cy="27.7" r="2.0" fill="#0c2a96"/><circle cx="8.7" cy="20.5" r="1.2" fill="#0c2a96"/><circle cx="13.4" cy="18.8" r="2.1" fill="#d82030"/><circle cx="24.6" cy="12.8" r="2.2" fill="#0c2a96"/><circle cx="-1.4" cy="12.8" r="2.2" fill="#0c2a96"/><circle cx="5.8" cy="13.7" r="1.4" fill="#d82030"/><circle cx="16.6" cy="13.6" r="2.1" fill="#b4b4b4"/><circle cx="8.1" cy="9.9" r="2.1" fill="#6b2d6e"/><circle cx="5.4" cy="22.1" r="2.3" fill="#b4b4b4"/><circle cx="14.9" cy="5.2" r="1.7" fill="#b4b4b4"/><circle cx="15.7" cy="0.7" r="2.3" fill="#b4b4b4"/><circle cx="15.7" cy="26.7" r="2.3" fill="#b4b4b4"/><circle cx="10.4" cy="20.8" r="1.7" fill="#b4b4b4"/><circle cx="18.0" cy="1.7" r="1.7" fill="#b4b4b4"/><circle cx="24.9" cy="24.0" r="1.3" fill="#b4b4b4"/><circle cx="-1.1" cy="24.0" r="1.3" fill="#b4b4b4"/><circle cx="3.3" cy="11.3" r="2.1" fill="#6b2d6e"/><circle cx="12.4" cy="8.2" r="1.2" fill="#b4b4b4"/><circle cx="24.1" cy="3.4" r="2.0" fill="#0c2a96"/><circle cx="-1.9" cy="3.4" r="2.0" fill="#0c2a96"/><circle cx="5.0" cy="5.9" r="1.9" fill="#b4b4b4"/><circle cx="9.2" cy="16.1" r="1.1" fill="#d82030"/><circle cx="3.2" cy="13.3" r="1.3" fill="#0c2a96"/><circle cx="13.8" cy="11.4" r="1.5" fill="#b4b4b4"/><circle cx="13.8" cy="4.2" r="1.3" fill="#b4b4b4"/><circle cx="16.6" cy="13.8" r="2.1" fill="#b4b4b4"/><circle cx="22.3" cy="6.0" r="2.0" fill="#38b848"/><circle cx="23.5" cy="8.2" r="1.4" fill="#c86020"/><circle cx="5.7" cy="26.0" r="2.2" fill="#0c2a96"/><circle cx="5.7" cy="-0.0" r="2.2" fill="#0c2a96"/><circle cx="6.2" cy="18.9" r="1.3" fill="#0c2a96"/><circle cx="21.6" cy="11.0" r="2.0" fill="#0c2a96"/><circle cx="10.5" cy="17.8" r="1.0" fill="#0c2a96"/><circle cx="17.7" cy="23.7" r="2.3" fill="#0c2a96"/><circle cx="13.1" cy="19.7" r="1.7" fill="#d82030"/><circle cx="4.9" cy="1.8" r="1.1" fill="#0c2a96"/><circle cx="14.3" cy="13.4" r="1.7" fill="#0c2a96"/><circle cx="4.8" cy="5.3" r="2.1" fill="#2050d0"/><circle cx="24.1" cy="2.5" r="1.1" fill="#2050d0"/><circle cx="12.0" cy="19.9" r="1.4" fill="#b4b4b4"/><circle cx="13.4" cy="11.2" r="1.8" fill="#0c2a96"/><circle cx="18.2" cy="22.0" r="1.2" fill="#b4b4b4"/><circle cx="19.2" cy="10.5" r="1.3" fill="#0c2a96"/><circle cx="13.3" cy="0.4" r="2.2" fill="#38b848"/><circle cx="13.3" cy="26.4" r="2.2" fill="#38b848"/><circle cx="18.3" cy="22.4" r="1.8" fill="#b4b4b4"/><circle cx="15.6" cy="13.1" r="2.3" fill="#38b848"/><circle cx="6.7" cy="23.7" r="2.0" fill="#d82030"/><circle cx="21.2" cy="10.5" r="2.2" fill="#38b848"/><circle cx="18.1" cy="19.9" r="2.0" fill="#b4b4b4"/><circle cx="18.8" cy="1.8" r="1.4" fill="#b4b4b4"/><circle cx="0.3" cy="9.2" r="1.8" fill="#b4b4b4"/><circle cx="26.3" cy="9.2" r="1.8" fill="#b4b4b4"/><circle cx="6.0" cy="24.6" r="1.9" fill="#b4b4b4"/><circle cx="6.0" cy="-1.4" r="1.9" fill="#b4b4b4"/><circle cx="17.2" cy="14.8" r="1.7" fill="#b4b4b4"/><circle cx="26.0" cy="16.7" r="1.9" fill="#d82030"/><circle cx="-0.0" cy="16.7" r="1.9" fill="#d82030"/><circle cx="25.5" cy="0.6" r="1.8" fill="#d82030"/><circle cx="25.5" cy="26.6" r="1.8" fill="#d82030"/><circle cx="-0.5" cy="0.6" r="1.8" fill="#d82030"/><circle cx="-0.5" cy="26.6" r="1.8" fill="#d82030"/><circle cx="6.7" cy="10.4" r="1.1" fill="#0c2a96"/></pattern></defs>
<g clip-path="url(#cbr)">
<path d="M650,500 L709.1,500 L709.1,503.5 L693.9,520.3 L685.5,522 L671.9,525.4 L650,524Z" fill="#b3b3b3"/>
<path d="M709.1,500 L898,500 L899.4,500.3 L899.3,500.4 L899.2,500.5 L899.1,500.6 L898.9,500.9 L898.6,501.3 L898.3,502.1 L897.8,503.2 L897.1,504.8 L896.2,507 L895,509.8 L893.6,513.2 L892,517.2 L890.2,521.5 L888.3,526.1 L886.4,530.9 L884.5,535.7 L882.7,540.4 L881,545 L879.5,549.3 L878.2,553.4 L876.9,557.6 L875.8,561.8 L874.7,565.9 L873.6,570 L872.6,574.1 L871.7,578.1 L870.7,581.9 L869.8,585.6 L868.8,589.2 L868.8,589.2 L776,647.3 L763.3,638.7 L749.8,630.3 L734.5,623.5 L727.8,615 L724.4,601.5 L721,593 L714.2,584.6 L710.8,571 L705.8,557.5 L700.7,544 L695.6,530.5 L693.9,520.3 L709.1,503.5Z" fill="#b24e22"/>
<path d="M898,500 L1062,500 L1061,503.5 L1050,511.7 L1047.5,517 L1036.1,517.3 L1035.2,517.4 L1034.4,517.4 L1033.6,517.4 L1032.7,517.5 L1031.9,517.5 L1031,517.6 L1030.1,517.7 L1029.3,517.7 L1028.4,517.8 L1027.5,517.9 L1026.7,518 L1025.8,518.1 L1025,518.3 L1024.1,518.4 L1023.3,518.5 L1022.5,518.6 L1021.6,518.8 L1020.8,518.9 L1020,519.1 L1019.1,519.2 L1018.3,519.4 L1017.5,519.6 L1016.7,519.8 L1015.8,520 L1015,520.2 L1014.2,520.4 L1013.3,520.6 L1012.5,520.8 L1011.7,521 L1010.9,521.3 L1010,521.5 L1009.2,521.7 L1008.4,522 L1007.5,522.2 L1006.7,522.5 L1005.9,522.8 L1005,523 L1004.2,523.3 L1003.4,523.6 L1002.5,523.9 L1001.7,524.2 L1000.9,524.6 L1000,524.9 L999.2,525.2 L998.4,525.5 L997.5,525.9 L996.7,526.2 L995.9,526.6 L995,526.9 L994.2,527.2 L993.4,527.6 L992.5,527.9 L991.7,528.3 L990.8,528.6 L990,529 L989.2,529.3 L988.3,529.7 L987.5,530 L986.7,530.4 L985.9,530.7 L985.1,531.1 L984.3,531.5 L983.6,531.8 L982.8,532.2 L982,532.5 L981.1,532.9 L980.3,533.3 L979.5,533.7 L978.6,534 L977.8,534.4 L976.9,534.8 L976,535.2 L975,535.6 L974.1,536.1 L973.1,536.5 L972.1,536.9 L971,537.4 L970,537.9 L968.8,538.3 L967.7,538.8 L966.6,539.3 L965.4,539.8 L964.2,540.3 L963,540.8 L961.8,541.3 L960.6,541.9 L959.4,542.4 L958.2,542.9 L957,543.4 L955.8,543.9 L954.6,544.5 L953.4,545 L952.3,545.5 L951.1,546 L950,546.5 L948.9,547 L947.8,547.5 L946.8,548 L945.8,548.4 L944.8,548.9 L943.8,549.3 L942.8,549.8 L941.8,550.3 L940.8,550.7 L939.8,551.2 L938.8,551.7 L937.8,552.2 L936.8,552.6 L935.7,553.2 L934.6,553.7 L933.5,554.2 L932.4,554.8 L931.3,555.4 L930,556 L928.8,556.6 L927.5,557.3 L926.2,557.9 L924.8,558.6 L923.4,559.4 L922,560.1 L920.6,560.9 L919.1,561.6 L917.6,562.4 L916.1,563.2 L914.6,564 L913,564.8 L911.5,565.7 L910,566.5 L908.4,567.3 L906.9,568.2 L905.3,569 L903.8,569.8 L902.2,570.7 L900.7,571.5 L899.2,572.3 L897.7,573.1 L896.1,574 L894.4,574.9 L892.7,575.9 L890.9,576.8 L889.2,577.8 L887.4,578.8 L885.6,579.8 L883.9,580.8 L882.1,581.7 L880.5,582.7 L878.8,583.6 L877.2,584.5 L875.7,585.3 L874.3,586.1 L872.9,586.9 L871.7,587.6 L870.6,588.2 L869.6,588.7 L868.8,589.2 L868.8,589.2 L869.8,585.6 L870.7,581.9 L871.7,578.1 L872.6,574.1 L873.6,570 L874.7,565.9 L875.8,561.8 L876.9,557.6 L878.2,553.4 L879.5,549.3 L881,545 L882.7,540.4 L884.5,535.7 L886.4,530.9 L888.3,526.1 L890.2,521.5 L892,517.2 L893.6,513.2 L895,509.8 L896.2,507 L897.1,504.8 L897.8,503.2 L898.3,502.1 L898.6,501.3 L898.9,500.9 L899.1,500.6 L899.2,500.5 L899.3,500.4 L899.4,500.3Z" fill="#b3b3b3"/>
<ellipse cx="1142" cy="505" rx="14" ry="1.8" fill="#bdbdbd"/>
<path d="M650,729.8 L868.8,589.2 L867.9,592.6 L867,595.7 L866.1,598.7 L865.3,601.6 L864.5,604.4 L863.7,607.1 L862.9,609.9 L862,612.8 L861.1,615.8 L860.1,618.9 L859.1,622.2 L858,625.6 L856.8,629 L855.6,632.5 L854.5,636 L853.2,639.6 L852,643.2 L850.8,646.8 L849.7,650.4 L848.5,654 L847.4,657.5 L846.4,660.8 L845.4,664 L844.4,667.3 L843.4,670.6 L842.4,674 L841.3,677.6 L840.1,681.4 L838.8,685.6 L837.4,690.2 L835.8,695.3 L834.1,700.8 L832.3,706.6 L830.4,712.7 L828.4,719 L826.4,725.4 L824.4,731.8 L822.5,738.1 L820.6,744.2 L818.8,750.1 L817.1,755.8 L815.4,761.4 L813.6,767 L812,772.6 L810.3,778 L808.7,783.4 L807.1,788.7 L805.6,794 L804.2,799.1 L802.8,804.1 L801.5,808.9 L800.3,813.6 L799.3,818.1 L798.2,822.5 L797.2,826.8 L796.2,831.1 L795.3,835.4 L794.2,839.9 L793.2,844.4 L792,849.1 L790.7,854.1 L789.4,859.3 L788,864.7 L786.6,870.3 L785.1,875.8 L783.7,881.2 L782.4,886.5 L781.1,891.4 L779.9,896 L778.8,900.1 L777.8,903.8 L776.9,907.3 L776.1,910.5 L775.3,913.5 L774.6,916.2 L773.9,918.7 L773.3,920.9 L772.8,922.9 L772.4,924.6 L772,926 L772,930 L650,930Z" fill="#69e76b"/>
<path d="M868.8,589.2 L870.6,588.2 L872.9,586.9 L875.7,585.3 L878.8,583.6 L882.1,581.7 L885.6,579.8 L889.2,577.8 L892.7,575.9 L896.1,574 L899.2,572.3 L902.2,570.7 L905.3,569 L908.4,567.3 L911.5,565.7 L914.6,564 L917.6,562.4 L920.6,560.9 L923.4,559.4 L926.2,557.9 L928.8,556.6 L931.3,555.4 L933.5,554.2 L935.7,553.2 L937.8,552.2 L939.8,551.2 L941.8,550.3 L943.8,549.3 L945.8,548.4 L947.8,547.5 L950,546.5 L952.3,545.5 L954.6,544.5 L957,543.4 L959.4,542.4 L961.8,541.3 L964.2,540.3 L966.6,539.3 L968.8,538.3 L971,537.4 L973.1,536.5 L975,535.6 L976.9,534.8 L978.6,534 L980.3,533.3 L982,532.5 L983.6,531.8 L985.1,531.1 L986.7,530.4 L988.3,529.7 L990,529 L991.7,528.3 L993.4,527.6 L995,526.9 L996.7,526.2 L998.4,525.5 L1000,524.9 L1001.7,524.2 L1003.4,523.6 L1005,523 L1006.7,522.5 L1008.4,522 L1010,521.5 L1011.7,521 L1013.3,520.6 L1015,520.2 L1016.7,519.8 L1018.3,519.4 L1020,519.1 L1021.6,518.8 L1023.3,518.5 L1025,518.3 L1026.7,518 L1028.4,517.8 L1030.1,517.7 L1031.9,517.5 L1033.6,517.4 L1035.2,517.4 L1036.9,517.4 L1038.5,517.4 L1040,517.5 L1041.5,517.7 L1042.9,517.9 L1044.3,518.1 L1045.7,518.4 L1047.1,518.8 L1048.4,519.2 L1049.7,519.6 L1050.9,520.1 L1052.1,520.6 L1053.3,521.2 L1054.4,521.8 L1055.6,522.5 L1056.6,523.2 L1057.7,524 L1058.7,524.8 L1059.7,525.7 L1060.6,526.6 L1061.6,527.5 L1062.4,528.5 L1063.3,529.5 L1064.1,530.6 L1064.9,531.7 L1065.7,532.8 L1066.4,534 L1067.1,535.3 L1067.8,536.6 L1068.4,537.8 L1069,539.1 L1069.5,540.4 L1070,541.7 L1070.4,543 L1070.8,544.3 L1071.1,545.6 L1071.4,546.9 L1071.7,548.2 L1071.9,549.5 L1072.1,550.9 L1072.2,552.2 L1072.4,553.6 L1072.5,555 L1072.6,556.4 L1072.7,557.8 L1072.7,559.1 L1072.8,560.5 L1072.8,561.9 L1072.7,563.3 L1072.7,564.8 L1072.6,566.4 L1072.6,568.2 L1072.5,570 L1072.4,572 L1072.3,574.1 L1072.1,576.4 L1072,578.7 L1071.8,581.1 L1071.6,583.6 L1071.4,586 L1071.2,588.5 L1071,590.9 L1070.8,593.3 L1070.6,595.6 L1070.4,598 L1070.1,600.3 L1069.9,602.7 L1069.6,605 L1069.3,607.3 L1069.1,609.7 L1068.8,612 L1068.6,614.4 L1068.3,616.7 L1068.1,619 L1067.9,621.2 L1067.7,623.3 L1067.5,625.4 L1067.3,627.6 L1067.1,629.8 L1066.8,632.1 L1066.5,634.5 L1066.2,637.2 L1065.8,640 L1065.4,643.1 L1064.9,646.4 L1064.3,649.8 L1063.8,653.4 L1063.2,657.1 L1062.6,660.8 L1061.9,664.7 L1061.2,668.5 L1060.5,672.3 L1059.7,676 L1058.9,679.7 L1058,683.5 L1057.1,687.3 L1056.1,691.1 L1055.2,694.9 L1054.2,698.7 L1053.2,702.5 L1052.2,706.4 L1051.2,710.2 L1050.2,714 L1049.2,717.8 L1048.3,721.8 L1047.3,725.7 L1046.3,729.7 L1045.3,733.6 L1044.4,737.5 L1043.4,741.3 L1042.5,745.1 L1041.6,748.6 L1040.7,752 L1039.9,755.1 L1039.1,757.9 L1038.4,760.4 L1037.7,762.8 L1037.1,765.1 L1036.4,767.6 L1035.6,770.1 L1034.9,773 L1034,776.2 L1033,779.8 L1031.9,783.9 L1030.7,788.5 L1029.5,793.4 L1028.1,798.5 L1026.8,803.8 L1025.4,809.2 L1024,814.6 L1022.6,819.9 L1021.3,825.1 L1020,830 L1018.8,834.7 L1017.6,839.2 L1016.4,843.7 L1015.2,848.1 L1014.1,852.5 L1012.9,856.8 L1011.7,861.2 L1010.5,865.7 L1009.3,870.3 L1008,875 L1006.6,880.1 L1005.1,885.6 L1003.5,891.5 L1001.9,897.4 L1000.2,903.3 L998.7,909 L997.2,914.3 L995.9,919 L994.8,922.9 L994,926 L990,930 L772,930 L772,926 L772.4,924.6 L772.8,922.9 L773.3,920.9 L773.9,918.7 L774.6,916.2 L775.3,913.5 L776.1,910.5 L776.9,907.3 L777.8,903.8 L778.8,900.1 L779.9,896 L781.1,891.4 L782.4,886.5 L783.7,881.2 L785.1,875.8 L786.6,870.3 L788,864.7 L789.4,859.3 L790.7,854.1 L792,849.1 L793.2,844.4 L794.2,839.9 L795.3,835.4 L796.2,831.1 L797.2,826.8 L798.2,822.5 L799.3,818.1 L800.3,813.6 L801.5,808.9 L802.8,804.1 L804.2,799.1 L805.6,794 L807.1,788.7 L808.7,783.4 L810.3,778 L812,772.6 L813.6,767 L815.4,761.4 L817.1,755.8 L818.8,750.1 L820.6,744.2 L822.5,738.1 L824.4,731.8 L826.4,725.4 L828.4,719 L830.4,712.7 L832.3,706.6 L834.1,700.8 L835.8,695.3 L837.4,690.2 L838.8,685.6 L840.1,681.4 L841.3,677.6 L842.4,674 L843.4,670.6 L844.4,667.3 L845.4,664 L846.4,660.8 L847.4,657.5 L848.5,654 L849.7,650.4 L850.8,646.8 L852,643.2 L853.2,639.6 L854.5,636 L855.6,632.5 L856.8,629 L858,625.6 L859.1,622.2 L860.1,618.9 L861.1,615.8 L862,612.8 L862.9,609.9 L863.7,607.1 L864.5,604.4 L865.3,601.6 L866.1,598.7 L867,595.7 L867.9,592.6Z" fill="url(#spk)"/>
<path d="M836,704 L848,712 L860,735 L868,750 L880,770 L900,790 L930,805 L960,815 L985,822 L1005,830 L1020,830 L1019.4,832.4 L1018.8,834.7 L1018.2,837 L1017.6,839.2 L1017,841.5 L1016.4,843.7 L1015.8,845.9 L1015.2,848.1 L1014.6,850.3 L1014.1,852.5 L1013.5,854.6 L1012.9,856.8 L1012.3,859 L1011.7,861.2 L1011.1,863.4 L1010.5,865.7 L1009.9,868 L1000,866.7 L974.3,862 L950.5,857.1 L926.7,854.8 L902.9,854.8 L879,862 L864.8,866.7 L862.4,871.4 L861,883 L854,891 L857,905 L858,930 L772,930 L772,926 L772.4,924.6 L772.8,922.9 L773.3,920.9 L773.9,918.7 L774.6,916.2 L775.3,913.5 L776.1,910.5 L776.9,907.3 L777.8,903.8 L778.8,900.1 L779.9,896 L781.1,891.4 L782.4,886.5 L783.7,881.2 L785.1,875.8 L786.6,870.3 L788,864.7 L789.4,859.3 L790.7,854.1 L792,849.1 L793.2,844.4 L794.2,839.9 L795.3,835.4 L796.2,831.1 L797.2,826.8 L798.2,822.5 L799.3,818.1 L800.3,813.6 L801.5,808.9 L802.8,804.1 L804.2,799.1 L805.6,794 L807.1,788.7 L808.7,783.4 L810.3,778 L812,772.6 L813.6,767 L815.4,761.4 L817.1,755.8 L818.8,750.1 L820.6,744.2 L822.5,738.1 L824.4,731.8 L826.4,725.4 L828.4,719 L830.4,712.7 L832.3,706.6Z" fill="#b3b3b3"/>
<path d="M870.8,591.8C877.1,585.3 892.2,581.4 897.8,580C903.4,578.6 901.8,580 904.6,583.4C907.4,586.8 911.4,594.4 914.8,600.3C918.2,606.2 922.1,613 924.9,618.9C927.7,624.8 930.3,630.4 931.7,635.8C933.1,641.2 933.1,645.7 933.4,651.1C933.7,656.5 934.2,662.9 933.4,668C932.5,673.1 931.4,677.5 928.3,681.5C925.2,685.5 920.2,689.2 914.8,691.7C909.4,694.2 902,695.9 896.1,696.8C890.2,697.6 884.8,697.9 879.2,696.8C873.6,695.7 867.1,692.8 862.3,690C857.5,687.2 853,682.9 850.5,679.8C848,676.7 848.3,672.9 847.1,671.4C845.9,669.9 841.3,679.8 843.5,671C845.7,662.2 855.6,632.1 860.1,618.9C864.6,605.7 864.5,598.3 870.8,591.8Z" fill="#d41e35"/>
<path d="M916.1,563.2 L917.6,562.4 L919.1,561.6 L920.6,560.9 L922,560.1 L923.4,559.4 L924.8,558.6 L926.2,557.9 L927.5,557.3 L928.8,556.6 L930,556 L931.3,555.4 L934.7,563.6 L943.6,582.8 L955.4,596.2 L965.7,605 L980.5,609.5 L992,606 L1000,602 L1011.7,597.5 L1031.7,597 L1056.7,600 L1069.5,601.5 L1069.9,602.7 L1069.7,603.8 L1069.6,605 L1069.5,606.2 L1069.3,607.3 L1069.2,608.5 L1069.1,609.7 L1068.9,610.9 L1068.8,612 L1068.7,613.2 L1068.6,614.4 L1068.4,615.5 L1068.3,616.7 L1068.2,617.9 L1068.1,619 L1068,620.1 L1067.9,621.2 L1067.8,622.2 L1067.7,623.3 L1067.6,624.4 L1067.5,625.4 L1067.4,626.5 L1067.3,627.6 L1067.2,628.7 L1067.1,629.8 L1066.9,630.9 L1066.8,632.1 L1066.7,633.3 L1066.5,634.5 L1066.4,635.8 L1066.2,637.2 L1066,638.5 L1065.8,640 L1065.6,641.5 L1065.4,643.1 L1065.1,644.7 L1064.9,646.4 L1064.6,648.1 L1064.3,649.8 L1064.1,651.6 L1063.8,653.4 L1063.5,655.2 L1063.2,657.1 L1062.9,659 L1062.6,660.8 L1062.2,662.7 L1061.9,664.7 L1061.5,666.6 L1061.2,668.5 L1060.8,670.4 L1060.5,672.3 L1060.1,674.1 L1059.7,676 L1059.3,677.9 L1058.9,679.7 L1058.5,681.6 L1058,683.5 L1057.6,685.4 L1057.1,687.3 L1052,687.5 L1033,676 L1014,668.4 L991.3,660.8 L976,647.5 L966.5,640 L958,636 L953,625 L946.5,612.4 L937.6,600.6 L928.8,588.8 L922.8,576.9 L916.9,565.1Z" fill="#36b84e"/>
<path d="M932.4,554.8 L933.5,554.2 L934.6,553.7 L935.7,553.2 L936.8,552.6 L937.8,552.2 L938.8,551.7 L939.8,551.2 L940.8,550.7 L941.8,550.3 L942.8,549.8 L943.8,549.3 L944.8,548.9 L945.8,548.4 L946.8,548 L947.8,547.5 L948.9,547 L950,546.5 L951.1,546 L952.3,545.5 L953.4,545 L954.6,544.5 L955.8,543.9 L957,543.4 L958.2,542.9 L959.4,542.4 L960.6,541.9 L961.8,541.3 L963,540.8 L964.2,540.3 L965.4,539.8 L966.6,539.3 L967.7,538.8 L968.8,538.3 L970,537.9 L971,537.4 L972.1,536.9 L973.1,536.5 L974.1,536.1 L975,535.6 L976,535.2 L976.9,534.8 L977.8,534.4 L978.6,534 L979.5,533.7 L980.3,533.3 L981.1,532.9 L982,532.5 L982.8,532.2 L983.6,531.8 L984.3,531.5 L985.1,531.1 L985.9,530.7 L986.7,530.4 L987.5,530 L988.3,529.7 L989.2,529.3 L990,529 L990.8,528.6 L991.7,528.3 L992.5,527.9 L993.4,527.6 L994.2,527.2 L995,526.9 L995.9,526.6 L996.7,526.2 L997.5,525.9 L1006.7,545 L1018.3,566.7 L1033.3,580 L1056.7,586.7 L1071.5,587 L1071.3,587.3 L1071.2,588.5 L1071.1,589.7 L1071,590.9 L1070.9,592.1 L1070.8,593.3 L1070.7,594.5 L1070.6,595.6 L1070.5,596.8 L1070.4,598 L1070.2,599.1 L1070.1,600.3 L1070,601.5 L1056.7,600 L1031.7,597 L1011.7,597.5 L1000,602 L992,606 L980.5,609.5 L965.7,605 L955.4,596.2 L943.6,582.8 L934.7,563.6Z" fill="#6a2e72"/>
<path d="M998.4,525.5 L999.2,525.2 L1000,524.9 L1000.9,524.6 L1001.7,524.2 L1002.5,523.9 L1003.4,523.6 L1004.2,523.3 L1005,523 L1005.9,522.8 L1006.7,522.5 L1007.5,522.2 L1008.4,522 L1009.2,521.7 L1010,521.5 L1010.9,521.3 L1011.7,521 L1012.5,520.8 L1013.3,520.6 L1014.2,520.4 L1015,520.2 L1015.8,520 L1016.7,519.8 L1017.5,519.6 L1018.3,519.4 L1019.1,519.2 L1020,519.1 L1020.8,518.9 L1021.6,518.8 L1022.5,518.6 L1023.3,518.5 L1024.1,518.4 L1025,518.3 L1025.8,518.1 L1026.7,518 L1027.5,517.9 L1028.4,517.8 L1029.3,517.7 L1030.1,517.7 L1031,517.6 L1031.9,517.5 L1032.7,517.5 L1033.6,517.4 L1034.4,517.4 L1035.2,517.4 L1036.1,517.3 L1036.1,517.3 L1036.9,517.4 L1037.7,517.4 L1038.5,517.4 L1039.2,517.4 L1040,517.5 L1040.7,517.6 L1041.5,517.7 L1042.2,517.8 L1042.9,517.9 L1043.6,518 L1044.3,518.1 L1045,518.3 L1045.7,518.4 L1046.4,518.6 L1047.1,518.8 L1047.7,519 L1048.4,519.2 L1049,519.4 L1049.7,519.6 L1050.3,519.8 L1050.9,520.1 L1051.5,520.4 L1052.1,520.6 L1052.7,520.9 L1053.3,521.2 L1053.9,521.5 L1054.4,521.8 L1055,522.2 L1055.6,522.5 L1056.1,522.9 L1056.6,523.2 L1057.2,523.6 L1057.7,524 L1058.2,524.4 L1058.7,524.8 L1059.2,525.2 L1059.7,525.7 L1060.2,526.1 L1060.6,526.6 L1061.1,527 L1061.6,527.5 L1062,528 L1062.4,528.5 L1062.9,529 L1063.3,529.5 L1063.7,530 L1064.1,530.6 L1064.5,531.1 L1064.9,531.7 L1065.3,532.2 L1065.7,532.8 L1066.1,533.4 L1066.4,534 L1066.8,534.7 L1067.1,535.3 L1067.5,535.9 L1067.8,536.6 L1068.1,537.2 L1068.4,537.8 L1068.7,538.5 L1069,539.1 L1069.3,539.8 L1069.5,540.4 L1069.8,541.1 L1070,541.7 L1070.2,542.3 L1070.4,543 L1070.6,543.6 L1070.8,544.3 L1071,544.9 L1071.1,545.6 L1071.3,546.2 L1071.4,546.9 L1071.6,547.5 L1071.7,548.2 L1071.8,548.8 L1071.9,549.5 L1072,550.2 L1072.1,550.9 L1072.1,551.5 L1072.2,552.2 L1072.3,552.9 L1072.4,553.6 L1072.4,554.3 L1072.5,555 L1072.6,555.7 L1072.6,556.4 L1072.7,557.1 L1072.7,557.8 L1072.7,558.4 L1072.7,559.1 L1072.8,559.8 L1072.8,560.5 L1072.8,561.2 L1072.8,561.9 L1072.8,562.6 L1072.7,563.3 L1072.7,564.1 L1072.7,564.8 L1072.7,565.6 L1072.6,566.4 L1072.6,567.3 L1072.6,568.2 L1072.5,569.1 L1072.5,570 L1072.5,571 L1072.4,572 L1072.3,573 L1072.3,574.1 L1072.2,575.2 L1072.1,576.4 L1072.1,577.5 L1072,578.7 L1071.9,579.9 L1071.8,581.1 L1071.7,582.3 L1071.6,583.6 L1071.5,584.8 L1071.4,586 L1056.7,586.7 L1033.3,580 L1018.3,566.7 L1006.7,545Z" fill="#d5f29c"/>
<path d="M1026.7,519C1024.8,521.6 1026.6,528.7 1028.3,533.3C1030,537.9 1032.5,543.6 1036.7,546.7C1040.9,549.8 1048.3,551.2 1053.3,551.7C1058.3,552.2 1063.9,551.7 1066.7,550C1069.5,548.3 1070.6,545.1 1070,541.7C1069.4,538.3 1066.1,532.9 1063.3,529.5C1060.5,526.1 1057.2,523.2 1053.3,521.2C1049.4,519.2 1044.4,517.9 1040,517.5C1035.6,517.1 1028.7,516.4 1026.7,519Z" fill="#88e418"/>
<path d="M1046,536 L1051,527 L1056,525 L1053,532 L1049,538Z" fill="#4c4c4c"/>
<circle cx="996.7" cy="536.7" r="3" fill="#30b040"/><circle cx="1000.8" cy="548.3" r="3" fill="#30b040"/><circle cx="1006.7" cy="559.2" r="3.2" fill="#30b040"/><circle cx="1015" cy="573.3" r="4.2" fill="#30b040"/><circle cx="1025" cy="568.3" r="2.2" fill="#30b040"/><circle cx="1033.3" cy="581.7" r="3" fill="#30b040"/><circle cx="1046.7" cy="585.8" r="2.6" fill="#30b040"/><circle cx="1058.3" cy="588.3" r="2.6" fill="#30b040"/>
<path d="M926.7,719 L935,711 L947.5,706.5 L960,701.5 L972.2,698.9 L995,700.8 L1014,706.5 L1033,710.3 L1051.2,710.2 L1050.7,712.1 L1050.2,714 L1049.7,715.9 L1049.2,717.8 L1048.8,719.8 L1048.3,721.8 L1047.8,723.7 L1047.3,725.7 L1046.8,727.7 L1046.3,729.7 L1045.8,731.7 L1045.3,733.6 L1044.9,735.6 L1044.4,737.5 L1043.9,739.5 L1043.4,741.3 L1042.9,743.2 L1042.5,745.1 L1042,746.9 L1041.6,748.6 L1041.1,750.3 L1040.7,752 L1040.3,753.6 L1039.9,755.1 L1039.5,756.5 L1039.1,757.9 L1038.8,759.1 L1038.4,760.4 L1038.1,761.6 L1037.7,762.8 L1037.4,764 L1037.1,765.1 L1036.7,766.3 L1036.4,767.6 L1036,768.8 L1035.6,770.1 L1035.3,771.5 L1034.9,773 L1034.4,774.5 L1034,776.2 L1033.5,777.9 L1033,779.8 L1032.5,781.8 L1031.9,783.9 L1031.3,786.2 L1030.7,788.5 L1030.1,790.9 L1029.5,793.4 L1028.8,795.9 L1028.1,798.5 L1027.5,801.2 L1026.8,803.8 L1026.1,806.5 L1025.4,809.2 L1024.7,811.9 L1024,814.6 L1015,813 L1000,809.5 L986.2,804.8 L962.4,795.2 L941,778.6 L931.4,759.5Z" fill="#092b8a"/>
<path d="M862.4,871.4 L864.8,866.7 L879,862 L902.9,854.8 L926.7,854.8 L950.5,857.1 L974.3,862 L1000,866.7 L1009.9,868 L1009.3,870.3 L1008.6,872.6 L1008,875 L1007.3,877.5 L1006.6,880.1 L1005.9,882.8 L1005.1,885.6 L1004.3,888.5 L1003.5,891.5 L1002.7,894.4 L1001.9,897.4 L1001.1,900.4 L1000.2,903.3 L999.5,906.2 L998.7,909 L997.9,911.7 L997.2,914.3 L996.6,916.7 L995.9,919 L995.4,921.1 L994.8,922.9 L994.4,924.6 L994,926 L858,930 L857,905 L854,891 L861,883Z" fill="#1d4fc8"/>
<path d="M880,792C880.8,788.2 895.8,783.7 905,785C914.2,786.3 925,795.5 935,800C945,804.5 954.2,809 965,812C975.8,815 991.2,814 1000,818C1008.8,822 1018,833.7 1018,836C1018,838.3 1008.8,833.7 1000,832C991.2,830.3 976.7,828.3 965,826C953.3,823.7 940.8,821 930,818C919.2,815 908.3,812.3 900,808C891.7,803.7 879.2,795.8 880,792Z" fill="url(#spk2)"/><path d="M868,846C873.7,842 889.7,842.2 900,842C910.3,841.8 920,844 930,845C940,846 950,846.8 960,848C970,849.2 982,850.3 990,852C998,853.7 1006.3,855.7 1008,858C1009.7,860.3 1005.7,865.3 1000,866C994.3,866.7 982.3,863.5 974,862C965.7,860.5 958,858.2 950,857C942,855.8 933.8,855.3 926,855C918.2,854.7 910.8,853.8 903,855C895.2,856.2 885.2,860.2 879,862C872.8,863.8 867.8,868.7 866,866C864.2,863.3 862.3,850 868,846Z" fill="url(#spk2)"/><path d="M836,704C836,702 844.3,699.8 850,700C855.7,700.2 865,702.5 870,705C875,707.5 881.3,713.2 880,715C878.7,716.8 867,716.5 862,716C857,715.5 854.3,714 850,712C845.7,710 836,706 836,704Z" fill="url(#spk2)"/><path d="M836,898 L848,894 L854,891 L857,905 L858,924 L836,924Z" fill="url(#spk2)"/>
<path d="M989.9,645.3C989.8,646.8 988.4,648.6 987.1,649.7C985.9,650.9 983.9,651.6 982.4,652.1C980.8,652.6 979.5,653.5 978,652.9C976.6,652.3 974,650.2 973.5,648.6C973,646.9 974.3,644.3 975,643C975.7,641.8 976.5,641.7 977.9,641C979.2,640.3 981.2,638.9 982.9,638.8C984.5,638.7 986.7,639.5 987.9,640.6C989.1,641.7 990,643.8 989.9,645.3Z" fill="#6a2e72"/><path d="M1009.5,664.3C1009.9,665.5 1010.8,667.2 1010,668.4C1009.2,669.7 1006.3,671.4 1004.6,671.7C1002.9,672 1001.2,671.1 1000,670.2C998.8,669.3 997.4,667.6 997.4,666.4C997.4,665.3 999.1,664.7 999.7,663.3C1000.4,662 1000.6,659 1001.4,658.4C1002.3,657.9 1003.8,659.5 1004.9,659.9C1005.9,660.3 1007.1,660.1 1007.9,660.9C1008.7,661.6 1009.2,663 1009.5,664.3Z" fill="#6a2e72"/><path d="M1029.3,673.7C1029.5,674.8 1030.4,676.5 1029.8,677.5C1029.2,678.5 1027.3,679.5 1025.8,679.6C1024.3,679.8 1021.9,679.2 1020.9,678.4C1019.8,677.6 1019.3,675.9 1019.2,674.9C1019.2,673.9 1020.2,673.5 1020.7,672.5C1021.2,671.5 1021.3,669.6 1022.3,669C1023.2,668.5 1025.2,668.9 1026.3,669.2C1027.4,669.5 1028.2,670.3 1028.7,671C1029.2,671.8 1029.1,672.7 1029.3,673.7Z" fill="#6a2e72"/><path d="M1050.3,680.6C1050.5,681.9 1049.9,682.7 1049.1,683.4C1048.2,684 1046.6,684.6 1045.5,684.7C1044.3,684.9 1043.1,684.9 1042,684.2C1040.9,683.6 1039.7,681.8 1039.1,680.9C1038.4,680 1037.6,679.7 1038.1,678.8C1038.7,677.9 1041.1,676.1 1042.3,675.6C1043.4,675 1044,675.5 1044.9,675.6C1045.9,675.6 1047.1,675.1 1048,675.9C1048.9,676.8 1050.2,679.4 1050.3,680.6Z" fill="#6a2e72"/><path d="M940.7,573.4C940.9,574.2 940.9,575.2 940.3,575.7C939.8,576.2 938.3,576.2 937.5,576.1C936.6,576 935.9,575.3 935.2,575.1C934.5,574.8 933.3,575.1 933.1,574.7C933,574.2 934.2,573.4 934.4,572.6C934.6,571.8 933.9,570.2 934.4,569.7C934.9,569.1 936.7,569.3 937.5,569.5C938.3,569.7 938.5,570.2 939,570.9C939.5,571.6 940.4,572.6 940.7,573.4Z" fill="#6a2e72"/><path d="M927.2,560.1C927.3,560.7 927.1,561.5 926.9,561.9C926.7,562.4 926.3,562.8 925.8,562.8C925.3,562.9 924.5,562.4 924,562.1C923.4,561.8 922.6,561.3 922.5,560.9C922.3,560.4 922.9,559.9 923.1,559.4C923.3,558.8 923.3,557.8 923.7,557.4C924.1,557 925,556.8 925.5,557C925.9,557.1 926.2,557.7 926.5,558.2C926.8,558.7 927.1,559.5 927.2,560.1Z" fill="#6a2e72"/><path d="M951.9,595.4C951.9,595.9 951.2,596.5 950.8,596.9C950.4,597.3 950,597.3 949.5,597.5C949,597.7 948.5,598.6 947.9,598.3C947.2,598 945.8,596.4 945.7,595.7C945.5,595 946.7,594.6 947,594C947.3,593.3 946.9,592.4 947.4,592C947.9,591.6 949.3,591.3 949.9,591.6C950.4,591.8 950.4,592.9 950.8,593.5C951.1,594.2 951.9,594.8 951.9,595.4Z" fill="#6a2e72"/><path d="M982.3,671.3C982.3,673.1 981.8,674.5 980.6,676.3C979.3,678.2 976.9,681.4 974.8,682.5C972.8,683.5 969.6,684.1 968.1,682.7C966.6,681.3 966.5,676.5 965.8,673.9C965.1,671.4 963.4,669.3 963.7,667.2C964,665.2 966,662.2 967.6,661.6C969.1,661 970.9,663 973,663.7C975.2,664.3 979,664.2 980.5,665.4C982.1,666.7 982.3,669.5 982.3,671.3Z" fill="#d41e35"/><path d="M1010.1,684.6C1010,686.3 1008.9,689.4 1008,690.2C1007,691.1 1006.1,689.7 1004.5,689.7C1002.8,689.7 999.5,690.4 997.8,690.2C996.1,690 994.6,689.9 994.2,688.4C993.8,686.9 994.8,682.7 995.4,681.1C996.1,679.4 997.1,679.6 998.3,678.7C999.6,677.8 1001.2,675.3 1002.9,675.5C1004.6,675.7 1007.3,678.4 1008.5,679.9C1009.7,681.4 1010.2,682.8 1010.1,684.6Z" fill="#d41e35"/><path d="M1031.5,689.2C1031.2,690.8 1029.9,692.6 1028.6,694C1027.3,695.4 1025.4,697.4 1023.8,697.8C1022.2,698.2 1019.9,697.5 1018.9,696.2C1017.9,695 1018.3,691.8 1017.6,690.4C1017,689 1014.5,688.9 1015.1,687.8C1015.7,686.7 1019.6,684.8 1021.2,683.8C1022.7,682.7 1022.8,681.3 1024.3,681.5C1025.7,681.7 1028.9,683.5 1030.1,684.8C1031.3,686.1 1031.7,687.7 1031.5,689.2Z" fill="#d41e35"/><path d="M1052.5,696.2C1052.7,697.4 1051.7,698.3 1050.3,699.4C1049,700.5 1046.1,702.5 1044.4,702.7C1042.7,703 1041,701.6 1039.8,700.9C1038.7,700.3 1037.9,700.2 1037.5,698.8C1037.1,697.4 1037.1,694 1037.7,692.5C1038.3,690.9 1039.7,689.9 1041,689.3C1042.3,688.6 1044.2,688.1 1045.6,688.6C1046.9,689.1 1047.9,690.9 1049,692.2C1050.2,693.5 1052.3,695 1052.5,696.2Z" fill="#d41e35"/><path d="M903.2,717C903,718.3 903.7,720.8 903,721.7C902.3,722.6 900.5,722.3 899,722.6C897.4,722.9 895.1,724.2 893.9,723.7C892.6,723.2 891.8,721 891.6,719.5C891.4,718 891.9,716.2 892.6,714.9C893.2,713.6 894.3,712.2 895.6,711.6C896.8,711 898.6,711 900,711.4C901.4,711.7 903.5,712.9 904.1,713.8C904.6,714.7 903.4,715.7 903.2,717Z" fill="#d41e35"/><path d="M898.2,736.5C898,737.6 898.2,738.5 897.8,739.2C897.3,739.9 896.7,740.8 895.8,740.8C894.8,740.8 892.9,739.9 891.9,739.2C891,738.5 890.2,737.4 890,736.7C889.7,735.9 890.2,735.4 890.5,734.7C890.7,734 890.7,732.8 891.5,732.3C892.3,731.9 893.8,732.2 895.1,732.3C896.3,732.3 898.5,731.9 899,732.6C899.5,733.3 898.4,735.4 898.2,736.5Z" fill="#d41e35"/><path d="M923.8,730.5C923.8,731.3 923,731.3 922.2,732.1C921.5,732.9 920.2,734.9 919.2,735C918.3,735.2 917.6,733.9 916.6,733.1C915.6,732.4 913.8,731.3 913.3,730.4C912.7,729.5 913,728.3 913.5,727.7C914,727 915.4,726.9 916.3,726.5C917.2,726.2 918.1,725.6 919,725.7C919.9,725.8 921,726.2 921.8,727C922.6,727.8 923.7,729.6 923.8,730.5Z" fill="#d41e35"/><path d="M920,749.7C919.9,750.7 920,752.3 919.1,753.1C918.3,754 916,755 914.7,755C913.4,755.1 912.5,754.3 911.5,753.7C910.4,753.1 908.8,752.6 908.4,751.5C908,750.4 908.5,748.4 909,747.1C909.6,745.8 910.4,744.5 911.5,743.8C912.6,743.1 914.1,742.2 915.4,742.8C916.7,743.4 918.5,746.2 919.2,747.4C920,748.5 920,748.7 920,749.7Z" fill="#d41e35"/><path d="M923.4,775.4C923.7,778 922.2,782.1 921.1,784.4C920,786.8 919.2,789.1 916.9,789.6C914.7,790.1 910.1,789.1 907.5,787.6C905,786.1 902,782.9 901.6,780.6C901.2,778.3 904,775.7 905,773.8C906,771.8 906,770 907.5,768.9C909,767.9 911.9,767.6 913.9,767.6C915.8,767.7 917.7,767.8 919.3,769.1C920.9,770.4 923.1,772.9 923.4,775.4Z" fill="#d41e35"/><path d="M862.4,698.2C862.3,699.2 861.1,700.8 860.3,701.4C859.5,702.1 858.5,702 857.7,702.1C857,702.2 856.7,702.3 855.9,701.9C855.1,701.6 853.2,700.7 852.8,699.8C852.4,699 853,697.5 853.5,696.9C854,696.3 855,696.6 855.8,696.2C856.7,695.9 857.8,694.9 858.6,694.8C859.5,694.7 860.3,695 860.9,695.6C861.6,696.1 862.6,697.2 862.4,698.2Z" fill="#d41e35"/><path d="M857.4,725.2C857.2,726.3 855.6,726.3 854.8,727C854,727.8 853.2,729.9 852.5,730C851.9,730 851.3,728 850.7,727.2C850.1,726.4 849.5,726 849,725.4C848.6,724.8 847.7,724.3 848,723.5C848.4,722.8 850.3,721.2 851.1,720.7C851.9,720.2 851.8,720.5 852.6,720.5C853.4,720.4 855.1,719.8 855.9,720.6C856.7,721.4 857.6,724.2 857.4,725.2Z" fill="#d41e35"/><path d="M956.1,659.7C956.2,660.6 956.7,663 956.4,663.5C956.1,664 955,662.8 954.1,662.9C953.2,663 951.7,664.2 950.9,664.1C950.1,664 949.5,663 949.3,662.2C949.1,661.4 949.3,660 949.7,659.2C950,658.4 950.7,658.1 951.3,657.5C951.9,656.9 952.4,655.5 953.1,655.6C953.8,655.6 955.2,656.9 955.7,657.6C956.2,658.3 956,658.7 956.1,659.7Z" fill="#d41e35"/><path d="M964.1,689.2C963.9,690 963.2,692.3 962.6,692.8C962.1,693.4 961.5,692.5 960.8,692.6C960.1,692.7 958.8,693.8 958.3,693.5C957.7,693.2 957.5,691.7 957.3,690.9C957.2,690.1 957.3,689.6 957.4,688.8C957.5,688 957.7,686.5 958.2,686.2C958.7,686 959.5,686.9 960.4,687.1C961.3,687.4 963.2,687.6 963.8,687.9C964.4,688.3 964.3,688.4 964.1,689.2Z" fill="#d41e35"/><path d="M942.3,700.3C942.5,701 943.2,701.9 942.8,702.4C942.4,702.8 940.8,703 940,703.1C939.2,703.2 938.6,703.4 938,703C937.5,702.5 937.1,701.3 936.9,700.6C936.7,699.9 936.6,699.1 936.9,698.7C937.2,698.2 938.3,698.3 938.8,698C939.4,697.7 939.7,696.8 940.2,696.8C940.6,696.9 941.3,697.8 941.7,698.4C942.1,699 942.2,699.7 942.3,700.3Z" fill="#d41e35"/><ellipse cx="949.4" cy="674.1" rx="6" ry="12" fill="#092b8a" transform="rotate(-15 949.4 674.1)"/><ellipse cx="949.4" cy="645.6" rx="6" ry="7" fill="#092b8a"/><ellipse cx="843.8" cy="697.8" rx="7" ry="10" fill="#092b8a" transform="rotate(10 843.8 697.8)"/><ellipse cx="874.2" cy="728.2" rx="13" ry="16" fill="#092b8a"/><ellipse cx="985" cy="690" rx="5" ry="4" fill="#092b8a"/><ellipse cx="965" cy="700" rx="4" ry="3" fill="#092b8a"/><ellipse cx="910" cy="700" rx="4" ry="3" fill="#092b8a" transform="rotate(30 910 700)"/><path d="M884.6,754.2C885,756.9 886.5,762.9 885,765.3C883.6,767.7 878.8,768.5 875.9,768.6C873,768.6 870,766.9 867.8,765.4C865.6,763.9 863.5,761.4 863,759.5C862.4,757.6 863.9,756.6 864.6,753.9C865.2,751.2 864.8,745.1 867,743.3C869.1,741.4 874.9,742.1 877.5,743C880.1,744 881.4,747.1 882.6,749C883.8,750.9 884.2,751.5 884.6,754.2Z" fill="#c0c0c0"/><path d="M940.1,706.8C940,709.3 939.2,712.4 938.1,713.3C937,714.2 935.6,712.1 933.6,712.2C931.5,712.4 927.7,714.6 925.9,714.3C924.1,714 923.2,712.5 922.9,710.4C922.6,708.3 923.6,703.3 924.3,701.5C924.9,699.7 925.2,700.4 926.8,699.8C928.4,699.1 931.9,698.1 933.9,697.8C935.8,697.4 937.5,696.2 938.6,697.7C939.6,699.2 940.2,704.2 940.1,706.8Z" fill="#c0c0c0"/><path d="M846.3,712.8C846,713.7 845.9,715.1 845.5,715.8C845.1,716.5 844.8,716.7 843.8,716.9C842.8,717.1 840.1,717.4 839.3,717.1C838.5,716.7 839.1,715.5 838.9,714.8C838.8,714 838.2,713.4 838.3,712.4C838.5,711.3 839.2,709.1 839.9,708.3C840.7,707.5 841.5,707.5 842.8,707.8C844.1,708.1 847.2,709.2 847.8,710C848.4,710.9 846.7,711.8 846.3,712.8Z" fill="#c0c0c0"/><path d="M970,648.9C970.2,650.2 970.1,653.5 969.1,654.5C968.1,655.6 965.9,654.9 963.9,655.1C962,655.2 958.7,655.9 957.5,655.5C956.4,655 957.8,653.9 957.3,652.5C956.7,651.2 954.2,648.6 954.2,647.2C954.2,645.8 955.9,644.7 957.4,644.1C958.8,643.5 961.3,643 963,643.4C964.8,643.8 966.7,645.4 967.9,646.3C969.1,647.2 969.8,647.5 970,648.9Z" fill="#c0c0c0"/><path d="M943.7,640.4C943.8,641.6 943.5,642.9 943,643.5C942.5,644.2 941.6,644.2 940.8,644.4C939.9,644.5 938.7,644.8 937.8,644.3C936.8,643.8 935.5,642.2 934.9,641.3C934.4,640.4 934.2,639.9 934.5,638.9C934.8,637.8 935.7,635.5 936.7,635C937.7,634.5 939.3,635.5 940.4,635.7C941.4,636 942.2,635.9 942.8,636.7C943.3,637.5 943.7,639.3 943.7,640.4Z" fill="#c0c0c0"/><path d="M993.7,693.6C993.7,694.7 994.1,696.2 993.5,697.1C992.9,698.1 991,699.1 990.2,699.1C989.4,699.1 989.3,697.6 988.5,696.9C987.7,696.3 985.7,696.1 985.3,695.1C984.9,694.1 986.1,692 986.3,691C986.6,690 985.9,689.3 986.8,688.9C987.7,688.4 990.7,687.9 991.8,688.2C992.9,688.6 993.2,690.1 993.5,691C993.9,691.9 993.8,692.6 993.7,693.6Z" fill="#c0c0c0"/><path d="M1033.6,699.5C1033.4,700.6 1033,702.5 1032.6,703.1C1032.1,703.7 1031.4,703.2 1030.7,703.1C1029.9,703.1 1029,703.1 1028.1,702.7C1027.2,702.3 1026,701.4 1025.5,700.7C1025.1,700.1 1025,699.6 1025.3,698.8C1025.5,698.1 1026.2,696.6 1027,696.2C1027.7,695.9 1028.8,696.7 1029.9,696.8C1031.1,696.9 1033.1,696.3 1033.7,696.8C1034.3,697.2 1033.8,698.5 1033.6,699.5Z" fill="#c0c0c0"/><path d="M793,923 L797,906 L804,900 L810,904 L811,923Z" fill="#36b84e"/><path d="M813,923C812.9,920 811.7,909 812.5,905C813.3,901 814.4,900.2 818,899C821.6,897.8 830.7,897 834,898C837.3,899 837.3,900.8 838,905C838.7,909.2 838,920 838,923Z" fill="#092b8a"/><path d="M787,923 L790,914 L796,917 L796,923Z" fill="#e0f080"/><path d="M794,866 L797,852 L806,848 L808,858Z" fill="#36b84e"/><path d="M825.6,839.9C825.7,840.9 826.2,841.6 825.8,842.1C825.5,842.7 824.3,843.1 823.3,843.2C822.3,843.4 820.6,843.4 819.8,843.1C819,842.8 818.6,842.4 818.2,841.5C817.9,840.6 817.5,838.8 817.6,837.9C817.7,836.9 818,836.3 818.8,835.8C819.6,835.3 821.1,834.8 822.2,834.9C823.3,835 825,835.7 825.6,836.5C826.2,837.4 825.6,839 825.6,839.9Z" fill="#80f080"/><circle cx="853.3" cy="846.6" r="3" fill="#2070d0"/><circle cx="847.7" cy="844.4" r="2" fill="#f020c0"/><path d="M925.1,712.8C925.2,713.8 921.5,712.8 920.4,714C919.3,715.2 919.7,718.9 918.5,719.8C917.3,720.7 915.3,719.6 913.3,719.4C911.3,719.3 907.6,719.7 906.5,718.7C905.4,717.6 906.8,714.7 906.6,713.1C906.5,711.5 905.3,710.4 905.5,709.1C905.7,707.8 906.7,706.6 907.9,705.4C909.1,704.3 910.8,702.5 912.7,702C914.5,701.5 918,701.5 919.2,702.4C920.4,703.3 918.8,705.7 919.8,707.4C920.8,709.2 925,711.7 925.1,712.8Z" fill="#36b84e"/><path d="M907,755.4C907.2,756.8 906.2,755.6 905.6,757C905.1,758.5 905.2,763.5 903.6,764.2C902,764.9 898.3,761.8 896.2,761.1C894.1,760.4 892.1,761.1 891.2,760.1C890.3,759 891.5,756.7 890.8,754.7C890.1,752.8 887.2,749.6 886.9,748.3C886.5,746.9 887.5,747.6 888.6,746.8C889.8,745.9 891.7,743.6 893.7,743.2C895.6,742.8 898.6,743.3 900.3,744.2C902,745 902.9,746.5 904,748.3C905.2,750.2 906.7,753.9 907,755.4Z" fill="#36b84e"/><path d="M869.7,700C869.6,701.2 871.4,702.4 871.1,703C870.9,703.7 869.1,703.6 868.1,704.1C867.1,704.7 865.8,706.5 865.2,706.3C864.7,706.2 865.4,703.7 865,703C864.5,702.4 862.8,703.1 862.5,702.4C862.2,701.8 863.1,700.3 863.3,699.1C863.5,698 863.1,696 863.5,695.7C863.9,695.4 865,697.6 865.8,697.2C866.6,696.9 867.4,693.8 868.5,693.6C869.5,693.4 871.7,695 871.9,696C872.1,697.1 869.8,698.9 869.7,700Z" fill="#36b84e"/><path d="M853.3,712.1C853.7,712.8 853.5,715 852.9,715.5C852.3,716.1 850.5,715.1 849.7,715.5C848.9,715.9 848.9,718 848.2,718.1C847.5,718.1 846.1,716.7 845.6,715.9C845.2,715.1 845.9,714.2 845.7,713.5C845.4,712.8 844.3,712.2 844.2,711.6C844,710.9 844.3,710.2 845,709.5C845.7,708.9 847.3,708.1 848.2,707.9C849.2,707.8 850.2,708.1 850.6,708.7C851.1,709.2 850.4,710.9 850.9,711.5C851.3,712.1 853,711.4 853.3,712.1Z" fill="#36b84e"/><path d="M862.7,750.3C863.1,752.6 861.7,756.1 860.1,757.8C858.6,759.5 855.2,760.6 853.5,760.7C851.7,760.7 851.4,759.7 849.7,758.2C848,756.6 843.6,753.4 843.1,751.5C842.5,749.5 845.3,747.7 846.3,746.3C847.2,744.9 847.2,744 848.6,743C849.9,742.1 852.9,740.5 854.4,740.6C855.9,740.8 856.1,742.2 857.4,743.8C858.8,745.4 862.2,748 862.7,750.3Z" fill="#1e50d0"/><path d="M872.9,855.8C872.8,857.3 870.4,857.7 869.5,858.7C868.7,859.8 869,861.4 867.6,861.8C866.1,862.3 862.6,862.4 860.9,861.7C859.2,861 858.1,859.4 857.5,857.9C856.8,856.4 856.3,854.3 857,852.7C857.8,851.2 860.5,849.6 862,848.7C863.5,847.8 865,847.2 866.2,847.3C867.5,847.4 868.6,848.1 869.7,849.5C870.8,850.9 872.9,854.2 872.9,855.8Z" fill="#f020c0"/><circle cx="855.2" cy="766.3" r="3.5" fill="#f020c0"/><path d="M930.8,693.6C930.6,694.7 930.7,696 930,696.9C929.3,697.8 928.1,698.3 926.7,698.7C925.3,699.2 922.7,700.1 921.6,699.5C920.5,699 920.3,696.8 920.1,695.4C920,694 920.5,692.4 920.9,691.2C921.3,689.9 921.2,688.6 922.5,687.9C923.9,687.2 927.4,686.6 928.9,687C930.4,687.4 931.4,689.1 931.7,690.2C932.1,691.3 931.1,692.4 930.8,693.6Z" fill="#b24e22"/><path d="M903.8,785.2C903.4,787.1 903,789.5 901.4,790.6C899.9,791.7 896.5,791.9 894.4,792C892.4,792.1 890.6,791.9 889.2,791.4C887.9,790.9 886.8,790.6 886.3,789C885.7,787.5 885.4,784.3 885.9,782.2C886.4,780.1 887.7,777.7 889.3,776.4C891,775.1 893.4,774 895.8,774.4C898.1,774.8 902.3,777 903.6,778.8C905,780.6 904.2,783.2 903.8,785.2Z" fill="#b24e22"/><path d="M817.2,825.6C817.4,828.1 816.4,829.9 815.3,831.6C814.2,833.2 812.4,835.6 810.4,835.5C808.4,835.3 805,832 803,830.5C801,829.1 799.2,828.5 798.3,826.9C797.3,825.3 796.4,822.8 797.4,821C798.3,819.2 801.8,817 803.8,816.2C805.8,815.3 807.8,815.6 809.5,815.8C811.2,815.9 812.8,815.3 814.1,816.9C815.4,818.5 817,823.2 817.2,825.6Z" fill="#b24e22"/><path d="M881.1,699.2C880.9,699.7 880.4,699.6 880,700.2C879.5,700.8 878.9,702.4 878.5,702.7C878,702.9 877.6,702.1 877,701.6C876.5,701.2 875.6,700.5 875.2,699.8C874.9,699.1 874.7,698 874.8,697.5C875,697 875.5,697 876.2,696.7C876.9,696.4 878.2,695.8 879,695.9C879.9,696 880.8,696.6 881.2,697.1C881.5,697.7 881.3,698.7 881.1,699.2Z" fill="#b24e22"/><path d="M894.2,790.5C894.5,792.8 891.1,793.5 889.2,795.3C887.2,797.1 885.5,800.7 882.5,801.3C879.6,801.9 874.8,799.4 871.5,799C868.2,798.5 863.9,800.7 862.6,798.6C861.4,796.5 864.6,789.7 864.1,786.2C863.6,782.7 858.1,779 859.6,777.6C861.2,776.2 869.7,778.4 873.4,778C877.1,777.5 879.6,774.5 881.9,775C884.2,775.5 885.2,778.4 887.2,781C889.3,783.5 893.9,788.1 894.2,790.5Z" fill="#4c4c4c"/><path d="M844.9,816.4C844.8,820 842.9,827 841.4,829.4C839.8,831.7 838.4,828.7 835.5,830.7C832.6,832.7 827.1,841.1 823.8,841.2C820.5,841.4 817.5,835.7 815.7,831.6C813.9,827.5 813,820.6 813.2,816.6C813.4,812.6 815.1,811 817.1,807.7C819.1,804.5 822,798.4 825.2,797C828.5,795.6 833.8,797.5 836.6,799.3C839.4,801.1 840.6,804.7 841.9,807.6C843.3,810.4 845,812.8 844.9,816.4Z" fill="#4c4c4c"/><path d="M843.6,727.8C843.5,729.2 843,729.6 842.6,730.8C842.2,731.9 842.2,734.1 841.1,734.7C840.1,735.3 837.7,735.1 836.4,734.6C835.1,734.2 833.8,733.4 833.6,732.1C833.3,730.8 834.7,728.2 834.8,726.8C834.9,725.4 833.7,724.3 834.2,723.7C834.6,723 836.4,723.2 837.4,722.9C838.4,722.6 839.2,722.1 840.2,722.1C841.1,722 842.7,721.4 843.3,722.3C843.8,723.3 843.8,726.4 843.6,727.8Z" fill="#4c4c4c"/><path d="M834.5,740.7C834.9,742 836.6,745.2 835.9,746.1C835.2,746.9 831.7,745.9 830.5,745.9C829.2,745.8 829.3,745.9 828.4,745.9C827.5,745.9 825.5,746.9 825.1,746C824.7,745.1 826,742.3 825.8,740.7C825.7,739.1 823.6,737.1 824.1,736.3C824.6,735.6 827.6,736.3 828.8,736.3C830,736.2 830.5,735.6 831.3,736C832.1,736.4 833.1,737.7 833.6,738.4C834.1,739.2 834.1,739.5 834.5,740.7Z" fill="#4c4c4c"/><path d="M921,826.5C921.7,828.3 923.6,831.8 922.9,833.2C922.2,834.7 918.4,834.9 916.8,835.3C915.3,835.6 914.9,835.9 913.5,835.4C912.1,835 909.6,833.9 908.2,832.5C906.8,831.1 905.1,829 905.1,827.1C905.1,825.2 906.7,822.7 908,820.9C909.2,819.1 911.2,817.3 912.7,816.5C914.1,815.6 915.7,815.1 916.7,816C917.7,817 918,820.4 918.7,822.2C919.4,823.9 920.3,824.6 921,826.5Z" fill="#4c4c4c"/><path d="M942.5,815.1C942.2,816.1 938.6,818.7 937.5,819.8C936.5,820.9 937.1,820.9 936.2,821.8C935.3,822.6 933.7,825.3 932,825C930.3,824.8 927.1,821.6 926.1,820.4C925.1,819.2 925.7,819.3 925.8,818C925.9,816.6 926.2,814 926.8,812.4C927.5,810.8 928.3,808.8 929.7,808.3C931.1,807.9 933.4,808.8 935.1,809.7C936.7,810.6 938.4,813.1 939.6,814C940.8,814.9 942.9,814.1 942.5,815.1Z" fill="#4c4c4c"/><path d="M974.4,827.3C974.4,828.1 972.4,829.4 971.5,830.6C970.5,831.9 969.7,833.7 968.6,834.6C967.5,835.5 966.2,836.4 964.9,835.9C963.6,835.5 961.5,832.6 960.8,831.6C960,830.6 960.4,831.4 960.5,829.9C960.7,828.5 960.8,824 961.7,823.1C962.6,822.1 964.7,824 965.8,824.2C966.9,824.5 967.5,824.2 968.4,824.5C969.3,824.8 970.5,825.4 971.4,825.9C972.4,826.4 974.4,826.5 974.4,827.3Z" fill="#4c4c4c"/><path d="M957.5,836.4C957.2,837.6 956.2,838.6 955.6,839.3C954.9,840.1 954.3,840.7 953.6,840.9C953,841.2 952.5,840.9 951.8,840.7C951.2,840.4 950.6,840.2 949.8,839.4C948.9,838.6 947,836.9 946.7,835.8C946.5,834.7 947.5,833.5 948.4,832.9C949.3,832.2 951.3,831.8 952.2,831.8C953.2,831.8 953.2,832.9 954.1,833C955.1,833.1 957.2,831.9 957.7,832.4C958.3,833 957.9,835.3 957.5,836.4Z" fill="#4c4c4c"/><path d="M987.7,844.8C987.5,845.7 987.5,847.2 987.2,848.3C986.9,849.5 986.6,851.3 985.8,851.6C985,851.8 983.2,850.5 982.4,849.8C981.6,849.1 981.6,848.4 981.1,847.5C980.5,846.5 979.5,845.3 979.1,844.3C978.7,843.3 978.4,842 978.9,841.3C979.3,840.7 980.5,840.5 981.6,840.3C982.6,840.1 984.1,839.6 985.3,840C986.4,840.4 988,841.7 988.4,842.5C988.8,843.3 987.9,843.8 987.7,844.8Z" fill="#4c4c4c"/><path d="M824.7,774.9C824.8,775.8 823.5,777.1 823.1,778C822.7,778.9 823,779.7 822.2,780.3C821.5,780.8 820,781.4 818.8,781.2C817.6,781.1 815.4,780.3 815.1,779.2C814.7,778 816.6,775.4 816.7,774.4C816.9,773.3 815.7,773.3 816.1,772.7C816.5,772.1 818.2,771.2 819.2,770.7C820.2,770.2 821.7,769.3 822.3,769.7C822.8,770 822.2,771.8 822.6,772.7C823,773.6 824.6,774 824.7,774.9Z" fill="#4c4c4c"/><circle cx="917.4" cy="704.1" r="4" fill="#6a2e72"/><circle cx="897" cy="765" r="4" fill="#6a2e72"/><circle cx="803" cy="845" r="4" fill="#6a2e72"/><circle cx="808" cy="851" r="2.5" fill="#f0f080"/>
<ellipse cx="663" cy="537" rx="7" ry="10" fill="#80f080"/><circle cx="662" cy="549" r="4" fill="#c0c0c0"/><path d="M697.8,534.6C697.6,535.9 695.9,537.7 695,538.7C694.2,539.6 693.9,540 692.9,540.3C691.8,540.6 689.5,540.8 688.8,540.3C688.1,539.8 688.9,538.5 688.7,537.4C688.5,536.2 687.4,534.1 687.7,533.3C688,532.4 689.6,532.6 690.5,532.1C691.3,531.5 691.9,530.2 692.8,530C693.8,529.8 695.4,530.3 696.2,531.1C697.1,531.9 698,533.4 697.8,534.6Z" fill="#c0c0c0"/><path d="M707.3,559.5C707,560.8 704.4,559.7 702.7,561C700.9,562.4 698.7,567 696.9,567.6C695.1,568.1 693.5,565.5 692,564.3C690.4,563.1 687.9,562 687.5,560.4C687.1,558.8 688.8,556.4 689.6,554.7C690.3,553 690.4,551.6 692,550.2C693.7,548.9 697.4,546.2 699.4,546.7C701.5,547.1 703.2,550.8 704.5,552.9C705.8,555.1 707.6,558.1 707.3,559.5Z" fill="#c0c0c0"/><path d="M713.1,575.6C713,576.5 713,577.9 712.4,578.5C711.7,579.1 710.2,578.8 709.4,579.1C708.6,579.4 708.1,580.7 707.5,580.4C706.9,580.2 706.2,578.6 705.9,577.5C705.6,576.4 705.4,574.8 705.6,573.9C705.9,573.1 706.8,572.5 707.5,572.3C708.2,572.1 708.9,572.7 709.8,572.8C710.6,572.9 712.2,572.7 712.8,573.2C713.3,573.6 713.1,574.7 713.1,575.6Z" fill="#c0c0c0"/><path d="M751.2,631.5C750.9,632.6 750.8,634.1 750.3,635C749.9,636 749.7,637 748.3,637.4C747,637.7 743.2,638 742,637.3C740.8,636.6 741.5,634.4 741.4,633.2C741.3,632 741.1,630.9 741.4,630.1C741.8,629.3 742.6,629.1 743.5,628.2C744.4,627.3 745.4,624.7 746.8,624.7C748.3,624.7 751.5,627.2 752.2,628.3C753,629.4 751.5,630.4 751.2,631.5Z" fill="#c0c0c0"/><path d="M730,612.4C730.3,617.8 728.4,622.7 726.4,626.5C724.3,630.3 720,633.6 717.7,635.2C715.5,636.7 717.2,635.4 712.8,635.6C708.3,635.8 696.1,637.7 691.2,636.4C686.3,635.2 685.3,630.3 683.2,628C681.2,625.7 680.2,625.4 678.8,622.5C677.4,619.6 675,613.5 674.7,610.5C674.4,607.5 675.8,607.9 677.1,604.5C678.3,601.1 678.5,593.3 682.1,590.2C685.8,587 694.3,586.2 699,585.6C703.7,585.1 707.3,586 710.6,587C713.9,588.1 716.4,590.8 718.7,591.9C721.1,593 722.9,590.3 724.8,593.7C726.7,597.1 729.7,606.9 730,612.4Z" fill="#c0c0c0"/><path d="M748,667.8 A13,13 0 0 1 774,651.1 Z" fill="#c0c0c0"/><path d="M651,730.2 A9,9 0 0 1 668,719.2 Z" fill="#c0c0c0"/><circle cx="690" cy="605" r="2" fill="#f020c0"/><circle cx="696" cy="603" r="2.2" fill="#f020c0"/><circle cx="702" cy="601" r="3" fill="#2050d0"/><circle cx="708" cy="604" r="4" fill="#092b8a"/><circle cx="719.3" cy="599.8" r="6" fill="#e02040"/><circle cx="719" cy="610" r="4" fill="#6a2080"/><circle cx="712" cy="609" r="3" fill="#40b040"/><circle cx="716" cy="616" r="2.5" fill="#e0f080"/><circle cx="695" cy="540" r="1.5" fill="#092b8a"/><circle cx="698" cy="557" r="2.5" fill="#092b8a"/><circle cx="703" cy="556" r="2" fill="#e02040"/><circle cx="697" cy="560" r="1.5" fill="#40b040"/><path d="M727.3,636.1C727.7,637.5 726.4,639.7 725.4,640.7C724.4,641.8 722.8,642.3 721.2,642.4C719.6,642.4 717,641.8 715.6,641.2C714.3,640.6 713.6,639.9 713.2,638.8C712.8,637.8 712.9,636.2 713.2,634.9C713.4,633.6 713.7,631.5 714.7,631C715.8,630.4 718,631.1 719.4,631.4C720.7,631.6 721.6,631.7 722.9,632.5C724.2,633.3 726.8,634.8 727.3,636.1Z" fill="#80f080"/><circle cx="705" cy="640.4" r="3.5" fill="#40e0a0"/><circle cx="697" cy="639" r="2.5" fill="#40e0e0"/><circle cx="719" cy="647" r="3" fill="#c0c0c0"/><circle cx="705" cy="646" r="2.5" fill="#c0c0c0"/>
<g fill="none" stroke="#a4d2fa" stroke-width="4" stroke-linecap="round" stroke-linejoin="round"><path d="M650,729.8 L868.8,589.2"/><path d="M868.8,589.2C873.9,586.4 889.2,577.7 899.2,572.3C909.2,566.9 920.3,560.9 928.8,556.6C937.3,552.3 942.6,549.9 950,546.5C957.4,543.1 966.4,539.4 973.1,536.5C979.8,533.6 984.4,531.3 990,529C995.6,526.7 1001.2,524.2 1006.7,522.5C1012.2,520.8 1017.8,519.3 1023.3,518.5C1028.8,517.7 1035,517 1040,517.5C1045,518 1049.4,519.2 1053.3,521.2C1057.2,523.2 1060.5,526.1 1063.3,529.5C1066.1,532.9 1068.5,537.5 1070,541.7C1071.5,546 1072.1,550.3 1072.5,555C1072.9,559.7 1072.8,563.6 1072.5,570C1072.2,576.4 1071.5,585.5 1070.8,593.3C1070.1,601.1 1069.1,608.9 1068.3,616.7C1067.5,624.5 1067.2,630.1 1065.8,640C1064.4,649.9 1062.3,663.7 1059.7,676C1057.1,688.3 1053.4,701.3 1050.2,714C1047,726.7 1043.6,741 1040.7,752C1037.8,763 1036.5,766.8 1033,779.8C1029.5,792.8 1024.2,814.1 1020,830C1015.8,845.9 1012.3,859 1008,875C1003.7,891 996.3,917.5 994,926"/><path d="M899.5,500C899,501.2 899.5,498.8 896.2,507C892.9,515.2 884.1,535.6 879.5,549.3C874.9,563 872,577.6 868.8,589.2C865.6,600.8 863.5,608.1 860.1,618.9C856.7,629.7 852.3,642.1 848.5,654C844.7,665.9 842.4,674.2 837.4,690.2C832.4,706.2 824.6,731.1 818.8,750.1C813,769.1 807.3,787.6 802.8,804.1C798.3,820.6 796,833.1 792,849.1C788,865.1 782.1,887.3 778.8,900.1C775.5,912.9 773.1,921.7 772,926"/></g>
</g>
<path d="M24,434.4v-5M24,14v5M99.7,434.4v-5M99.7,14v5M175.4,434.4v-5M175.4,14v5M251.1,434.4v-5M251.1,14v5M326.8,434.4v-5M326.8,14v5M402.5,434.4v-5M402.5,14v5M478.2,434.4v-5M478.2,14v5M553.9,434.4v-5M553.9,14v5M24.5,434h5M554.5,434h-5M24.5,364h5M554.5,364h-5M24.5,294h5M554.5,294h-5M24.5,224h5M554.5,224h-5M24.5,154h5M554.5,154h-5M24.5,84h5M554.5,84h-5M24.5,14h5M554.5,14h-5" stroke="#151515" stroke-width="1.2" fill="none"/>
<rect x="24.5" y="14" width="530" height="420.4" fill="none" stroke="#151515" stroke-width="1.25"/>
<g font-family="&quot;Liberation Sans&quot;, sans-serif" font-size="17" fill="#222222" letter-spacing="0.6"><text x="24" y="456" text-anchor="middle">-3</text><text x="99.7" y="456" text-anchor="middle">-2</text><text x="175.4" y="456" text-anchor="middle">-1</text><text x="251.1" y="456" text-anchor="middle">0</text><text x="326.8" y="456" text-anchor="middle">1</text><text x="402.5" y="456" text-anchor="middle">2</text><text x="478.2" y="456" text-anchor="middle">3</text><text x="553.9" y="456" text-anchor="middle">4</text><text x="16.5" y="440" text-anchor="end">-3</text><text x="16.5" y="370" text-anchor="end">-2</text><text x="16.5" y="300" text-anchor="end">-1</text><text x="16.5" y="230" text-anchor="end">0</text><text x="16.5" y="160" text-anchor="end">1</text><text x="16.5" y="90" text-anchor="end">2</text><text x="16.5" y="20" text-anchor="end">3</text></g>
<path d="M670.6,432.8v-5M670.6,14v5M725.2,432.8v-5M725.2,14v5M779.9,432.8v-5M779.9,14v5M834.6,432.8v-5M834.6,14v5M889.2,432.8v-5M889.2,14v5M943.9,432.8v-5M943.9,14v5M998.5,432.8v-5M998.5,14v5M1053.2,432.8v-5M1053.2,14v5M1107.8,432.8v-5M1107.8,14v5M1162.5,432.8v-5M1162.5,14v5M657.1,423.1h5M1186.7,423.1h-5M657.1,372.7h5M1186.7,372.7h-5M657.1,322.3h5M1186.7,322.3h-5M657.1,271.9h5M1186.7,271.9h-5M657.1,221.5h5M1186.7,221.5h-5M657.1,171.1h5M1186.7,171.1h-5M657.1,120.7h5M1186.7,120.7h-5M657.1,70.3h5M1186.7,70.3h-5M657.1,19.9h5M1186.7,19.9h-5" stroke="#151515" stroke-width="1.2" fill="none"/>
<rect x="657.1" y="14" width="529.6" height="418.8" fill="none" stroke="#151515" stroke-width="1.25"/>
<g font-family="&quot;Liberation Sans&quot;, sans-serif" font-size="17" fill="#222222" letter-spacing="0.6"><text x="670.6" y="456" text-anchor="middle">-0.2</text><text x="725.2" y="456" text-anchor="middle">-0.15</text><text x="779.9" y="456" text-anchor="middle">-0.1</text><text x="834.6" y="456" text-anchor="middle">-0.05</text><text x="889.2" y="456" text-anchor="middle">0</text><text x="943.9" y="456" text-anchor="middle">0.05</text><text x="998.5" y="456" text-anchor="middle">0.1</text><text x="1053.2" y="456" text-anchor="middle">0.15</text><text x="1107.8" y="456" text-anchor="middle">0.2</text><text x="1162.5" y="456" text-anchor="middle">0.25</text><text x="649" y="429.1" text-anchor="end">1.4</text><text x="649" y="378.7" text-anchor="end">1.45</text><text x="649" y="328.3" text-anchor="end">1.5</text><text x="649" y="277.9" text-anchor="end">1.55</text><text x="649" y="227.5" text-anchor="end">1.6</text><text x="649" y="177.1" text-anchor="end">1.65</text><text x="649" y="126.7" text-anchor="end">1.7</text><text x="649" y="76.3" text-anchor="end">1.75</text><text x="649" y="25.9" text-anchor="end">1.8</text></g>
<path d="M24,923.6v-5M24,504.9v5M99.7,923.6v-5M99.7,504.9v5M175.4,923.6v-5M175.4,504.9v5M251.1,923.6v-5M251.1,504.9v5M326.8,923.6v-5M326.8,504.9v5M402.5,923.6v-5M402.5,504.9v5M478.2,923.6v-5M478.2,504.9v5M553.9,923.6v-5M553.9,504.9v5M24.7,924h5M554.5,924h-5M24.7,854h5M554.5,854h-5M24.7,784.1h5M554.5,784.1h-5M24.7,714.2h5M554.5,714.2h-5M24.7,644.4h5M554.5,644.4h-5M24.7,574.5h5M554.5,574.5h-5M24.7,504.5h5M554.5,504.5h-5" stroke="#151515" stroke-width="1.2" fill="none"/>
<rect x="24.7" y="504.9" width="529.8" height="418.7" fill="none" stroke="#151515" stroke-width="1.25"/>
<g font-family="&quot;Liberation Sans&quot;, sans-serif" font-size="17" fill="#222222" letter-spacing="0.6"><text x="24" y="946" text-anchor="middle">-3</text><text x="99.7" y="946" text-anchor="middle">-2</text><text x="175.4" y="946" text-anchor="middle">-1</text><text x="251.1" y="946" text-anchor="middle">0</text><text x="326.8" y="946" text-anchor="middle">1</text><text x="402.5" y="946" text-anchor="middle">2</text><text x="478.2" y="946" text-anchor="middle">3</text><text x="553.9" y="946" text-anchor="middle">4</text><text x="16.5" y="930" text-anchor="end">-3</text><text x="16.5" y="860" text-anchor="end">-2</text><text x="16.5" y="790.1" text-anchor="end">-1</text><text x="16.5" y="720.2" text-anchor="end">0</text><text x="16.5" y="650.4" text-anchor="end">1</text><text x="16.5" y="580.5" text-anchor="end">2</text><text x="16.5" y="510.5" text-anchor="end">3</text></g>
<path d="M657,922.5v-5M657,503.4v5M763,922.5v-5M763,503.4v5M869,922.5v-5M869,503.4v5M975,922.5v-5M975,503.4v5M1081,922.5v-5M1081,503.4v5M1187,922.5v-5M1187,503.4v5M657.3,900.5h5M1186.4,900.5h-5M657.3,845.5h5M1186.4,845.5h-5M657.3,790.5h5M1186.4,790.5h-5M657.3,735.5h5M1186.4,735.5h-5M657.3,680.5h5M1186.4,680.5h-5M657.3,625.5h5M1186.4,625.5h-5M657.3,570.5h5M1186.4,570.5h-5M657.3,515.5h5M1186.4,515.5h-5" stroke="#151515" stroke-width="1.2" fill="none"/>
<rect x="657.3" y="503.4" width="529.1" height="419.1" fill="none" stroke="#151515" stroke-width="1.25"/>
<g font-family="&quot;Liberation Sans&quot;, sans-serif" font-size="17" fill="#222222" letter-spacing="0.6"><text x="657" y="946" text-anchor="middle">-0.2</text><text x="763" y="946" text-anchor="middle">-0.1</text><text x="869" y="946" text-anchor="middle">0</text><text x="975" y="946" text-anchor="middle">0.1</text><text x="1081" y="946" text-anchor="middle">0.2</text><text x="1187" y="946" text-anchor="middle">0.3</text><text x="649" y="906.5" text-anchor="end">1.45</text><text x="649" y="851.5" text-anchor="end">1.5</text><text x="649" y="796.5" text-anchor="end">1.55</text><text x="649" y="741.5" text-anchor="end">1.6</text><text x="649" y="686.5" text-anchor="end">1.65</text><text x="649" y="631.5" text-anchor="end">1.7</text><text x="649" y="576.5" text-anchor="end">1.75</text><text x="649" y="521.5" text-anchor="end">1.8</text></g>
</svg>
</body></html>
